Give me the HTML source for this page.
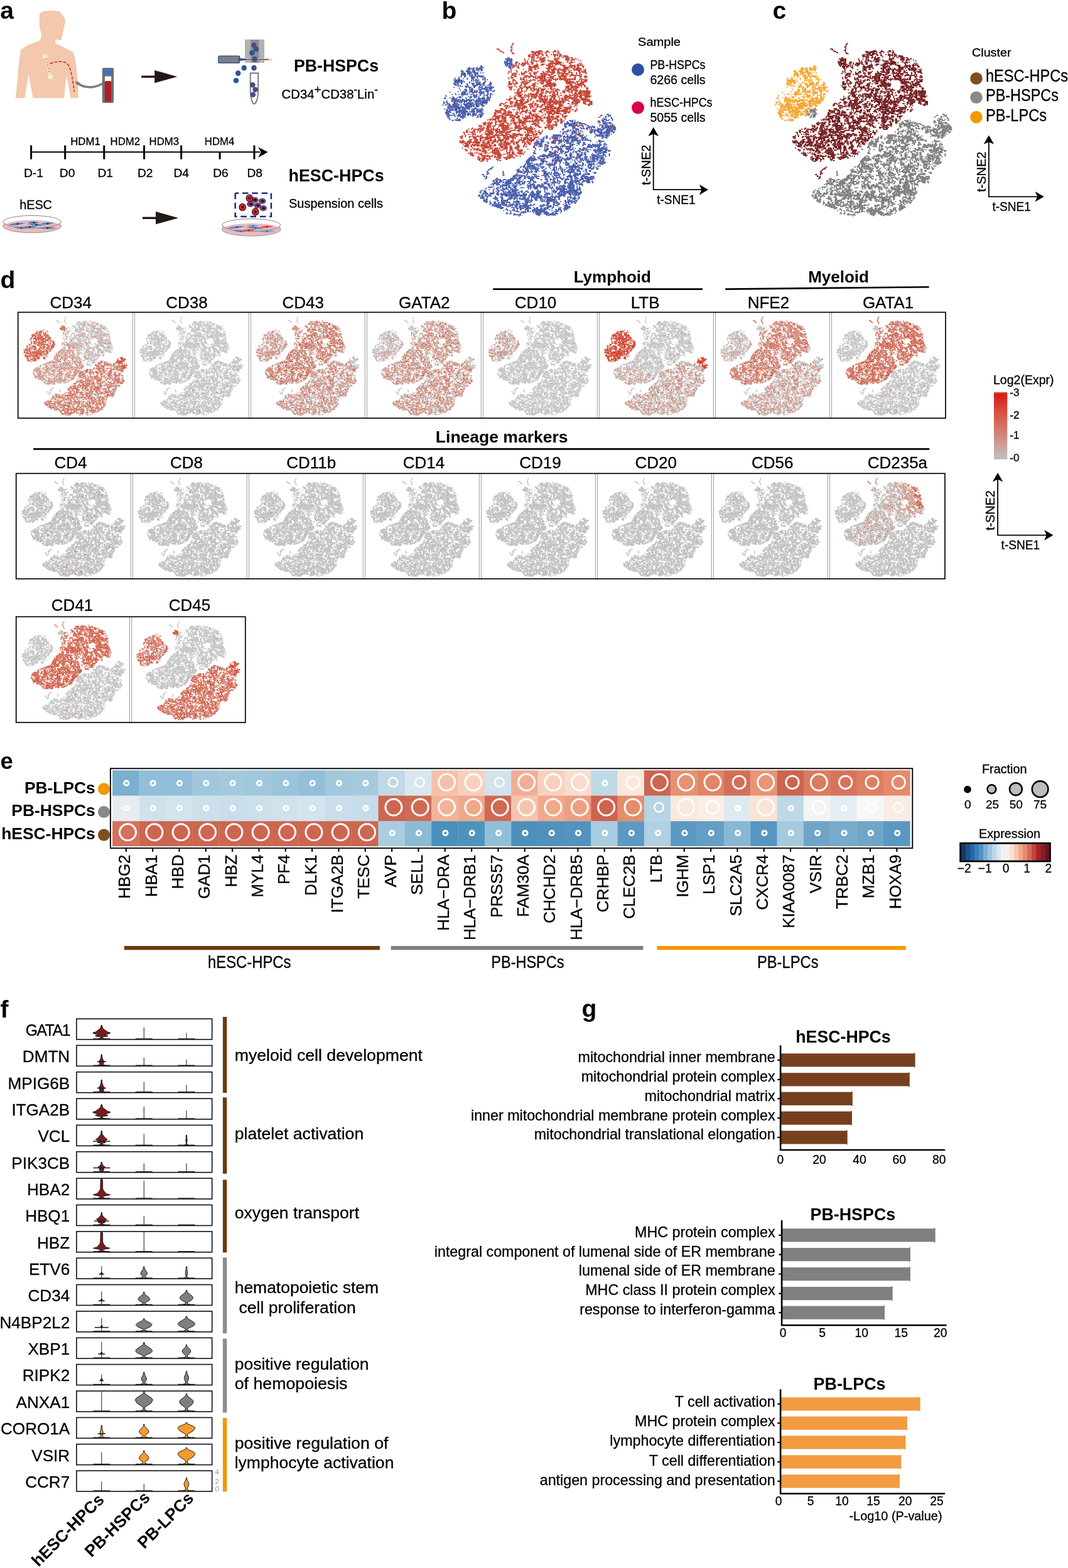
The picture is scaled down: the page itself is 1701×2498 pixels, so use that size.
<!DOCTYPE html>
<html lang="en"><head><meta charset="utf-8"><title>Figure</title>
<style>html,body{margin:0;padding:0;background:#fff}svg{display:block}text{font-family:'Liberation Sans',sans-serif;stroke:#000;stroke-width:.3px}text[font-weight=bold]{stroke:none}</style></head>
<body><svg width="1701" height="2498" viewBox="0 0 1701 2498">
<rect width="1701" height="2498" fill="#fff"/>
<defs>
<path id="bL" d="M84 81h0m3 0h0m10 2h0m3-2h0m7 2h0m2 0h0m1-3h0m3 3h0m6-3h0m4-6h0m0 3h0m0 3h0m3-3h0m0 4h0m4-1h0m-4 4h0m0 3h0m0 3h0m-3-3h0m0 3h0m-1-6h0m-3 0h0m-3 0h0m0 3h0m0 4h0m-3-4h0m-3 3h0m-1-3h0m-6 3h0m0 3h0m-3-9h0m0 3h0m0 4h0m-1 3h0m-3-7h0m0 3h0m0 4h0m-3-10h0m-3 0h0m0 9h0m-4-9h0m0 3h0m0 3h0m0 4h0m-3-10h0m0 3h0m0 3h0m0 4h0m-3-10h0m0 6h0m0 3h0m-3 0h0m-1-3h0m-10 3h0m-3-3h0m0 3h0m-2 1h0m-1-4h0m0 10h0m0 4h0m0 3h0m3-10h0m0 3h0m0 3h0m3-6h0m1 3h0m0 4h0m3-7h0m0 3h0m0 3h0m0 3h0m3-6h0m0 3h0m0 3h0m7-9h0m0 4h0m3-1h0m1-4h0m2 1h0m0 3h0m0 3h0m1 4h0m2-10h0m1 3h0m0 6h0m2 1h0m1-10h0m0 6h0m3 0h0m0 4h0m4-10h0m3 0h0m0 3h0m0 3h0m0 4h0m3-11h0m0 4h0m0 4h0m0 3h0m3-10h0m0 3h0m4-4h0m0 4h0m0 4h0m0 3h0m3 0h0m3-1h0m3-9h0m1 10h0m3 0h0m3-10h0m0 9h0m14 13h0m-7-6h0m0 4h0m-3-7h0m0 6h0m-4-5h0m0 5h0m0 3h0m-3-9h0m-3 0h0m-4-1h0m-7 1h0m0 3h0m0 6h0m-3-9h0m-2 7h0m-5-7h0m-2 0h0m0 3h0m0 3h0m-3 0h0m-1-6h0m0 3h0m-2 3h0m-2-6h0m0 4h0m-13 0h0m0 3h0m-6-8h0m-3 1h0m-3 6h0m-7-6h0m-6 4h0m0 3h0m-1-7h0m-3 6h0m-10-2h0m0 2h0m-3 4h0m0 9h0m3-9h0m0 4h0m0 2h0m1 3h0m2-6h0m0 6h0m1-9h0m0 7h0m2-4h0m1-3h0m0 7h0m0 3h0m3-7h0m0 3h0m0 4h0m1-10h0m2 0h0m0 3h0m0 4h0m3-7h0m1 3h0m0 4h0m3-7h0m0 3h0m0 4h0m0 2h0m3-6h0m0 4h0m0 2h0m4-6h0m3 3h0m16 3h0m1-3h0m6-6h0m0 3h0m0 7h0m3 0h0m3-10h0m1 3h0m0 7h0m6-10h0m0 3h0m0 4h0m3-7h0m1 7h0m0 3h0m2-7h0m0 3h0m0 4h0m4-10h0m0 10h0m1-4h0m2 4h0m1-4h0m9 4h0m3-3h0m0 3h0m3 0h0m1-10h0m0 3h0m0 3h0m16 4h0m1-4h0m2 4h0m8 13h0m-4-1h0m-3-9h0m0 10h0m-1-4h0m-3-6h0m0 4h0m0 2h0m0 4h0m-2-10h0m-1 3h0m0 7h0m-3 0h0m-1-6h0m-2 6h0m-4-4h0m0 4h0m-3 0h0m-3-6h0m-1-4h0m-3 0h0m0 4h0m-3 3h0m0 3h0m-3-10h0m0 3h0m-1 7h0m-2 0h0m-1-10h0m0 4h0m0 3h0m-3-7h0m0 10h0m-3-10h0m0 3h0m-3 0h0m-1-3h0m-2 6h0m-1-3h0m-3 4h0m0 3h0m-1-6h0m-2-4h0m0 4h0m0 6h0m-1-4h0m-2-3h0m-1-3h0m-6 10h0m-3 0h0m-4-3h0m0 3h0m-3-10h0m0 3h0m0 3h0m-3-6h0m0 7h0m0 3h0m-3 0h0m-1-4h0m-10 1h0m-3-7h0m-3 7h0m-1-3h0m-5 3h0m-1-7h0m0 3h0m-4 0h0m-2 0h0m-1-2h0m-3-1h0m0 3h0m-3-3h0m0 10h0m17 3h0m3 6h0m13-2h0m4-1h0m0 4h0m2-3h0m1 3h0m9-7h0m0 4h0m3-1h0m1 3h0m3-6h0m0 4h0m1 3h0m2-6h0m0 2h0m0 4h0m7 0h0m7-1h0m6-5h0m0 2h0m3 4h0m1-4h0m2 4h0m1-4h0m3-3h0m0 3h0m3-2h0m3 2h0m1-2h0m3-1h0m0 4h0m3 0h0m0 3h0m1-7h0m2 1h0m1 2h0m0 4h0m2 0h0m1-4h0m3-3h0m1 7h0m2-7h0m0 3h0m0 4h0m3-7h0m0 3h0m1 4h0m3-7h0m6 7h0m0 3h0m-3 0h0m-3 0h0m-1 10h0m-3-3h0m-2 0h0m-1 3h0m-6-10h0m0 3h0m0 7h0m-1-3h0m-2-7h0m0 3h0m-1 7h0m-3-10h0m-6 11h0m-1-11h0m0 4h0m0 3h0m-3-4h0m-2 4h0m-1-7h0m0 4h0m-3 0h0m0 2h0m-1-6h0m0 10h0m-2-4h0m0 4h0m-1-10h0m0 4h0m-3 0h0m-4-4h0m-2 10h0m-1-10h0m0 4h0m-2 0h0m-1-4h0m-3 3h0m0 8h0m-1-11h0m-2 4h0m-1 6h0m-2-3h0m-1-7h0m0 3h0m-3 0h0m0 7h0m-1-10h0m-2 10h0m-1-10h0m-3 0h0m0 4h0m-6 2h0m0 4h0m-3-10h0m-1 10h0m-2-4h0m-1-5h0m0 3h0m0 6h0m-3-10h0m0 4h0m0 3h0m0 3h0m-4-10h0m0 4h0m0 3h0m0 4h0m-2-1h0m-1-7h0m0 4h0m-2-1h0m-1 4h0m-7 0h0m-3-9h0m-7 9h0m-2-3h0m-10 3h0m-7-7h0m-17 17h0m0 3h0m3 0h0m1-10h0m0 3h0m13 4h0m6 3h0m3-6h0m1 3h0m0 3h0m3-3h0m0 3h0m7 0h0m3-3h0m6-3h0m1 3h0m3-3h0m0 3h0m2 0h0m4-4h0m1-2h0m10 6h0m3 3h0m6-7h0m4 4h0m2-4h0m0 4h0m3 0h0m1-3h0m6-4h0m0 3h0m3 4h0m1-6h0m0 3h0m3 0h0m1-4h0m0 7h0m2-6h0m1 2h0m3 7h0m3-6h0m0 3h0m0 3h0m3 0h0m1-10h0m3 10h0m4-3h0m2 0h0m0 3h0m3-6h0m0 4h0m1-8h0m0 10h0m2 0h0m4-10h0m3 7h0m0 3h0m1-10h0m0 3h0m3 1h0m0 4h0m0 2h0m3-3h0m4-7h0m0 4h0m0 3h0m-3 6h0m0 4h0m-1-6h0m-3 3h0m-3 0h0m0 3h0m0 4h0m-3-7h0m-1 3h0m0 3h0m-3-6h0m0 2h0m0 4h0m-3 0h0m-1-7h0m0 4h0m-2 0h0m0 3h0m-1-7h0m-3 4h0m0 3h0m-1-9h0m-2 5h0m0 5h0m-3-8h0m0 4h0m-1 3h0m-2-6h0m-1 3h0m0 3h0m-3-6h0m0 2h0m-1 4h0m-3-6h0m0 3h0m0 3h0m-3-3h0m0 3h0m-3 1h0m-3-8h0m0 4h0m-3-4h0m-4 1h0m0 3h0m-3 4h0m-1-8h0m0 4h0m-2 3h0m-1-7h0m0 4h0m-3-4h0m0 3h0m-3-2h0m0 2h0m-3 4h0m-1-6h0m0 3h0m-3 0h0m0 3h0m-3-3h0m-1-3h0m0 6h0m-2-6h0m0 2h0m-3-5h0m0 3h0m-1 3h0m0 3h0m-3-4h0m0 4h0m-4-7h0m0 4h0m0 3h0m-2 0h0m-1-6h0m-3-1h0m0 4h0m0 3h0m-3-6h0m0 2h0m0 4h0m-3-4h0m-1-2h0m0 6h0m-3-9h0m0 2h0m0 4h0m0 4h0m-3-8h0m0 4h0m0 3h0m-3-7h0m-1 4h0m-3-4h0m0 4h0m0 3h0m-16-3h0m-1 3h0m-9 0h0m-3 11h0m3-7h0m0 3h0m4-4h0m2 7h0m4-6h0m0 6h0m3-7h0m0 4h0m3 6h0m1-6h0m0 3h0m2-3h0m0 7h0m1-4h0m3 3h0m3 1h0m3-4h0m1-3h0m0 6h0m3-10h0m0 4h0m0 3h0m0 3h0m3-9h0m0 2h0m0 4h0m0 3h0m3-7h0m0 4h0m0 3h0m3-6h0m0 4h0m1-7h0m0 10h0m3-7h0m1 3h0m0 3h0m3-3h0m2-6h0m4 6h0m0 3h0m1-10h0m6 4h0m3-4h0m0 4h0m0 3h0m3 3h0m1-6h0m0 3h0m2-3h0m1 3h0m0 3h0m2-9h0m1 3h0m0 4h0m0 2h0m3-10h0m0 3h0m0 5h0m0 3h0m3-10h0m0 3h0m1 3h0m0 4h0m2-10h0m1 3h0m0 3h0m0 4h0m3-7h0m0 4h0m0 2h0m1-9h0m2-1h0m0 3h0m0 5h0m0 2h0m4-6h0m0 3h0m0 3h0m6-9h0m0 2h0m0 4h0m1 4h0m2-10h0m0 3h0m0 3h0m0 3h0m3-3h0m0 3h0m1-9h0m0 2h0m3 0h0m0 4h0m0 4h0m3-7h0m1-3h0m2-1h0m0 4h0m1 3h0m3-7h0m0 7h0m0 3h0m1-7h0m2-3h0m0 4h0m0 4h0m0 3h0m4-10h0m0 9h0m2-7h0m1-3h0m3 0h0m1 4h0m2-4h0m-29 13h0m-3 7h0m-1-7h0m-3 4h0m0 3h0m-3-3h0m0 3h0m-3-7h0m0 7h0m0 3h0m-4-3h0m-3-6h0m0 9h0m-3-10h0m-3 4h0m0 3h0m-1-7h0m-3 1h0m0 3h0m0 3h0m-3-7h0m0 4h0m0 3h0m-3-4h0m-1-3h0m0 7h0m-2-4h0m-1-2h0m0 7h0m0 2h0m-3-6h0m0 4h0m-3-8h0m0 4h0m0 3h0m-3-6h0m-1 3h0m0 3h0m-3-6h0m-3 0h0m0 3h0m0 6h0m-1-2h0m-3-7h0m0 2h0m0 4h0m-2-3h0m0 3h0m-1-6h0m-3 0h0m0 3h0m-1 3h0m0 3h0m-2-9h0m-1 3h0m0 3h0m0 3h0m-3-10h0m0 3h0m0 4h0m0 3h0m-3-9h0m-3 0h0m0 2h0m0 4h0m-4-7h0m0 4h0m0 4h0m-3-8h0m0 3h0m0 5h0m-4-5h0m0 5h0m-2-7h0m0 6h0m-1-3h0m-3-4h0m0 4h0m0 6h0m-3-2h0m-7-1h0m3 10h0m0 4h0m3-8h0m1-2h0m0 6h0m0 3h0m3-6h0m0 4h0m1 3h0m2 0h0m1-7h0m0 3h0m3-6h0m0 3h0m0 3h0m3-6h0m0 7h0m3-7h0m3 0h0m1 10h0m3-10h0m6 2h0m1 4h0m0 4h0m3-7h0m0 3h0m0 3h0m3-6h0m1 3h0m2 0h0m0 4h0m1-10h0m0 3h0m2 4h0m1-4h0m3-3h0m0 3h0m0 4h0m0 3h0m3-10h0m1 2h0m0 4h0m0 4h0m2-10h0m1 3h0m0 3h0m0 3h0m3-9h0m0 3h0m0 3h0m0 3h0m3-3h0m0 4h0m1-7h0m2 0h0m1 3h0m2-3h0m0 3h0m1 4h0m4-1h0m2 0h0m1-6h0m3 3h0m3-3h0m0 3h0m3-6h0m0 3h0m1 3h0m0 4h0m2-4h0m0 4h0m1-7h0m2 13h0m-2-3h0m0 3h0m-4-3h0m0 3h0m0 3h0m-6-3h0m-1-4h0m-3 0h0m-3 1h0m0 3h0m-3-3h0m0 3h0m-6-3h0m-1 3h0m0 7h0m-3-10h0m0 4h0m0 3h0m-3 3h0m-1-10h0m0 3h0m0 3h0m-2-3h0m-1-3h0m0 7h0m0 2h0m-2 0h0m-1-3h0m-3-6h0m0 3h0m0 7h0m-1-4h0m-2 0h0m-1-6h0m0 4h0m-3-2h0m0 5h0m-3-3h0m-7-1h0m0 4h0m-3-8h0m-1 5h0m-2-5h0m-4 5h0m-3-1h0m-4 0h0m-2-3h0m0 2h0m0 7h0m-1-3h0m-3-7h0m0 4h0m0 4h0m0 3h0m-3-7h0m-1-3h0m8 14h0m2-1h0m1 4h0m7 2h0m3 1h0m6-3h0m3 2h0m3-3h0m1-4h0m0 8h0m3 0h0m1-4h0m2 4h0m1-4h0m2 4h0m1-3h0m6-4h0m3-1h0"/>
<path id="bG" d="M129 215h0m-3-6h0m0 4h0m-3 0h0m-4-1h0m-6 0h0m0 3h0m-11 4h0m1 3h0m0 4h0m6-10h0m0 2h0m0 8h0m1-4h0m2 0h0m1-3h0m3-3h0m0 2h0m0 4h0m3-3h0m1-3h0m0 7h0m2-7h0m0 6h0m1-3h0m2 6h0m1-7h0m0 4h0m3 4h0m1 2h0m-4 1h0m0 3h0m-1 3h0m-2-6h0m0 3h0m0 3h0m0 3h0m-3-5h0m0 6h0m-1-10h0m0 6h0m-2-6h0m-4 3h0m0 3h0m0 4h0m-3 0h0m-3-10h0m-1 4h0m-3-4h0"/>
<path id="bM" d="M222 8h0m1-2h0m1 0h0m2-3h0m-5 10h0m0 2h0m0 5h0m0 2h0m-3-7h0m-38 8h0m-1-1h0m-1-1h0m-4 0h0m9 6h0m3 1h0m2 0h0m2 2h0m4 2h0m1 1h0m22-8h0m3 1h0m0 2h0m2 4h0m1 3h0m2 0h0m59-6h0m1 4h0m2-4h0m0 4h0m4-4h0m0 4h0m0 2h0m3-2h0m3-3h0m1 3h0m3-4h0m0 3h0m3-3h0m0 4h0m3-6h0m1 3h0m0 3h0m2 0h0m1-7h0m0 3h0m3 0h0m1-2h0m2 2h0m1 4h0m9 0h0m4-4h0m0 3h0m3-6h0m1 3h0m2 0h0m3 3h0m13-2h0m1 2h0m3-6h0m1 3h0m2-3h0m1 4h0m6-4h0m0 6h0m3-3h0m1 4h0m29 13h0m-3-3h0m0 3h0m-4-3h0m0 3h0m-2 0h0m-1-4h0m-3 3h0m-1-2h0m-6-3h0m0 6h0m-3-3h0m-1-4h0m-2-3h0m-1 3h0m0 4h0m0 3h0m-6-10h0m0 4h0m0 3h0m-3-3h0m-4-1h0m0 3h0m-2 3h0m-1-6h0m0 3h0m-3-5h0m0 3h0m-7-1h0m-10 7h0m-3-4h0m-3-6h0m0 4h0m0 2h0m-10 0h0m-1-3h0m-2 1h0m-1-4h0m-3 0h0m0 9h0m-4-9h0m-2 3h0m-1-3h0m-2 0h0m0 10h0m-1-7h0m0 4h0m-2-3h0m-1 2h0m-3-2h0m0 2h0m-1-6h0m-3 0h0m0 3h0m-2 7h0m-1-6h0m0 3h0m-3-4h0m0 4h0m-1 2h0m-2-6h0m0 7h0m-4-6h0m0 5h0m-3-6h0m-1 4h0m0 3h0m-2-3h0m0 3h0m-1-6h0m-46-4h0m33 16h0m1 4h0m2 3h0m7 0h0m4-6h0m9 3h0m1-7h0m0 3h0m3-3h0m0 7h0m3-7h0m0 6h0m0 4h0m1-6h0m2 6h0m4 0h0m2 0h0m1-10h0m4 0h0m2 10h0m4-10h0m0 4h0m0 3h0m3-7h0m0 3h0m0 3h0m3 1h0m1-4h0m0 7h0m2-4h0m1-6h0m0 3h0m0 7h0m3-10h0m0 4h0m0 3h0m3-7h0m1 7h0m9 0h0m1 3h0m5 0h0m4 0h0m4 0h0m6-6h0m0 3h0m1-7h0m2 3h0m0 3h0m1 4h0m2-7h0m1 4h0m0 3h0m2-6h0m1-3h0m0 9h0m3-10h0m1 4h0m13-4h0m9 4h0m0 3h0m1-7h0m2 6h0m1-5h0m0 2h0m2 4h0m0 2h0m1-9h0m0 4h0m3 0h0m0 3h0m1-7h0m6 0h0m0 7h0m0 3h0m3-10h0m0 4h0m0 3h0m4-4h0m0 4h0m3 0h0m3-4h0m3 0h0m7 4h0m7 3h0m3 7h0m-3 3h0m-3-3h0m-4 3h0m-13-6h0m-6 0h0m-1 2h0m-3-3h0m0 3h0m-3 4h0m-1-4h0m-2 1h0m-4-4h0m-3 0h0m-13 3h0m-7-2h0m0 2h0m0 4h0m-3-4h0m0 4h0m-1-7h0m-2 4h0m-1-6h0m0 3h0m0 6h0m-3-6h0m0 3h0m0 3h0m-3-6h0m0 3h0m0 3h0m-3-7h0m0 7h0m-1-3h0m-3 0h0m0 2h0m-3-6h0m0 4h0m-3 3h0m-1-7h0m0 4h0m-2-4h0m-1 4h0m0 3h0m-4-6h0m0 3h0m0 3h0m-2 0h0m-3 0h0m-14-9h0m0 2h0m0 7h0m-3-7h0m0 7h0m-4-6h0m0 6h0m-3-9h0m0 3h0m-13-1h0m0 6h0m-13-5h0m0 3h0m0 3h0m-3-3h0m-1-6h0m0 2h0m0 7h0m-3-7h0m-7 7h0m-2-4h0m-1-3h0m0 7h0m-3-4h0m-4-3h0m0 4h0m0 3h0m-2-3h0m-1 3h0m-3-3h0m0 3h0m-3-4h0m0 3h0m-3 1h0m-7-3h0m0 3h0m-6-6h0m-1 2h0m-3-3h0m0 3h0m0 4h0m-3-3h0m-10 10h0m0 6h0m3-6h0m0 3h0m3-7h0m0 3h0m1 3h0m2-5h0m4-1h0m0 4h0m4 3h0m2-6h0m0 6h0m1-3h0m0 6h0m2 0h0m7-10h0m4 1h0m3-1h0m0 4h0m4-4h0m12 10h0m1-6h0m2-4h0m1 4h0m0 3h0m0 3h0m3-6h0m0 3h0m0 3h0m4-3h0m0 4h0m3-7h0m0 3h0m3-4h0m0 4h0m3-6h0m0 6h0m0 3h0m1-6h0m2-1h0m0 7h0m1-10h0m0 7h0m3-7h0m0 4h0m0 2h0m3-6h0m0 4h0m0 2h0m0 4h0m3 1h0m7-11h0m4 0h0m2 0h0m11 0h0m0 10h0m2 0h0m1-9h0m3 0h0m0 6h0m1-4h0m0 7h0m2-3h0m1-7h0m0 4h0m0 7h0m2-8h0m1-3h0m0 7h0m0 3h0m3-6h0m0 3h0m4-6h0m0 2h0m0 4h0m3-4h0m0 8h0m3-7h0m0 3h0m0 4h0m3-1h0m1-10h0m2 0h0m10 10h0m4-10h0m4 0h0m3 0h0m0 3h0m3-2h0m0 3h0m0 3h0m0 4h0m3-10h0m0 3h0m0 3h0m0 3h0m3-3h0m0 3h0m4-3h0m0 3h0m3-3h0m0 3h0m4-6h0m0 2h0m3-5h0m0 2h0m0 7h0m3-10h0m0 4h0m0 3h0m3-6h0m0 6h0m1-4h0m2 7h0m1-7h0m3-3h0m0 3h0m0 4h0m0 4h0m3-8h0m0 4h0m3 3h0m3-10h0m0 10h0m1-7h0m0 4h0m3-7h0m0 3h0m0 7h0m1-3h0m3-6h0m0 9h0m2 0h0m1-10h0m3 0h0m3 0h0m0 3h0m1 4h0m2 0h0m1-3h0m6 9h0m0 4h0m0 3h0m0 3h0m-3-2h0m0 2h0m-1-6h0m-2-3h0m0 7h0m0 2h0m-4-3h0m-3-7h0m0 7h0m-3-7h0m-1 4h0m0 6h0m-2-9h0m-1 3h0m0 3h0m-3-6h0m0 3h0m0 3h0m-3-7h0m-1 3h0m-2-3h0m-1 4h0m-3-3h0m-3 0h0m0 3h0m-3-3h0m-7 3h0m-4 3h0m-3-3h0m0 3h0m-3-7h0m-4 0h0m-2 0h0m0 4h0m-1 3h0m-3-7h0m0 3h0m0 4h0m0 3h0m-3-9h0m0 3h0m0 6h0m-1-3h0m-2 0h0m-1-6h0m0 2h0m-3 1h0m0 6h0m-3-10h0m0 3h0m-3 7h0m-1-9h0m-2 0h0m-1 3h0m0 3h0m0 3h0m-3-10h0m0 4h0m0 2h0m0 4h0m-4-9h0m-3-1h0m-3 1h0m0 3h0m0 4h0m-3-7h0m0 3h0m0 4h0m-3-7h0m0 3h0m-1 3h0m0 3h0m-3-10h0m0 4h0m0 6h0m-3 0h0m-3-3h0m0 3h0m-1-9h0m0 3h0m-2-4h0m0 8h0m0 2h0m-1-6h0m-3-4h0m0 7h0m-4 1h0m-9 2h0m-1-3h0m-16 0h0m-3 3h0m-3-9h0m-3 9h0m-1-9h0m-3 9h0m-6-6h0m0 3h0m-1-6h0m-3 0h0m0 3h0m-3-4h0m0 3h0m-3 4h0m-1-4h0m-6 7h0m-1-3h0m-3 1h0m0 2h0m-3 0h0m-3-9h0m-6 9h0m-14-3h0m0 3h0m-3-6h0m-16 0h0m-1-4h0m0 7h0m-6 0h0m0 3h0m-3 4h0m10-3h0m2 9h0m1-3h0m3-3h0m0 3h0m0 3h0m4-7h0m0 4h0m2-4h0m1 4h0m0 4h0m3-7h0m0 3h0m10 0h0m7-4h0m0 4h0m3-3h0m0 3h0m3-3h0m0 3h0m3 3h0m1-6h0m6 6h0m3 1h0m6-7h0m1-3h0m3 6h0m0 3h0m1-7h0m3 8h0m6-7h0m1 3h0m2-3h0m0 3h0m4-6h0m0 3h0m0 6h0m16-6h0m0 3h0m0 4h0m3-7h0m1 3h0m0 3h0m2 0h0m1-6h0m3-3h0m0 2h0m0 4h0m0 3h0m3-4h0m0 5h0m1-7h0m2 3h0m0 3h0m1-6h0m3-3h0m0 6h0m3 0h0m1 3h0m2 0h0m1-3h0m3 3h0m3-6h0m0 3h0m3 0h0m1-3h0m3-3h0m0 3h0m3-3h0m0 9h0m3 0h0m6-6h0m4 3h0m1-3h0m0 7h0m3-7h0m2 0h0m1 7h0m3-8h0m0 5h0m0 2h0m3-6h0m0 6h0m1-3h0m2-3h0m0 3h0m1 3h0m3-6h0m1 7h0m2-4h0m1-3h0m2 0h0m0 2h0m1 5h0m3-8h0m0 4h0m3-6h0m3 0h0m1 9h0m2 0h0m1-9h0m0 7h0m3-7h0m0 2h0m0 4h0m0 3h0m3-3h0m1 3h0m3 0h0m3 1h0m3-4h0m0 4h0m1-10h0m0 3h0m3 6h0m3 0h0m3-9h0m0 9h0m1-3h0m2-3h0m3 3h0m0 3h0m5-9h0m9 2h0m0 8h0m3-8h0m1 20h0m-1-10h0m0 4h0m-3-4h0m0 4h0m0 7h0m-3-11h0m0 4h0m0 7h0m-3-1h0m-4 1h0m-3-10h0m0 6h0m0 4h0m-3-10h0m-1 2h0m0 5h0m-2-7h0m0 9h0m-14-9h0m0 3h0m0 3h0m0 3h0m-3-6h0m0 3h0m0 4h0m-4-1h0m-3-3h0m0 3h0m-3 1h0m-3-1h0m-1-10h0m0 7h0m-3 3h0m-3-2h0m-1 2h0m-2 1h0m-3-4h0m-1-7h0m0 4h0m0 6h0m-2 1h0m-1-10h0m0 3h0m0 3h0m-3-7h0m0 4h0m0 7h0m-1-3h0m-2 2h0m-1-9h0m0 6h0m-2-7h0m-1 7h0m0 3h0m-3-6h0m0 3h0m0 4h0m-1-11h0m-2 4h0m-1-3h0m0 6h0m0 3h0m-3-9h0m-3 6h0m0 3h0m-3 0h0m-3-3h0m0 3h0m-4 0h0m-3-10h0m0 3h0m0 7h0m-1-2h0m-2-4h0m-1-4h0m0 7h0m-2 0h0m-1-6h0m0 3h0m0 7h0m-3-7h0m-1-3h0m0 7h0m0 2h0m-2-6h0m0 6h0m-3 1h0m-1-7h0m-3 0h0m-1 7h0m-2 0h0m-4-10h0m0 3h0m0 3h0m0 3h0m-3-10h0m0 4h0m0 3h0m0 4h0m-3-7h0m-1-3h0m0 9h0m-2-10h0m0 4h0m0 3h0m0 4h0m-4-10h0m0 3h0m0 3h0m0 3h0m-3-10h0m0 4h0m0 3h0m0 3h0m-3-9h0m-1 3h0m-2 0h0m-1-3h0m0 7h0m-3-1h0m-3-4h0m-1-2h0m0 6h0m-2-4h0m-1 8h0m-3-10h0m0 3h0m0 6h0m-3-9h0m0 9h0m-3-9h0m-4 0h0m0 10h0m-3-11h0m-1 4h0m-3-4h0m0 4h0m-6-3h0m0 2h0m0 8h0m-3-11h0m0 3h0m-3-3h0m-1 4h0m0 6h0m-2-6h0m-1 3h0m-1 4h0m-3-4h0m-2 4h0m-3-7h0m0 3h0m0 3h0m-14-10h0m-3 1h0m-4-1h0m0 10h0m-3-6h0m0 7h0m-3-7h0m0 3h0m-3-6h0m0 3h0m-7 4h0m-1-4h0m1 13h0m0 3h0m0 3h0m3-6h0m0 4h0m4 2h0m6-9h0m0 3h0m0 3h0m4-7h0m3 1h0m0 9h0m3-6h0m0 3h0m3 3h0m1-3h0m12 0h0m3-3h0m1 3h0m3-3h0m0 4h0m3-8h0m0 4h0m0 6h0m3-6h0m1 3h0m3-6h0m0 7h0m0 2h0m1-6h0m3 3h0m3-6h0m0 6h0m3-6h0m0 3h0m4-3h0m6-1h0m7 0h0m0 8h0m3 0h0m6-7h0m1 2h0m3-2h0m2 0h0m1 6h0m3-6h0m0 6h0m3-6h0m0 3h0m1 4h0m0 2h0m2-6h0m1-3h0m0 7h0m3-4h0m1-4h0m2 1h0m4 0h0m0 4h0m0 3h0m3-5h0m0 4h0m3-3h0m0 4h0m1-7h0m3 0h0m0 3h0m0 3h0m0 3h0m2-6h0m1-4h0m0 7h0m0 3h0m3-10h0m0 7h0m4 3h0m3-3h0m6 3h0m1-9h0m29-1h0m3 1h0m0 3h0m1 3h0m3-6h0m0 3h0m0 3h0m2-7h0m1 5h0m0 3h0m3-4h0m0 3h0m1-6h0m2 0h0m0 9h0m1-6h0m0 3h0m3-3h0m0 3h0m3-3h0m1 4h0m3-4h0m0 4h0m3-1h0m3 1h0m4-4h0m2 0h0m0 3h0m1 3h0m3-7h0m3-2h0m1 9h0m3-3h0m2 1h0m1-7h0m0 3h0m0 6h0m3-3h0m1-3h0m0 6h0m2-6h0m1 3h0m2-2h0m1-4h0m3 0h0m0 3h0m3-4h0m0 4h0m-3 16h0m-3-6h0m0 3h0m-1 3h0m-3-9h0m0 3h0m-3 0h0m-3 1h0m0 6h0m-1-4h0m-2-6h0m0 6h0m-1-3h0m-2 3h0m-1-3h0m-3-3h0m0 3h0m0 3h0m0 4h0m-3-7h0m0 7h0m-3-3h0m0 2h0m-1-6h0m-3-3h0m0 6h0m0 3h0m-3 0h0m-3-2h0m-1 2h0m-3-6h0m0 3h0m0 4h0m-3-8h0m0 4h0m0 4h0m-1-10h0m-2 6h0m-1-4h0m-3-2h0m0 7h0m0 2h0m-2-2h0m-1-7h0m0 9h0m-3-2h0m0 3h0m-1-10h0m-3 9h0m-32-7h0m-1 4h0m-3-6h0m0 3h0m0 3h0m0 3h0m-3-9h0m0 6h0m-1-3h0m-3 0h0m0 4h0m-2-4h0m-1-3h0m0 7h0m0 2h0m-3-6h0m0 3h0m0 4h0m-3-7h0m0 3h0m0 3h0m-3-6h0m0 3h0m-1-6h0m-3 0h0m0 3h0m0 4h0m0 2h0m-3-3h0m0 3h0m-1-6h0m-2 0h0m0 3h0m-4 0h0m0 4h0m-3-10h0m0 7h0m0 2h0m-6-9h0m-11 0h0m-3 9h0m-6-6h0m-1-3h0m0 6h0m0 4h0m-3-10h0m0 3h0m0 4h0m0 2h0m-3-9h0m0 3h0m0 3h0m-4 0h0m-6 1h0m0 3h0m-3-1h0m-4-9h0m0 10h0m-3 0h0m-3-7h0m0 3h0m0 4h0m-1-10h0m-2 3h0m0 3h0m-1 4h0m-3-10h0m0 10h0m-6-10h0m0 6h0m-1-3h0m-3 3h0m0 4h0m-3-1h0m-9-9h0m-1 10h0m-4-3h0m-2-4h0m-1-3h0m-6 0h0m0 9h0m-3-6h0m-1 6h0m-3-9h0m0 3h0m0 7h0m-3-7h0m0 7h0m-3-4h0m3 6h0m3 5h0m1-4h0m3 0h0m0 3h0m0 3h0m2-7h0m8 7h0m9 4h0m3-7h0m0 4h0m1 2h0m2-2h0m1-4h0m3-3h0m3 3h0m1-4h0m0 8h0m0 3h0m2-10h0m0 3h0m1 7h0m7 0h0m6-10h0m0 7h0m0 2h0m1-6h0m2-3h0m0 3h0m4-4h0m3 1h0m3 3h0m1-4h0m0 8h0m3-4h0m0 6h0m3-9h0m0 10h0m3-10h0m0 3h0m0 3h0m0 4h0m3-7h0m1 3h0m3-3h0m2 0h0m1 3h0m0 4h0m3-3h0m1-4h0m0 7h0m2-7h0m0 4h0m1-7h0m0 9h0m3-9h0m3 3h0m0 6h0m1-3h0m2 4h0m1-7h0m0 4h0m3-4h0m0 3h0m0 4h0m3-7h0m0 3h0m3-3h0m4 6h0m3 0h0m3-6h0m7-3h0m0 3h0m3-3h0m0 3h0m0 4h0m3-7h0m1 6h0m3-3h0m0 6h0m3-6h0m3 0h0m0 4h0m0 3h0m4-4h0m0 4h0m3-7h0m0 3h0m3 1h0m3 0h0m11 2h0m2 1h0m4-4h0m0 4h0m3-7h0m1-3h0m2 7h0m1-7h0m0 10h0m3-11h0m0 4h0m0 3h0m0 3h0m3 1h0m1-10h0m0 3h0m0 3h0m2-3h0m1 3h0m3-6h0m0 3h0m0 4h0m3-7h0m0 7h0m0 3h0m3-10h0m1 4h0m0 3h0m2-3h0m1-4h0m0 7h0m3-7h0m0 9h0m1-6h0m0 4h0m2 0h0m0 2h0m1-10h0m0 4h0m2 7h0m1-10h0m0 7h0m3-8h0m3 11h0m4-4h0m0 3h0m3 1h0m4 0h0m3-1h0m3 1h0m4 0h0m2-10h0m1 3h0m0 4h0m0 3h0m2-3h0m0 3h0m1-10h0m0 3h0m3 7h0m4 0h0m0 3h0m-1 3h0m0 4h0m-3-7h0m0 4h0m0 2h0m0 3h0m-3-9h0m0 3h0m-1 3h0m-3-6h0m0 3h0m0 4h0m-3-7h0m0 4h0m0 2h0m-3-6h0m0 3h0m-1 4h0m-2 0h0m-1-8h0m0 4h0m-3 1h0m-3-4h0m0 3h0m-1 4h0m-2-7h0m0 3h0m-1 4h0m-2-3h0m0 3h0m-1-7h0m-2 1h0m-1 2h0m0 3h0m-3 3h0m-1-2h0m-2 0h0m-1-7h0m0 4h0m-3-3h0m0 2h0m0 3h0m-3 0h0m-7-5h0m0 3h0m-3-4h0m-4 0h0m-2 6h0m-1-6h0m-13 1h0m-3-1h0m0 3h0m-4-3h0m-7 3h0m-9-3h0m0 3h0m0 3h0m-3-6h0m0 7h0m-4 2h0m-3-9h0m0 4h0m0 2h0m-3-6h0m-1 3h0m0 3h0m-2 1h0m-1-8h0m-3 1h0m-3 0h0m0 3h0m-3 1h0m-1-5h0m-3 1h0m-3 0h0m-4 0h0m0 4h0m-2 0h0m-7-3h0m0 2h0m-3 0h0m-1 3h0m-2-5h0m-1 2h0m0 4h0m-3 0h0m-3 2h0m-1-5h0m-3-4h0m0 3h0m-3-2h0m0 2h0m0 4h0m-3-4h0m0 4h0m0 2h0m-4-2h0m-3 0h0m-3-1h0m0 3h0m-3-2h0m-3-1h0m-1-2h0m-3 3h0m-4-1h0m-9 3h0m-3-9h0m-8 7h0m-2-7h0m-3 3h0m-1-3h0m0 7h0m-3-7h0m0 3h0m0 4h0m-3-4h0m0 4h0m-1-7h0m-2 0h0m0 4h0m0 3h0m-4-4h0m-4 0h0m-16 11h0m0 6h0m3 0h0m3 0h0m7-3h0m3-4h0m0 4h0m0 3h0m3 0h0m1-10h0m6 3h0m1-3h0m2 0h0m1 3h0m0 3h0m3-6h0m0 3h0m1 3h0m2-6h0m0 3h0m0 4h0m0 2h0m3-2h0m1 3h0m3-3h0m0 2h0m3-6h0m1-3h0m2 7h0m4-7h0m0 4h0m4-1h0m2-3h0m1 3h0m0 4h0m0 3h0m2-7h0m5-3h0m0 4h0m2 6h0m1-10h0m0 7h0m2-3h0m1 3h0m3-7h0m0 6h0m1-3h0m2-3h0m0 4h0m0 3h0m1 3h0m3-7h0m0 3h0m0 3h0m2-6h0m1-3h0m3 3h0m3 3h0m1 4h0m2-10h0m1 4h0m0 3h0m0 2h0m3-9h0m0 3h0m1 3h0m0 4h0m2-10h0m0 3h0m1 7h0m3-6h0m3-1h0m0 4h0m3 3h0m1-10h0m0 3h0m0 3h0m5 4h0m1-7h0m0 3h0m9-3h0m1-3h0m0 10h0m3 0h0m1-7h0m0 4h0m2-4h0m1-3h0m0 6h0m3-6h0m0 3h0m0 3h0m0 4h0m3-10h0m0 7h0m0 3h0m1-7h0m2 0h0m0 3h0m7-6h0m3 7h0m1-4h0m3 7h0m3-10h0m3 0h0m0 10h0m3 0h0m4-3h0m3-4h0m0 3h0m0 4h0m1-10h0m2 0h0m0 3h0m0 6h0m1-3h0m2-6h0m0 4h0m0 6h0m1-3h0m3-4h0m0 3h0m3 1h0m0 3h0m1-7h0m2-3h0m0 3h0m0 3h0m0 4h0m3-9h0m1 6h0m0 3h0m3-10h0m0 7h0m0 3h0m3-10h0m1 9h0m2-9h0m0 7h0m1-3h0m0 5h0m3-9h0m0 3h0m0 7h0m1-4h0m2-6h0m1 6h0m0 3h0m2-6h0m0 3h0m4-3h0m3 0h0m1 4h0m2-1h0m0 3h0m1-9h0m0 3h0m3-3h0m0 4h0m0 3h0m0 3h0m3-10h0m1 10h0m3-10h0m0 10h0m2-10h0m0 10h0m1-6h0m3-4h0m0 3h0m0 3h0m0 3h0m3-9h0m0 6h0m1-3h0m0 7h0m2-10h0m1 3h0m0 3h0m3-3h0m0 3h0m3-3h0m0 4h0m4-4h0m3 17h0m0 3h0m-3-3h0m0 3h0m-3-3h0m-1-4h0m0 7h0m-3-10h0m0 4h0m0 2h0m-3-5h0m0 3h0m0 3h0m-3-3h0m-1-4h0m0 6h0m-3-6h0m0 3h0m0 6h0m-3-9h0m0 3h0m0 4h0m-3-4h0m0 4h0m-1-7h0m0 10h0m-3-10h0m0 4h0m-3-4h0m-3 3h0m-4 0h0m0 4h0m0 3h0m-3-10h0m0 3h0m0 4h0m0 3h0m-3-10h0m0 7h0m-1-3h0m-2-4h0m0 3h0m0 7h0m-1-3h0m-2 3h0m-1-9h0m0 2h0m0 4h0m-3-3h0m0 3h0m-1-7h0m-2 0h0m0 3h0m-1 4h0m0 3h0m-3-10h0m0 10h0m-10-3h0m-3-7h0m0 4h0m-4-1h0m-2-3h0m-1 3h0m-2-3h0m-1 3h0m0 4h0m-3-1h0m0 4h0m-1-10h0m-2 3h0m0 4h0m-1-6h0m-2-1h0m-1 4h0m0 2h0m0 4h0m-3-3h0m0 3h0m-3-6h0m0 3h0m0 3h0m-1-10h0m-2 10h0m-1-4h0m-3 0h0m0 4h0m-3-3h0m0 3h0m-1-7h0m-2 1h0m-1-3h0m0 6h0m0 3h0m-2-3h0m-1-7h0m0 10h0m-3-10h0m0 4h0m-1 3h0m0 2h0m-2-5h0m0 3h0m0 3h0m-3-4h0m-1-6h0m0 4h0m0 6h0m-3-10h0m0 4h0m0 3h0m0 3h0m-3-9h0m0 3h0m0 3h0m0 3h0m-4-3h0m0 2h0m-3-9h0m0 3h0m0 7h0m-3-6h0m0 6h0m-1-10h0m0 6h0m-2-3h0m-1-3h0m0 7h0m0 3h0m-3-10h0m0 4h0m0 3h0m0 3h0m-3-10h0m0 7h0m0 3h0m-1-7h0m-2 4h0m-1-7h0m0 4h0m-2-1h0m-1-3h0m0 7h0m-3-7h0m0 7h0m0 3h0m-1-7h0m-2 0h0m-4 1h0m0 3h0m-3-4h0m0 4h0m-10 0h0m-3 2h0m-4-9h0m-3 0h0m0 3h0m-6 0h0m0 4h0m-4-7h0m0 3h0m0 4h0m0 2h0m-3-2h0m-4 0h0m0 3h0m-3-10h0m-2 10h0m-1-9h0m0 3h0m-3-3h0m0 3h0m0 3h0m-1 3h0m-2-10h0m0 7h0m0 3h0m-1-6h0m-2-3h0m-1 2h0m0 4h0m0 3h0m-3-6h0m-3 0h0m-4-1h0m0 4h0m0 3h0m-2-7h0m-1 3h0m0 4h0m-3-10h0m0 10h0m-4-10h0m-3 10h0m-3 0h0m-1-3h0m-3 3h0m-2-10h0m0 7h0m0 3h0m-1-7h0m-3-3h0m-1 3h0m-2 0h0m-4-3h0m0 10h0m-23 10h0m1-3h0m2-3h0m0 6h0m1-4h0m3-3h0m3 1h0m3 3h0m4-3h0m0 6h0m3-9h0m0 8h0m3 1h0m4 0h0m7-7h0m2 0h0m0 4h0m4-3h0m0 6h0m6-1h0m3-5h0m0 3h0m1 3h0m2-3h0m1-4h0m0 7h0m3-7h0m0 7h0m1-3h0m2-4h0m0 6h0m1-2h0m3-4h0m0 4h0m0 3h0m3-4h0m0 5h0m1-7h0m2-1h0m0 7h0m1-3h0m3-4h0m0 3h0m0 4h0m2 0h0m1-4h0m1-2h0m2 0h0m1 6h0m2-7h0m4-2h0m6 5h0m4 1h0m0 2h0m3-6h0m0 4h0m0 2h0m3-5h0m1 2h0m0 4h0m3-7h0m0 7h0m6-7h0m0 4h0m0 3h0m3-3h0m1-4h0m3 7h0m1-3h0m2 2h0m1-2h0m9 3h0m4-3h0m0 3h0m2-3h0m4-4h0m0 3h0m0 4h0m3-7h0m0 3h0m6-3h0m1 4h0m0 3h0m3-3h0m1-3h0m2-1h0m1 4h0m0 3h0m2-4h0m1-3h0m0 7h0m3-3h0m0 3h0m4-4h0m0 4h0m2-3h0m1-4h0m3 0h0m3 1h0m0 2h0m3-3h0m0 4h0m4-4h0m3 4h0m1-4h0m2 7h0m1-6h0m0 3h0m3-3h0m0 3h0m0 3h0m3-3h0m0 2h0m4-8h0m0 3h0m0 6h0m16-6h0m3 0h0m3 5h0m7-6h0m0 4h0m3-3h0m4-1h0m3 1h0m0 3h0m0 3h0m4-7h0m0 3h0m2 4h0m1-9h0m0 3h0m19-1h0m4-2h0m0 3h0m3 0h0m0 2h0m6 1h0m4-1h0m0 4h0m3-6h0m0 2h0m0 4h0m4-7h0m0 3h0m3-3h0m0 4h0m-46 16h0m-3-6h0m-1 6h0m-6-9h0m-4 9h0m-3 1h0m-3-10h0m0 3h0m-3-4h0m0 4h0m0 3h0m-1 3h0m-3-7h0m0 4h0m-3-4h0m0 4h0m0 3h0m-3-6h0m0 3h0m0 3h0m-3-7h0m0 3h0m-1 4h0m-3-7h0m0 4h0m0 3h0m-3 0h0m-1-7h0m-2 8h0m-4-11h0m0 6h0m-3-6h0m0 7h0m-3-6h0m0 3h0m0 3h0m-1 3h0m-2-10h0m-1 3h0m0 3h0m0 4h0m-3-6h0m0 3h0m0 3h0m-3 0h0m-1-3h0m-2-4h0m-1 4h0m-2-3h0m-1-4h0m0 7h0m-3-1h0m0 5h0m-1-11h0m-2 0h0m0 10h0m-1-7h0m0 4h0m-3-7h0m0 3h0m0 3h0m0 5h0m-3-10h0m0 3h0m0 3h0m0 3h0m-3-10h0m0 10h0m-1-7h0m-2 4h0m-1-7h0m0 3h0m0 7h0m-3-9h0m0 2h0m0 3h0m0 4h0m-3-10h0m0 10h0m-1-7h0m0 3h0m-2-6h0m0 4h0m-1 3h0m0 3h0m-3-3h0m-3 3h0m-1-3h0m-2 3h0m-1-10h0m-3 1h0m0 2h0m0 7h0m-3-7h0m-3-3h0m-4 1h0m-2-1h0m-1 3h0m-3 4h0m0 3h0m-3 0h0m-3-7h0m0 8h0m-4-11h0m-1 4h0m0 6h0m-3-10h0m-3 1h0m0 2h0m0 4h0m-3-6h0m-7 9h0m-3-10h0m0 4h0m0 7h0m-3-11h0m0 3h0m-3-3h0m-1 3h0m0 4h0m-2-6h0m-1 2h0m0 4h0m-3-7h0m0 4h0m0 3h0m0 3h0m-3-3h0m-3-3h0m-1-4h0m0 6h0m-3-5h0m0 2h0m0 4h0m0 3h0m-3-3h0m-1-7h0m0 4h0m-2-4h0m0 4h0m0 6h0m-7-9h0m-3 9h0m-1-10h0m-3 10h0m-3-9h0m-4-1h0m-2 0h0m-4 0h0m-1 4h0m-5-4h0m0 3h0m-1 4h0m-3-3h0m0 2h0m-1-6h0m-2 0h0m-1 10h0m-2 1h0m-4-4h0m0 3h0m-3-3h0m0 4h0m-3 0h0m-1-4h0m-16 4h0m-3 9h0m0 3h0m3-10h0m0 7h0m0 3h0m1-7h0m2-3h0m0 3h0m3 1h0m0 3h0m1-7h0m3 1h0m0 2h0m0 4h0m3-6h0m0 2h0m0 4h0m4-6h0m0 3h0m0 3h0m3 3h0m3 0h0m3-9h0m0 6h0m1 3h0m3-10h0m0 3h0m0 4h0m2-7h0m1 3h0m0 4h0m0 3h0m6-6h0m0 3h0m4-7h0m0 4h0m0 3h0m3-3h0m0 3h0m3-3h0m0 6h0m1-3h0m2 0h0m13 0h0m1 3h0m3-7h0m0 4h0m0 3h0m4-3h0m3-6h0m3 6h0m3 0h0m1-3h0m2-1h0m1-3h0m2 4h0m1-3h0m3 2h0m3 1h0m1-3h0m0 6h0m3-6h0m0 2h0m0 4h0m3-6h0m4 6h0m3-7h0m0 7h0m0 3h0m3-6h0m0 3h0m0 3h0m3 0h0m4-10h0m0 3h0m3-3h0m0 4h0m4-3h0m0 3h0m3 6h0m7 0h0m3-7h0m3-3h0m0 4h0m3-3h0m0 3h0m3 0h0m1 3h0m6-6h0m3-1h0m0 10h0m4-7h0m2 4h0m1-3h0m3-3h0m0 6h0m1-3h0m3 0h0m0 3h0m2-6h0m1 3h0m0 3h0m0 3h0m3-7h0m0 4h0m0 3h0m1-10h0m2 10h0m1-10h0m0 3h0m3-3h0m0 4h0m0 6h0m3-10h0m0 4h0m0 3h0m0 3h0m3-3h0m1-3h0m3-4h0m0 4h0m0 3h0m0 3h0m3-9h0m0 2h0m0 4h0m0 3h0m3-9h0m0 3h0m0 3h0m0 3h0m3-9h0m1 3h0m0 6h0m3-10h0m3 0h0m0 3h0m4-2h0m0 3h0m2 0h0m0 6h0m1-10h0m3 0h0m0 4h0m0 3h0m1 3h0m2-9h0m0 3h0m0 6h0m1-3h0m2-3h0m1-3h0m3 3h0m0 3h0m4-3h0m0 3h0m2-6h0m0 3h0m17-4h0m0 3h0m3-2h0m-29 16h0m-4 0h0m0 3h0m-3-3h0m0 3h0m-3 0h0m-3-6h0m-1 3h0m0 3h0m-2-7h0m-4-2h0m-6 10h0m-1-4h0m-3 0h0m0 4h0m-3-4h0m0 3h0m-10-7h0m0 7h0m-3-7h0m0 7h0m-1-3h0m-3 1h0m0 2h0m-3 1h0m-3-10h0m0 6h0m-1-3h0m0 6h0m-2-7h0m0 7h0m-1-9h0m0 6h0m-3 4h0m-6-7h0m-3 6h0m-4-6h0m-3 3h0m-4 3h0m-3 0h0m-3 1h0m-1-4h0m-2 0h0m-1 3h0m-3-6h0m0 3h0m0 3h0m-3-3h0m0 3h0m-1-7h0m-2 7h0m-1-3h0m-2-6h0m-1 3h0m0 3h0m-3-4h0m0 4h0m0 4h0m-4-8h0m0 4h0m-6-3h0m0 2h0m0 4h0m-3-3h0m0 3h0m-4-3h0m0 4h0m-3-1h0m-3-3h0m0 3h0m-10-7h0m0 8h0m-7-10h0m-3 6h0m-1 3h0m-3-3h0m0 3h0m-3-7h0m0 7h0m-3 1h0m-1-7h0m-3 3h0m0 3h0m-2 0h0m-1-3h0m-3-3h0m0 2h0m-3-2h0m0 3h0m0 4h0m-3-7h0m-1 3h0m0 4h0m-2-1h0m-1-6h0m0 2h0m-3-5h0m0 2h0m-3 3h0m-1-5h0m0 3h0m-2-1h0m-1 4h0m-3-3h0m-1 7h0m-2-10h0m0 6h0m0 4h0m-3-8h0m-1 7h0m-3-6h0m0 3h0m0 3h0m-3 0h0m-1-4h0m-3 1h0m-3-1h0m0 4h0m-3-3h0m-1 3h0m-2 0h0m-1-2h0m-3-7h0m0 7h0m0 2h0m-3-7h0m0 4h0m0 3h0m-3-6h0m0 3h0m-3 0h0m-1 3h0m-17 10h0m5 0h0m2-3h0m1 4h0m3-4h0m3-4h0m0 7h0m3-3h0m1 3h0m2 0h0m1-3h0m2-3h0m1 3h0m0 3h0m0 4h0m3-1h0m1-10h0m0 3h0m3-2h0m0 3h0m3-4h0m0 4h0m0 4h0m0 3h0m3-11h0m0 10h0m4-2h0m0 2h0m3-9h0m0 6h0m0 4h0m3-10h0m0 3h0m0 7h0m3-7h0m0 6h0m1-9h0m0 6h0m3-7h0m0 4h0m0 3h0m0 3h0m3-9h0m0 2h0m0 5h0m0 3h0m13-11h0m3 11h0m1-4h0m3-7h0m0 4h0m0 7h0m3-11h0m0 4h0m0 4h0m0 3h0m3-10h0m0 3h0m1 3h0m0 3h0m6-10h0m3 0h0m3 0h0m1 3h0m0 5h0m2-7h0m0 3h0m1 3h0m0 3h0m3-3h0m0 3h0m3-3h0m0 4h0m4 0h0m3-11h0m0 4h0m0 7h0m3-8h0m0 4h0m0 3h0m1-9h0m2 3h0m0 6h0m1-9h0m0 6h0m3-6h0m0 3h0m0 3h0m1 3h0m2-9h0m0 2h0m1 8h0m2 0h0m1-10h0m0 2h0m2 7h0m1-9h0m3-1h0m0 3h0m0 8h0m4-10h0m0 10h0m2-10h0m0 6h0m1-3h0m0 7h0m3 0h0m3-4h0m0 4h0m3-7h0m0 4h0m0 3h0m1-10h0m2 3h0m0 7h0m1-11h0m0 7h0m3-6h0m0 2h0m0 4h0m1 4h0m3-4h0m0 3h0m2-3h0m1-6h0m0 3h0m3-3h0m0 2h0m0 5h0m3-4h0m0 4h0m0 3h0m3-1h0m1-9h0m4-1h0m2 1h0m4-1h0m2 11h0m1-10h0m0 3h0m0 4h0m3-8h0m0 7h0m1-4h0m0 7h0m2-3h0m1-6h0m0 3h0m0 6h0m3-6h0m0 3h0m0 4h0m3-10h0m0 10h0m1-4h0m2 0h0m1-7h0m0 4h0m2-4h0m0 4h0m4 0h0m1-4h0m2 0h0m0 4h0m1 7h0m2-7h0m1-4h0m2 7h0m1-3h0m0 6h0m3-3h0m0 3h0m6-3h0m1-4h0m0 8h0m3-7h0m0 3h0m0 3h0m3 1h0m4-1h0m3-10h0m1 4h0m-10 13h0m-1-3h0m-3 0h0m0 3h0m-10-4h0m-3 5h0m0 3h0m0 2h0m-3-9h0m-1 4h0m0 3h0m-3-8h0m-3 10h0m-1-2h0m-6-8h0m-3 1h0m0 3h0m-3-4h0m0 8h0m-1-5h0m0 7h0m-2-6h0m0 3h0m-1-7h0m-3 0h0m0 5h0m-3 5h0m-7-6h0m-16 0h0m-4-3h0m0 3h0m0 3h0m-3 3h0m-1-10h0m0 8h0m-2-1h0m-1-3h0m-2 0h0m-1 3h0m-3-6h0m0 3h0m0 4h0m-3-1h0m-1-7h0m-2 8h0m-7-7h0m-10-1h0m-3 1h0m0 6h0m-3-6h0m0 6h0m-1-3h0m-3-3h0m0 3h0m0 3h0m-3 0h0m-1-7h0m0 4h0m-2 0h0m-1-3h0m-3 0h0m0 3h0m-3-3h0m0 3h0m0 3h0m-3-6h0m-3 0h0m-3 3h0m-1 4h0m-3-7h0m0 3h0m-1 3h0m-2-3h0m0 3h0m-1-6h0m-3 3h0m-6 3h0m-1-3h0m-9 0h0m0 6h0m-1-3h0m-3-3h0m-3-3h0m-4-1h0m-2 1h0m0 3h0m-1 3h0m-3-3h0m0 4h0m-3 0h0m-1-4h0m-2-1h0m-1-3h0m0 8h0m0 2h0m-3-9h0m0 7h0m0 2h0m-3-10h0m-6 1h0m-1 7h0m-3-7h0m0 3h0m0 4h0m-10-7h0m-3 0h0m0 3h0m0 3h0m-3-3h0m0 3h0m-3-3h0m-1-3h0m0 7h0m-3-5h0m0 4h0m-3-3h0m-4 1h0m-2 5h0m-1-9h0m0 3h0m-1 3h0m-2-3h0m-1 3h0m0 3h0m-2-6h0m-36 17h0m2-1h0m20-9h0m0 9h0m1-6h0m3 0h0m0 6h0m2-6h0m1-3h0m0 7h0m3-4h0m1 6h0m3 1h0m2-4h0m1 3h0m7 0h0m2 0h0m1-9h0m0 3h0m0 3h0m3-6h0m0 3h0m0 3h0m0 4h0m3-3h0m1-7h0m0 2h0m2-2h0m1 3h0m0 4h0m2 3h0m4-7h0m3 6h0m1-6h0m0 4h0m3-5h0m3-2h0m6 10h0m4-10h0m0 6h0m4-3h0m3-1h0m3-2h0m0 2h0m0 4h0m0 4h0m3-10h0m0 3h0m0 3h0m0 4h0m3-10h0m0 3h0m0 4h0m0 2h0m3-7h0m0 5h0m0 2h0m1-9h0m2 0h0m1 3h0m0 3h0m0 3h0m3-3h0m0 4h0m1-10h0m0 3h0m2 0h0m0 3h0m1 3h0m3-9h0m0 6h0m3-6h0m3 9h0m4 0h0m9-2h0m1-7h0m0 3h0m0 7h0m3-10h0m0 3h0m0 3h0m0 3h0m3-6h0m0 4h0m0 2h0m3-9h0m0 7h0m0 3h0m1-7h0m2 3h0m1-6h0m0 2h0m0 8h0m3-7h0m0 4h0m0 3h0m4-10h0m0 10h0m3-10h0m0 9h0m3-9h0m0 3h0m0 7h0m1-4h0m2 0h0m1 3h0m2-2h0m0 3h0m1-7h0m2 7h0m1-7h0m0 3h0m4 3h0m2 0h0m4-2h0m0 3h0m3-7h0m0 4h0m1 2h0m2-3h0m0 4h0m4-1h0m6 1h0m1-10h0m2 0h0m1 3h0m6 0h0m1-3h0m3 3h0m0 4h0m3-1h0m3 0h0m13 0h0m0 3h0m3-3h0m0 3h0m4-9h0m0 6h0m3-6h0m0 4h0m1 2h0m0 4h0m2 0h0m1-7h0m0 3h0m3-6h0m0 6h0m3-3h0m0 4h0m1-7h0m0 10h0m2-10h0m0 3h0m1 3h0m0 4h0m3-4h0m3-6h0m3 0h0m3 3h0m-12 9h0m-4 1h0m-3 0h0m-3 0h0m-23 3h0m0 4h0m-4 3h0m-3 0h0m-3-3h0m-1-3h0m0 6h0m-2 0h0m-7-4h0m-4-7h0m0 5h0m0 5h0m-6-9h0m0 6h0m0 3h0m-3-5h0m0 5h0m-1-9h0m0 7h0m-2-7h0m0 9h0m-1-6h0m0 3h0m-3-6h0m0 3h0m-1 3h0m0 4h0m-2-7h0m-1-3h0m0 9h0m-3-9h0m0 3h0m0 3h0m0 3h0m-3-9h0m0 3h0m-3-3h0m0 10h0m-3-1h0m-3-9h0m-8 0h0m-3 0h0m-3 0h0m0 3h0m0 3h0m-3-3h0m-1 3h0m-3-3h0m-6 0h0m-1-3h0m-3 4h0m-3-1h0m-3 0h0m-3 0h0m-1 4h0m-3-8h0m0 7h0m0 4h0m-3-10h0m0 7h0m0 3h0m-3-10h0m0 7h0m-1 3h0m-2-10h0m0 6h0m-1 4h0m-2-7h0m-1-3h0m0 10h0m-3-10h0m0 3h0m0 7h0m-1-4h0m-2-6h0m0 6h0m-1-3h0m0 7h0m-3-10h0m0 3h0m0 4h0m0 3h0m-3-3h0m0 3h0m-3-4h0m-1 3h0m-3-9h0m0 3h0m0 3h0m0 4h0m-3-10h0m0 7h0m-1 3h0m-3-10h0m0 3h0m0 4h0m0 2h0m-3-9h0m0 3h0m0 3h0m0 4h0m-3-10h0m0 3h0m0 4h0m-4-7h0m-3-1h0m0 4h0m0 7h0m-3-10h0m0 6h0m-1 4h0m-2-10h0m0 4h0m0 3h0m-1 2h0m-2-6h0m0 7h0m-1-3h0m-3-8h0m0 4h0m0 3h0m0 4h0m-3-10h0m0 3h0m0 4h0m0 3h0m-4-10h0m0 4h0m0 3h0m-2-7h0m-1 6h0m-3 3h0m-6-10h0m-1 4h0m-3-3h0m0 3h0m-3-3h0m0 7h0m-1-4h0m-2-4h0m-1 7h0m0 4h0m-3-10h0m0 3h0m-3-3h0m-1 3h0m0 6h0m-2-9h0m-4 0h0m-3-1h0m0 5h0m0 3h0m0 3h0m-3-10h0m0 6h0m-1-2h0m-2 6h0m-1-3h0m-3-7h0m0 10h0m-3-1h0m-4-2h0m-2-8h0m-4 4h0m0 7h0m-1-4h0m-2-3h0m0 7h0m-1-4h0m-6 4h0m-3 0h0m-3 10h0m6-7h0m1 4h0m3 3h0m9-4h0m7 0h0m6 0h0m1-3h0m0 7h0m2-4h0m4-3h0m0 4h0m3 0h0m7 3h0m7 0h0m3 0h0m3-4h0m10-2h0m3 2h0m1-3h0m2 4h0m0 3h0m1-7h0m0 9h0m2-8h0m0 2h0m1 3h0m3-6h0m0 3h0m0 3h0m3-6h0m0 4h0m3-4h0m1 4h0m3-4h0m0 4h0m3-4h0m0 7h0m0 2h0m4-3h0m3-3h0m0 4h0m3-7h0m0 4h0m0 2h0m3-2h0m0 5h0m1-2h0m2 0h0m1-4h0m3-3h0m0 7h0m4-7h0m0 6h0m3-6h0m0 4h0m0 2h0m3 0h0m1-3h0m2 6h0m1-5h0m0 3h0m3 0h0m2-7h0m1 3h0m0 4h0m3-3h0m1-4h0m0 7h0m3-4h0m3 0h0m3 4h0m1-3h0m3 3h0m3 0h0m3-7h0m0 3h0m0 4h0m3-1h0m1-5h0m0 3h0m2-4h0m0 3h0m1 3h0m2-3h0m2 3h0m2-3h0m0 3h0m1 3h0m2-5h0m1-4h0m3 0h0m0 4h0m3-1h0m0 4h0m3-4h0m0 3h0m3-3h0m1 4h0m9 0h0m1-4h0m3 0h0m0 4h0m3-7h0m0 6h0m0 3h0m1-5h0m2-4h0m0 7h0m1-4h0m2 4h0m4-7h0m0 7h0m4 0h0m2-7h0m1 3h0m3-3h0m0 4h0m0 2h0m3-2h0m4-4h0m0 4h0m0 3h0m3-6h0m0 2h0m10-3h0m0 3h0m3-3h0m-9 10h0m-1 3h0m-3 0h0m-3 0h0m-1-3h0m-2 4h0m-1 3h0m-2-4h0m-1-3h0m0 7h0m0 3h0m-3-1h0m-4-6h0m0 4h0m0 3h0m-3-6h0m0 2h0m0 3h0m-3-6h0m0 7h0m-3-3h0m0 3h0m-3-4h0m-1-3h0m0 7h0m-3-7h0m0 4h0m-1-7h0m-2 3h0m0 3h0m0 3h0m-3 1h0m-1-6h0m0 2h0m-3-2h0m0 2h0m0 4h0m-6-4h0m-1-3h0m0 6h0m-3 1h0m-3 0h0m-10-10h0m-3 3h0m0 4h0m-3-7h0m-1 4h0m-2-4h0m-1 3h0m0 4h0m0 3h0m-3-10h0m0 4h0m0 2h0m-3-3h0m-1-3h0m-3 0h0m-3 0h0m0 4h0m-1 3h0m-2-7h0m0 3h0m0 7h0m-1-4h0m-2-6h0m0 6h0m-1-2h0m0 6h0m-3-6h0m0 2h0m0 4h0m-1-10h0m-2 0h0m0 4h0m0 3h0m-4-4h0m0 4h0m0 3h0m-3 0h0m-4 0h0m-2 0h0m-3-7h0m0 3h0m-1 4h0m-3-4h0m0 4h0m-1-10h0m0 3h0m-3 0h0m-6 4h0m0 3h0m-3-10h0m0 3h0m-1 7h0m-2-7h0m-4-3h0m0 3h0m-3-3h0m0 3h0m0 7h0m-1-3h0m-2-7h0m0 4h0m-1 3h0m0 3h0m-2-10h0m-1 4h0m0 2h0m-3 1h0m-1-7h0m0 4h0m0 5h0m-2-3h0m0 3h0m-1-6h0m-2-2h0m0 5h0m-1-2h0m0 6h0m-3-7h0m0 4h0m-1 3h0m-3-7h0m-3 0h0m0 3h0m-2-6h0m-1 3h0m-3 1h0m0 3h0m0 3h0m-1-10h0m-2 4h0m0 3h0m0 3h0m-3-10h0m-4 0h0m0 10h0m-3-10h0m0 10h0m-1-3h0m-2-1h0m-1-6h0m0 4h0m0 6h0m-3-10h0m0 3h0m0 3h0m0 4h0m-4-9h0m0 2h0m0 3h0m-3-6h0m-3 9h0m-3-9h0m0 10h0m-3-1h0m-1-9h0m0 3h0m-13-3h0m-10 0h0m0 3h0m0 3h0m-3-6h0m0 6h0m-3-6h0m0 3h0m-1 10h0m0 4h0m1 2h0m3-3h0m0 4h0m3-7h0m0 4h0m0 3h0m3-4h0m0 4h0m1-7h0m3 3h0m0 4h0m3 3h0m1-3h0m2 0h0m0 3h0m4-7h0m0 3h0m0 4h0m3-9h0m0 3h0m0 6h0m3-10h0m0 7h0m1-3h0m0 6h0m3-10h0m0 3h0m0 3h0m3-2h0m4 2h0m2 1h0m1-3h0m2 0h0m1-4h0m0 6h0m3-5h0m0 3h0m1 3h0m0 3h0m2-4h0m1-6h0m0 3h0m0 7h0m3-7h0m0 3h0m0 4h0m3-6h0m0 2h0m0 4h0m3-3h0m1-4h0m2-3h0m7 0h0m0 3h0m0 4h0m1 3h0m2-6h0m0 3h0m1-7h0m3 7h0m0 3h0m4 0h0m2-7h0m1 4h0m0 3h0m3-10h0m0 3h0m0 3h0m0 4h0m3-7h0m0 3h0m1-5h0m0 9h0m3-10h0m2 7h0m1-7h0m3 4h0m0 2h0m0 4h0m3-10h0m0 7h0m1-4h0m3-3h0m0 4h0m2-1h0m1-3h0m3 3h0m4-3h0m0 4h0m0 3h0m3-7h0m3 0h0m0 10h0m3-10h0m0 7h0m0 3h0m1-7h0m2-3h0m0 3h0m1 3h0m0 4h0m3-10h0m3 4h0m1 3h0m0 3h0m3-9h0m0 3h0m0 3h0m3-7h0m0 4h0m0 3h0m0 3h0m3 0h0m1-3h0m2-4h0m0 7h0m1-3h0m2 0h0m1 3h0m4-3h0m2-6h0m0 6h0m1-4h0m2-3h0m1 4h0m3-4h0m0 4h0m0 5h0m3-2h0m1-4h0m0 7h0m6-6h0m0 2h0m0 4h0m3-6h0m0 6h0m1-3h0m2 0h0m1-6h0m0 2h0m3-2h0m6-1h0m4 0h0m0 4h0m0 3h0m3-7h0m0 4h0m3-4h0m0 4h0m1 3h0m2 3h0m1-3h0m3-4h0m3 0h0m0 4h0m1-7h0m2 7h0m0 3h0m1-6h0m2 6h0m1-10h0m0 6h0m3-6h0m0 10h0m1-7h0m2-3h0m0 4h0m4-4h0m3 0h0m-13 13h0m-10 0h0m0 6h0m-3 0h0m-3-3h0m-1-5h0m0 3h0m-3 3h0m0 3h0m-13 0h0m-1-4h0m-2-3h0m0 7h0m-1-4h0m-2-3h0m-1 4h0m0 3h0m-4 0h0m-6-7h0m-7 7h0m-3-4h0m0 4h0m-2-3h0m-1-6h0m0 9h0m-3-7h0m-3 0h0m-3 7h0m-1-6h0m0 3h0m-3-4h0m0 4h0m0 3h0m-3 0h0m-1-7h0m0 4h0m-2-4h0m0 3h0m-4-5h0m0 6h0m0 3h0m-3-3h0m0 3h0m-1-7h0m-2 7h0m-1-6h0m0 3h0m-2-3h0m0 2h0m-4-3h0m-10 0h0m0 3h0m-3-5h0m0 3h0m0 3h0m-4 0h0m-6-3h0m0 3h0m-3 0h0m0 4h0m-1-7h0m-2 6h0m-1-7h0m0 4h0m-3 3h0m-3-3h0m0 3h0m-1-6h0m-3 0h0m0 3h0m0 3h0m-2-3h0m-1 3h0m-1-7h0m-2 1h0m0 3h0m0 3h0m-3-3h0m-1-4h0m-3-2h0m0 3h0m0 3h0m0 3h0m-3-7h0m-1 4h0m-3 0h0m-3-4h0m0 3h0m-3 1h0m-1-3h0m-2 0h0m0 3h0m-4-4h0m-2 1h0m-1-3h0m0 5h0m-3-2h0m0 3h0m-3-3h0m-1-3h0m-3 2h0m0 4h0m0 3h0m-3-3h0m-7-3h0m0 3h0m-3-4h0m0 7h0m-1-4h0m-2-2h0m-1 2h0m0 3h0m-2-2h0m-1-3h0m0 5h0m-3-2h0m-4-4h0m-2 10h0m9 4h0m0 3h0m4 0h0m0 3h0m2-3h0m5-7h0m6 7h0m2-3h0m5-4h0m2 4h0m4-1h0m0 4h0m3-4h0m3 1h0m0 3h0m3-3h0m1-3h0m0 6h0m4-4h0m0 4h0m2 0h0m1 3h0m3-3h0m3-6h0m0 10h0m3-7h0m1-4h0m0 7h0m0 3h0m2-9h0m1 3h0m0 3h0m0 3h0m3-10h0m0 7h0m0 3h0m4-9h0m0 9h0m2-10h0m4 0h0m0 7h0m3-3h0m4-4h0m0 3h0m3-3h0m2 3h0m1-3h0m0 10h0m1-3h0m2 0h0m1 4h0m2-4h0m0 3h0m1-7h0m2-3h0m1 4h0m0 3h0m0 3h0m3-7h0m0 7h0m1-10h0m0 7h0m2 0h0m1-6h0m0 2h0m0 7h0m3-3h0m0 3h0m3-10h0m1 3h0m3 4h0m2 0h0m1-7h0m3 0h0m0 7h0m3-3h0m1-4h0m3 0h0m0 4h0m3-4h0m1 3h0m2 4h0m0 3h0m1-10h0m0 3h0m9-3h0m0 7h0m1-3h0m0 6h0m2-7h0m0 4h0m1-7h0m2 1h0m1 3h0m0 3h0m3 3h0m6-10h0m1 3h0m3-3h0m3 4h0m0 2h0m1-6h0m2 7h0m1-7h0m0 3h0m0 8h0m3-4h0m0 3h0m3-3h0m1 3h0m2-4h0m1 4h0m2-3h0m0 3h0m18-6h0m-10 9h0m-4 4h0m0 4h0m-3-4h0m-3 3h0m-1-7h0m0 4h0m-2-4h0m-1 3h0m0 4h0m-3-3h0m0 3h0m-1-7h0m-2 1h0m0 3h0m-4 0h0m-6 6h0m-3-3h0m-1-4h0m-3-3h0m0 3h0m0 4h0m-3-6h0m0 3h0m0 3h0m-3 3h0m-3-3h0m-1-7h0m0 4h0m0 6h0m-3-9h0m0 3h0m0 6h0m-4-7h0m0 5h0m-2-4h0m0 3h0m-1-7h0m-6 7h0m-4 0h0m-6 3h0m-3-3h0m-3-7h0m-1 4h0m0 3h0m0 3h0m-3-9h0m0 3h0m0 3h0m-3-7h0m0 7h0m0 3h0m-1-6h0m-2 0h0m-1-3h0m0 7h0m-3-4h0m0 3h0m-1-6h0m-2 6h0m-1-6h0m0 3h0m-3 0h0m-2-1h0m-1-3h0m0 10h0m-4-9h0m-6 3h0m-7-1h0m0 7h0m-3-9h0m0 2h0m-3-3h0m0 4h0m0 6h0m-3-6h0m-4-4h0m-2 0h0m-1 7h0m0 3h0m-3-6h0m0 3h0m0 3h0m-3-3h0m-4-4h0m0 4h0m-6-7h0m-1 4h0m-6-1h0m-6 7h0m-1-6h0m0 3h0m-2-3h0m-1 4h0m0 2h0m-3-10h0m0 4h0m0 3h0m-1 3h0m-2-6h0m-4 0h0m13 9h0m4-2h0m12 6h0m4-3h0m0 3h0m0 3h0m3 1h0m3-1h0m4-6h0m1 7h0m2-8h0m0 5h0m1 2h0m2-9h0m1 3h0m0 3h0m0 3h0m3-7h0m0 4h0m0 4h0m4-7h0m0 6h0m2-6h0m3 0h0m1-3h0m3 5h0m0 4h0m1-7h0m2 7h0m1-6h0m2 0h0m4 0h0m7-1h0m0 4h0m3-4h0m0 4h0m4-1h0m0 4h0m3-6h0m2-3h0m1 3h0m0 3h0m0 3h0m3-7h0m0 4h0m0 3h0m3-9h0m0 2h0m0 4h0m0 3h0m10-3h0m4 1h0m0 2h0m4-3h0m0 4h0m2-5h0m0 5h0m3-4h0m1-3h0m0 7h0m3-7h0m0 4h0m0 2h0m3-3h0m0 3h0m1-7h0m2 0h0m1 4h0m3-6h0m0 3h0m0 3h0m4-1h0m2 1h0m0 3h0m7-9h0m0 2h0m6 0h0m7 1h0m-43 10h0m-3-1h0m-17 4h0m-3 0h0m-3-3h0m-3 3h0m-1-3h0m-2 0h0m-21-1h0m-6 1h0m-3 2h0m-1-3h0m0 7h0m-9-7h0m-1 3h0m-2 1h0m-1-3h0m-3 0h0m0 3h0m0 3h0m-4 0h0m-3-7h0m0 3h0m-2 1h0m-1-3h0m-4-1h0"/>
<path id="bB" d="M538 239h0m-3-7h0m0 3h0m-4-2h0m-3-4h0m0 3h0m0 4h0m-4-7h0m-3 7h0m0 3h0m-3-3h0m-10-4h0m-3 1h0m-7 6h0m-93 10h0m4 0h0m4 0h0m9-1h0m86 1h0m1-3h0m2 3h0m1-7h0m2 7h0m1-6h0m0 3h0m3-3h0m1 2h0m3 0h0m0 4h0m2 0h0m4 0h0m3-3h0m7-4h0m3 1h0m0 6h0m1-4h0m2 18h0m-3-1h0m-2-4h0m-4-3h0m0 4h0m-3-4h0m0 4h0m-4-3h0m-3 0h0m0 6h0m-3-4h0m0 4h0m-1-6h0m-2-4h0m0 4h0m-1 3h0m0 3h0m-3-6h0m0 3h0m-1-7h0m-2 7h0m-1-4h0m0 8h0m-6-1h0m-3-7h0m0 8h0m-1-11h0m-3 1h0m-3 0h0m-40 9h0m-2-3h0m-4 0h0m-4 0h0m0 4h0m-2-1h0m-1-4h0m-3-3h0m0 3h0m0 5h0m-3-7h0m-1 3h0m-3-6h0m-3 2h0m0 3h0m0 4h0m-3 0h0m-1-6h0m-2-1h0m0 8h0m-1-10h0m0 6h0m-2-3h0m-1 3h0m0 3h0m-3-10h0m0 6h0m0 4h0m-1-6h0m-2-4h0m-1 7h0m0 3h0m-2-3h0m-1-6h0m0 9h0m-3-3h0m0 4h0m-3-1h0m-1-6h0m0 3h0m-2-3h0m-1-4h0m0 7h0m-3-4h0m0 4h0m0 3h0m-3-3h0m0 3h0m-4-4h0m0 4h0m-3 13h0m3-10h0m1 4h0m2-3h0m0 6h0m1-3h0m3 0h0m7-3h0m3 0h0m3-1h0m3 0h0m4 1h0m0 3h0m0 3h0m0 3h0m3-7h0m0 4h0m1-6h0m2 3h0m0 3h0m4 3h0m3-9h0m0 9h0m3-9h0m3 0h0m4 6h0m3 0h0m1 3h0m2-9h0m3 3h0m0 6h0m1-9h0m0 7h0m3 2h0m7-3h0m0 3h0m3-10h0m0 7h0m0 3h0m3-10h0m0 4h0m0 2h0m4-2h0m0 2h0m0 4h0m2-6h0m4 0h0m0 3h0m0 3h0m3-9h0m1 3h0m3 0h0m0 3h0m3-4h0m0 4h0m9 0h0m4 3h0m3-9h0m1 9h0m6-9h0m0 3h0m0 3h0m4-7h0m0 3h0m0 4h0m0 3h0m2-3h0m4-6h0m0 3h0m0 4h0m3-1h0m1-6h0m0 3h0m2-1h0m1-2h0m0 6h0m3-7h0m0 4h0m0 3h0m3-6h0m0 3h0m0 3h0m1 3h0m2 0h0m1-10h0m0 3h0m3-3h0m0 4h0m0 3h0m0 3h0m3-7h0m0 4h0m1-7h0m2 0h0m0 7h0m0 3h0m4-9h0m0 6h0m0 3h0m3-4h0m0 4h0m0 4h0m-3 6h0m-1-6h0m-2-1h0m-1 7h0m-3-6h0m0 3h0m0 3h0m-3-6h0m0 3h0m-3-4h0m0 7h0m-3-6h0m-1 3h0m0 3h0m-3-9h0m0 3h0m0 3h0m0 4h0m-3-10h0m0 3h0m0 2h0m0 4h0m-3-6h0m0 3h0m-1 3h0m-3 0h0m-3-9h0m0 9h0m-4-7h0m-3 0h0m0 4h0m0 4h0m-3-7h0m0 3h0m-1-6h0m0 9h0m-3-7h0m0 7h0m-3-6h0m0 3h0m0 3h0m-2-6h0m-1-3h0m0 6h0m0 3h0m-3-6h0m0 2h0m-3-3h0m-1 4h0m-3-3h0m0 3h0m0 3h0m-3-7h0m-3 0h0m-1 3h0m0 4h0m-3-7h0m0 4h0m0 3h0m-2-3h0m-2 3h0m-2 0h0m-8-7h0m-19 4h0m-3 0h0m-6-6h0m0 3h0m0 3h0m0 3h0m-4-7h0m-3 0h0m0 4h0m0 4h0m-4-10h0m0 6h0m0 3h0m-3-3h0m0 3h0m-3-7h0m0 4h0m-1 3h0m-2 0h0m-4-6h0m-2 3h0m-5 0h0m-2-4h0m0 4h0m-4 0h0m0 3h0m-4 0h0m-3 0h0m-3-6h0m0 6h0m-3-9h0m-7 9h0m-45 13h0m3 0h0m19-3h0m0 4h0m3-4h0m1 3h0m2 1h0m1-4h0m3 0h0m0 3h0m3-3h0m0 3h0m4-3h0m0 3h0m2 1h0m1-4h0m3 0h0m1 3h0m3 0h0m3-9h0m0 3h0m3-3h0m0 2h0m0 8h0m3-1h0m4-7h0m3 1h0m0 7h0m3-3h0m0 2h0m7 0h0m3-3h0m1 4h0m2-10h0m1 3h0m0 6h0m2-10h0m1 4h0m3 6h0m1-9h0m2 0h0m0 10h0m1-4h0m3-7h0m0 4h0m4 0h0m2 3h0m3-4h0m1-3h0m0 7h0m2 1h0m1-7h0m0 2h0m0 8h0m3-3h0m1 3h0m2-1h0m1-3h0m3 0h0m10 3h0m13-9h0m3-1h0m10 1h0m3 3h0m1 3h0m3 0h0m0 3h0m3 0h0m1-3h0m2-7h0m0 10h0m1-3h0m2 0h0m1-6h0m0 2h0m2-3h0m1 3h0m0 4h0m0 3h0m3-7h0m0 4h0m0 3h0m1-9h0m2 0h0m0 7h0m1 3h0m2-7h0m1-3h0m0 9h0m3-10h0m0 7h0m3 0h0m0 3h0m1-10h0m0 3h0m2-3h0m0 10h0m1-6h0m0 3h0m3-7h0m0 3h0m0 4h0m0 4h0m3-10h0m1 2h0m6 1h0m7-4h0m-20 14h0m-3 3h0m-1-3h0m-3 0h0m-6 0h0m0 2h0m-3-3h0m-1 4h0m-22-4h0m-27 7h0m-1 3h0m-2-5h0m0 2h0m-1-6h0m0 9h0m-2-10h0m0 10h0m-1-6h0m-3-3h0m0 7h0m0 2h0m-1-6h0m-2-3h0m-1 3h0m0 4h0m-2-1h0m-1-6h0m-4 9h0m-6-6h0m-3 0h0m-1 3h0m-2-3h0m0 4h0m-3-8h0m0 10h0m-1-6h0m0 3h0m-3-7h0m0 3h0m0 4h0m-3-7h0m0 7h0m-1-4h0m-2 4h0m-1-6h0m0 4h0m-3-4h0m0 2h0m-3 1h0m-1 3h0m-2-7h0m0 4h0m-1 6h0m-3-9h0m0 3h0m0 3h0m-3-7h0m0 7h0m-3-6h0m-3 6h0m-1-7h0m-3 1h0m0 3h0m0 3h0m-7 0h0m-3-7h0m-3 4h0m0 6h0m-6-9h0m0 6h0m-1-3h0m-3-3h0m0 3h0m-3-4h0m0 4h0m0 3h0m-3-3h0m-1-3h0m0 6h0m-2-6h0m-1 3h0m-3 0h0m-1-4h0m-6 4h0m0 4h0m-9-8h0m0 4h0m-3-3h0m-1 3h0m-6-4h0m-1 4h0m0 4h0m-2 0h0m-1-4h0m-4 4h0m-3-1h0m-6 0h0m-6 3h0m-8 10h0m4-3h0m0 3h0m3-3h0m0 3h0m1-6h0m3 3h0m0 3h0m3-6h0m0 6h0m3 1h0m3-4h0m0 4h0m1-7h0m2-3h0m0 10h0m1-7h0m0 4h0m3-7h0m0 3h0m0 3h0m3-3h0m10 3h0m3 0h0m1 4h0m2 0h0m8-4h0m2 3h0m1-2h0m3-5h0m0 4h0m0 3h0m3-3h0m1 4h0m2-4h0m0 3h0m1-9h0m0 3h0m3-3h0m4 0h0m3 0h0m0 3h0m0 6h0m2 0h0m1-6h0m0 4h0m3-7h0m0 3h0m0 4h0m3-1h0m1-6h0m0 3h0m6-3h0m0 3h0m3 4h0m3-7h0m1 3h0m3-3h0m0 3h0m0 4h0m0 3h0m3-10h0m0 3h0m0 4h0m1 2h0m2-6h0m0 4h0m1 2h0m3 0h0m3-3h0m0 4h0m1-10h0m3 0h0m0 3h0m0 3h0m3-6h0m0 3h0m0 3h0m4-6h0m2 2h0m4-2h0m3 0h0m0 3h0m0 6h0m3-9h0m0 3h0m0 3h0m1 4h0m3-10h0m0 6h0m0 4h0m3-7h0m0 3h0m6-6h0m4 6h0m0 4h0m3-4h0m1 4h0m9-10h0m3 0h0m4 0h0m3 0h0m0 3h0m20 3h0m6-6h0m0 3h0m3 0h0m0 6h0m1-9h0m0 7h0m3-1h0m4-3h0m2 0h0m3 0h0m4 6h0m6 13h0m-2-9h0m-1 3h0m-2 6h0m-1-10h0m-3 4h0m0 3h0m-1-7h0m0 11h0m-2-1h0m-3 1h0m-4-10h0m0 3h0m-3-4h0m-1 4h0m0 4h0m-2-7h0m0 3h0m0 7h0m-1-4h0m-3-2h0m0 2h0m0 4h0m-1-10h0m-2 0h0m0 6h0m-1-3h0m-3 0h0m0 3h0m0 3h0m-2-9h0m-1 3h0m0 4h0m-3-4h0m-1-3h0m0 6h0m-3-7h0m0 4h0m0 7h0m-2 0h0m-1-7h0m0 4h0m-3-4h0m0 4h0m0 3h0m-3-10h0m-1 3h0m0 3h0m0 3h0m-2-3h0m-1-6h0m0 3h0m0 6h0m-3-3h0m-1 4h0m-5-10h0m-4 0h0m0 10h0m-3-10h0m0 10h0m-3-7h0m-11-3h0m-6 3h0m-9-3h0m-4-1h0m-1 4h0m0 6h0m-2-9h0m-1 3h0m-3 0h0m0 4h0m0 2h0m-3-9h0m0 3h0m0 3h0m0 4h0m-3 0h0m-1-3h0m-2 2h0m-1-3h0m-2 1h0m-1 2h0m-6-6h0m0 4h0m-1-7h0m-2 6h0m-1-3h0m-3 0h0m0 6h0m-3-10h0m0 7h0m-4 0h0m0 3h0m-6-10h0m0 11h0m-4-4h0m0 3h0m-3-3h0m0 3h0m-3-3h0m0 4h0m-6 0h0m-4 0h0m-4-3h0m0 2h0m-10-6h0m0 3h0m-3-3h0m0 4h0m0 3h0m-3-10h0m-3 0h0m-1 10h0m-9-7h0m0 4h0m-1-7h0m-2 0h0m-1 4h0m0 3h0m-3-7h0m0 3h0m0 4h0m-3-8h0m-1 7h0m-3-6h0m-2 0h0m-1 3h0m-2 0h0m-4 7h0m-1-7h0m0 3h0m-3 1h0m0 3h0m3 10h0m4-4h0m13 0h0m14 3h0m2-6h0m1 3h0m0 4h0m3-3h0m0 3h0m3-7h0m0 6h0m1-3h0m3-3h0m0 3h0m13-3h0m0 4h0m9 2h0m3 3h0m4-9h0m3 4h0m1-4h0m3 0h0m0 3h0m3-3h0m0 9h0m1-6h0m0 4h0m2-4h0m1-3h0m0 6h0m3 0h0m0 3h0m3 0h0m7-10h0m3 1h0m0 3h0m3-2h0m0 2h0m3-3h0m0 4h0m0 3h0m4-7h0m0 4h0m3-1h0m0 3h0m3-3h0m3 0h0m1-3h0m3 7h0m4-7h0m9 6h0m3 1h0m1-7h0m3 0h0m0 3h0m0 4h0m4-4h0m2 4h0m1-4h0m3-3h0m0 3h0m0 3h0m3-3h0m3-2h0m0 6h0m3-7h0m0 7h0m1-4h0m2 0h0m1 4h0m4-4h0m6 1h0m10 0h0m0 3h0m3-3h0m0 3h0m3-1h0m1-3h0m3 4h0m3-7h0m0 3h0m0 3h0m3 1h0m1-7h0m0 3h0m2 4h0m1-7h0m0 4h0m0 5h0m3-10h0m0 4h0m0 3h0m0 3h0m3-9h0m0 4h0m0 3h0m3-3h0m1-4h0m0 9h0m3-8h0m3-1h0m0 3h0m0 4h0m3-4h0m0 4h0m1-7h0m2 6h0m1-3h0m4 4h0m2-1h0m0 3h0m3-2h0m-2 10h0m-1 3h0m-9-7h0m-1-3h0m-3 0h0m0 3h0m0 7h0m-3-10h0m0 3h0m0 7h0m-1-3h0m-2 3h0m-1-7h0m0 4h0m-2-4h0m-4 0h0m-1 4h0m-2-3h0m-3-1h0m-1-3h0m0 6h0m0 4h0m-3-4h0m0 4h0m-1-10h0m-3 3h0m0 7h0m-2-10h0m-1 3h0m-2-3h0m0 10h0m-4 0h0m-4-4h0m0 4h0m-3 0h0m-10-10h0m-3 0h0m-6 3h0m0 3h0m0 4h0m-3-3h0m-1-4h0m0 7h0m-6-7h0m0 7h0m-1-3h0m-2 0h0m-1 3h0m-3 0h0m-1-10h0m-2 10h0m-1-10h0m-3 7h0m0 2h0m-3-9h0m0 6h0m0 3h0m-3-9h0m0 3h0m-3-3h0m-7 0h0m0 4h0m-3 6h0m-3-4h0m-1-3h0m0 7h0m-3-3h0m0 3h0m-4-10h0m-3 0h0m-2 3h0m-1-3h0m0 10h0m-3-6h0m0 6h0m-1-10h0m-2 4h0m-1 2h0m-9-6h0m0 4h0m0 2h0m-4-3h0m-3 4h0m-4 3h0m-2-7h0m0 7h0m-1-10h0m-3 10h0m-1-4h0m-2-6h0m0 3h0m0 3h0m0 4h0m-3-10h0m0 3h0m0 7h0m-1-3h0m-3-3h0m0 3h0m-3 2h0m-1-2h0m-2-3h0m-1-4h0m0 9h0m-2 0h0m-1-9h0m0 3h0m0 3h0m-3-6h0m0 7h0m0 3h0m-3 0h0m-8-10h0m-2 10h0m-4-1h0m-3 1h0m-23-4h0m-3-6h0m0 6h0m-1-2h0m-2 2h0m-1-3h0m-16 20h0m3-3h0m0 3h0m3 0h0m1-7h0m0 4h0m2-4h0m0 3h0m0 4h0m4-10h0m0 7h0m0 3h0m4-9h0m0 6h0m2-4h0m1 4h0m2 3h0m7-3h0m4-3h0m0 2h0m0 4h0m3-1h0m1-8h0m0 2h0m2-3h0m0 10h0m3 0h0m1-10h0m0 3h0m3-3h0m0 3h0m0 7h0m3 0h0m1-10h0m0 3h0m0 3h0m2-6h0m1 10h0m3-10h0m0 3h0m3-3h0m0 7h0m1-4h0m2-3h0m0 4h0m0 3h0m4-7h0m3 0h0m0 4h0m3-4h0m0 4h0m4-3h0m0 2h0m3-3h0m0 3h0m0 6h0m3-9h0m1 9h0m2-2h0m1-7h0m0 4h0m0 6h0m3-3h0m1-3h0m2-1h0m0 4h0m0 3h0m3-3h0m1-7h0m0 3h0m0 7h0m2-6h0m1 3h0m3 0h0m1-4h0m3 7h0m2 0h0m1-4h0m3 4h0m4 0h0m3-10h0m2 10h0m1-9h0m0 6h0m3-1h0m0 4h0m4 0h0m3-10h0m0 7h0m0 3h0m1-7h0m2-3h0m0 3h0m1 4h0m0 3h0m2-7h0m4 1h0m3 2h0m1-2h0m5 3h0m1 3h0m2-6h0m1-4h0m0 9h0m3-5h0m0 3h0m1-7h0m3 1h0m0 2h0m3-2h0m0 3h0m0 3h0m0 3h0m3-10h0m0 10h0m3 0h0m1-3h0m6-3h0m0 6h0m3-3h0m1-7h0m0 4h0m2-1h0m1 4h0m0 3h0m3-7h0m4 7h0m5-7h0m1 3h0m4-3h0m0 7h0m2-9h0m0 8h0m1-5h0m0 2h0m2-2h0m0 6h0m1-10h0m0 7h0m3-7h0m0 4h0m0 3h0m0 3h0m4-10h0m0 3h0m0 7h0m3-10h0m0 3h0m0 4h0m0 3h0m2-7h0m1 3h0m0 4h0m4-10h0m0 3h0m0 3h0m2 1h0m1-7h0m3 0h0m0 4h0m0 3h0m0 3h0m3-10h0m0 7h0m0 3h0m1-6h0m2 6h0m1-9h0m0 5h0m3 3h0m3-9h0m3 3h0m11-3h0m-14 20h0m-3-6h0m0 6h0m-3-7h0m0 3h0m-1 4h0m-2-3h0m0 3h0m-4-7h0m0 7h0m-1-4h0m-2 0h0m-1-2h0m0 6h0m-2 0h0m-4-7h0m-3 0h0m0 4h0m-6 0h0m-1-4h0m0 6h0m-3-3h0m0 4h0m-1-6h0m-3-1h0m0 4h0m-2 3h0m-1-3h0m-3-6h0m0 6h0m-1 3h0m-3-4h0m0 3h0m-3-3h0m0 3h0m-2-2h0m-1-4h0m0 7h0m-3-7h0m0 4h0m0 2h0m-3-8h0m-1 3h0m-6 2h0m-1-3h0m-2 0h0m-4 1h0m0 3h0m0 2h0m-3-5h0m0 6h0m-4-3h0m0 3h0m-6-6h0m-6 6h0m-1-7h0m0 4h0m-7-3h0m-6 6h0m-6-7h0m-3 0h0m-4 0h0m0 7h0m-3-7h0m0 3h0m0 4h0m-4-6h0m-9 2h0m-1-3h0m-3 0h0m0 4h0m0 3h0m-3-7h0m0 3h0m0 4h0m-3-7h0m-1 4h0m-3-4h0m0 4h0m-3-4h0m0 3h0m0 4h0m-3-4h0m0 4h0m-1-6h0m-2 0h0m-1 6h0m-3-6h0m0 2h0m-3-3h0m0 3h0m0 4h0m-20-3h0m0 3h0m-3-3h0m-4-3h0m0 3h0m0 3h0m-3-6h0m0 3h0m0 3h0m-3-6h0m0 2h0m0 4h0m-3-7h0m-1 3h0m-13-3h0m-3 0h0m-3-2h0m0 3h0m-3-1h0m-1 3h0m-3-3h0m0 4h0m-3-3h0m-1 3h0m-3-4h0m-2 3h0m-1-2h0m0 6h0m-3-7h0m0 4h0m0 2h0m-3-6h0m0 3h0m0 4h0m-3 0h0m-1-3h0m-10 17h0m4-4h0m0 3h0m3-7h0m0 4h0m3-7h0m3 7h0m1-7h0m0 3h0m0 8h0m3-11h0m0 3h0m0 4h0m0 3h0m3-6h0m1-3h0m0 5h0m0 4h0m2-9h0m0 2h0m0 3h0m0 4h0m4-10h0m0 7h0m0 3h0m3-9h0m0 6h0m0 3h0m4-3h0m0 3h0m2-6h0m1 6h0m6-7h0m0 4h0m4-3h0m0 2h0m0 4h0m3 1h0m3-8h0m0 4h0m3 0h0m1-7h0m0 3h0m0 8h0m2-7h0m4-4h0m0 3h0m3 8h0m7-8h0m3 1h0m3 0h0m0 3h0m4-7h0m0 6h0m0 4h0m1-6h0m2-1h0m0 4h0m0 3h0m3-3h0m1-3h0m2 0h0m0 3h0m4-3h0m0 3h0m3 3h0m1-10h0m0 4h0m0 3h0m3-7h0m0 3h0m3-3h0m10 4h0m0 6h0m3-10h0m0 10h0m10-10h0m6 0h0m1 4h0m0 3h0m3-7h0m0 4h0m0 3h0m3-7h0m0 7h0m1-4h0m2-2h0m1 2h0m0 3h0m0 4h0m3 0h0m4 0h0m3 0h0m3-6h0m0 3h0m0 3h0m3-7h0m0 4h0m0 3h0m4-10h0m0 7h0m0 3h0m2-10h0m0 10h0m1-7h0m2 0h0m1-3h0m0 10h0m3-3h0m0 3h0m4-3h0m3 0h0m3 3h0m4-10h0m0 4h0m0 2h0m0 4h0m2-3h0m1-6h0m0 3h0m6 3h0m7-7h0m1 10h0m2-3h0m0 3h0m1-10h0m0 4h0m3-4h0m0 4h0m0 3h0m3-3h0m0 3h0m0 3h0m3-9h0m0 2h0m0 4h0m0 3h0m4-6h0m2-4h0m1 4h0m0 6h0m3-6h0m7 0h0m3 6h0m1-10h0m2 0h0m0 10h0m4-9h0m0 3h0m0 6h0m3-10h0m0 4h0m3 0h0m1-4h0m2 4h0m1-3h0m3 0h0m3-1h0m-23 16h0m0 4h0m-3 0h0m-1-3h0m-2-4h0m-7 0h0m0 4h0m-3-1h0m0 4h0m-4-3h0m0 3h0m-3-6h0m-1 3h0m-2-3h0m-1 3h0m-3-3h0m0 2h0m-6 4h0m-1 3h0m-3-3h0m-9-4h0m-1 4h0m-3-3h0m0 3h0m-3-3h0m-3-4h0m0 4h0m-1 3h0m-3-6h0m0 6h0m0 3h0m-3-10h0m0 7h0m0 3h0m-3-7h0m-1-3h0m-2 3h0m0 4h0m-1-7h0m-2 7h0m-1-6h0m0 9h0m-3-10h0m0 10h0m-1-6h0m0 3h0m-2-6h0m0 3h0m0 3h0m0 3h0m-3-7h0m-1-3h0m0 7h0m0 3h0m-3-10h0m0 4h0m-1 3h0m-2 0h0m-1-6h0m0 9h0m-6-9h0m0 3h0m-6 3h0m-1 3h0m-6-4h0m0 4h0m-4-7h0m0 5h0m-2-1h0m-1-7h0m0 3h0m-3 0h0m-3 3h0m-7-6h0m0 4h0m0 3h0m0 3h0m-4-10h0m-2 1h0m0 6h0m0 3h0m-1-6h0m-2 3h0m-1-4h0m0 7h0m-4 0h0m-5-6h0m-4-3h0m-10 3h0m-3 3h0m-3 3h0m-1-10h0m-3 0h0m0 4h0m0 6h0m-3-10h0m0 4h0m-4-4h0m-6 4h0m-3 3h0m0 3h0m-1-7h0m-3 0h0m0 5h0m-3-7h0m0 3h0m0 3h0m0 3h0m-3-6h0m-1-4h0m0 7h0m-2-7h0m0 3h0m0 4h0m-4-6h0m0 3h0m0 2h0m-3-6h0m0 6h0m-3-6h0m0 7h0m-1-3h0m-3-4h0m0 4h0m-4-4h0m0 7h0m-2-4h0m0 4h0m-1-7h0m0 10h0m-2-3h0m-1-3h0m0 6h0m-3-10h0m0 4h0m0 2h0m-3-6h0m-3 1h0m0 9h0m-1-3h0m-6-7h0m-3 0h0m-3 7h0m-4 0h0m-4 3h0m-44 4h0m0 6h0m1-3h0m44-4h0m0 7h0m3-9h0m0 3h0m0 3h0m3-6h0m0 2h0m0 3h0m4-3h0m0 4h0m3-3h0m0 3h0m3-3h0m0 3h0m3 3h0m3-6h0m1 3h0m0 3h0m3-7h0m0 4h0m3-3h0m0 2h0m3 1h0m1-4h0m0 7h0m3-9h0m0 3h0m1 3h0m3 0h0m2-1h0m4-5h0m0 3h0m0 3h0m3-3h0m7 0h0m3 0h0m0 3h0m3 0h0m1-6h0m0 3h0m6-1h0m10 0h0m3 0h0m3 4h0m1-3h0m0 6h0m3-6h0m0 3h0m0 3h0m3-7h0m0 4h0m0 3h0m4 1h0m2-1h0m4-3h0m0 3h0m6 0h0m1-3h0m6 4h0m3-1h0m1-7h0m0 4h0m2-3h0m0 3h0m1 3h0m3-3h0m0 3h0m3-3h0m1 3h0m2-9h0m1 9h0m10-9h0m0 3h0m3 0h0m0 3h0m0 3h0m6-7h0m1 4h0m5-3h0m4-3h0m0 3h0m1 3h0m3-3h0m0 3h0m3-3h0m0 3h0m0 4h0m3-4h0m0 3h0m1-6h0m2 0h0m1 2h0m3-2h0m0 3h0m3-4h0m0 4h0m3 0h0m0 3h0m4 0h0m3-6h0m1 6h0m3-6h0m3-3h0m0 2h0m0 7h0m3-6h0m0 3h0m0 4h0m10-8h0m6 0h0m1 7h0m3-7h0m0 4h0m3 3h0m3 1h0m3-10h0m0 10h0m1-7h0m3-3h0m0 2h0m9 4h0m4 3h0m1-3h0m2 0h0m0 3h0m-6 10h0m0 4h0m-3-4h0m-1 4h0m-2 0h0m-1-4h0m-3 0h0m0 4h0m-3-1h0m-1-9h0m-3 0h0m0 9h0m-3-10h0m0 7h0m0 3h0m-3-9h0m0 6h0m0 4h0m-3-4h0m-1-7h0m0 10h0m-2-10h0m-1 4h0m0 3h0m0 4h0m-3-11h0m-1 4h0m0 3h0m-2 0h0m-1-3h0m0 6h0m-3-2h0m0 2h0m-3-9h0m-4-1h0m-2 1h0m-1 3h0m-3-4h0m0 3h0m0 7h0m-3-10h0m0 11h0m-1-8h0m0 4h0m-2-3h0m-1-3h0m0 6h0m0 3h0m-2-7h0m0 4h0m-1-7h0m-3 4h0m-3 6h0m-1-3h0m-3-3h0m0 3h0m0 3h0m-3-9h0m0 6h0m0 3h0m-1-6h0m-3 0h0m0 3h0m-3 0h0m0 3h0m-3-3h0m-7-6h0m-3 0h0m0 3h0m0 7h0m-10-11h0m0 10h0m-3-9h0m0 6h0m-1-4h0m0 7h0m-2-10h0m0 3h0m-1 7h0m-2-6h0m-1 6h0m-2-9h0m-1 3h0m0 7h0m-1-4h0m-3-6h0m0 3h0m-3-3h0m0 3h0m0 7h0m-3-3h0m-3-2h0m-4-5h0m-2 0h0m-4 6h0m0 4h0m-3-7h0m-1-3h0m0 7h0m-3-8h0m0 3h0m-2 1h0m-1-4h0m0 7h0m0 4h0m-3 0h0m-1-11h0m0 4h0m0 3h0m-2-4h0m-1-2h0m-3 3h0m-3 0h0m-10 3h0m-3-1h0m-3 1h0m-1 3h0m-2-7h0m-1-2h0m0 6h0m0 3h0m-3-10h0m-1 4h0m0 3h0m-2-7h0m-1 10h0m-2-10h0m0 8h0m-1 2h0m-3-4h0m-1 5h0m-2 0h0m-4-4h0m0 4h0m-3 0h0m-1-4h0m-2-6h0m0 6h0m-1 3h0m-2-9h0m-1 3h0m-3 3h0m0 3h0m-3-6h0m0 4h0m0 2h0m-4-6h0m-2 0h0m-1 3h0m-3-3h0m0 4h0m-1 2h0m-2-7h0m-1 5h0m0 3h0m-2-4h0m-1-4h0m0 8h0m-6-7h0m0 3h0m-3-3h0m-1 6h0m-3-7h0m0 4h0m0 3h0m-3-6h0m0 3h0m0 3h0m-3-3h0m0 4h0m-29-9h0m-1-2h0m-2 4h0m-31 16h0m0 3h0m3-3h0m4-3h0m2 3h0m0 3h0m1-10h0m3 0h0m0 4h0m0 4h0m3-4h0m3 0h0m1 4h0m3-4h0m0 3h0m0 3h0m3-2h0m0 2h0m4-3h0m3-3h0m3 0h0m4 0h0m3 3h0m3 0h0m3-3h0m0 3h0m0 3h0m4-6h0m0 4h0m3-8h0m0 4h0m0 3h0m3-6h0m0 6h0m1-3h0m2-4h0m0 4h0m1 3h0m2-3h0m1-3h0m3 0h0m4-1h0m2 5h0m0 5h0m1-9h0m0 6h0m2-3h0m1-4h0m0 7h0m4-7h0m0 3h0m0 5h0m2-4h0m1-4h0m0 10h0m3 0h0m3 0h0m3-5h0m4-4h0m0 9h0m3-9h0m10 0h0m0 9h0m3-10h0m3 4h0m0 3h0m1-7h0m2 0h0m0 3h0m1 4h0m3-7h0m0 4h0m1 3h0m2 1h0m1-7h0m0 9h0m10-10h0m3 1h0m3 0h0m7 3h0m2 1h0m11-1h0m3-3h0m0 3h0m3 6h0m1-9h0m0 3h0m0 3h0m9 0h0m1-6h0m0 3h0m3 0h0m6-4h0m0 4h0m0 4h0m0 2h0m3-5h0m0 2h0m1-6h0m3 0h0m6-1h0m0 4h0m0 6h0m1-3h0m3 1h0m3 2h0m3-10h0m3 0h0m1 4h0m3-3h0m0 3h0m6 3h0m1-6h0m2 3h0m1 4h0m0 2h0m2-6h0m1-3h0m3 3h0m1-3h0m2 3h0m7 0h0m0 3h0m1-6h0m2 0h0m0 6h0m1-3h0m3 3h0m3 3h0m3-9h0m0 3h0m0 4h0m1 2h0m2-10h0m0 7h0m1 3h0m3-10h0m0 4h0m0 3h0m3 0h0m0 3h0m1-9h0m3 6h0m3-3h0m0 3h0m3-6h0m1 3h0m2-3h0m0 3h0m3-4h0m1 4h0m0 4h0m3 2h0m1-3h0m2-7h0m1 7h0m2-7h0m0 3h0m0 5h0m4-7h0m0 3h0m0 3h0m0 3h0m3-10h0m0 4h0m0 4h0m3-4h0m0 3h0m1-6h0m0 9h0m3-10h0m0 4h0m3 0h0m1-4h0m2 0h0m0 5h0m4-4h0m-3 10h0m0 3h0m-3-3h0m-7 3h0m-3 0h0m-1-3h0m-3 3h0m-3-3h0m-10 0h0m-3 9h0m-1-9h0m0 2h0m0 5h0m-2 2h0m-1-3h0m-3 1h0m0 2h0m-3-6h0m0 4h0m0 3h0m-1-10h0m-3 6h0m-3-6h0m0 7h0m-3-4h0m0 4h0m-4-4h0m-2 7h0m-4-10h0m0 6h0m0 3h0m-1-6h0m-2 3h0m0 3h0m-1-9h0m0 3h0m-3-3h0m0 3h0m0 3h0m0 3h0m-3-9h0m0 3h0m0 3h0m0 4h0m-3-1h0m-1-3h0m-3-3h0m-3 0h0m-4 0h0m0 3h0m-2-3h0m-1-3h0m0 6h0m-3 4h0m-10-10h0m-3 3h0m-1 3h0m-2 0h0m-4-3h0m-3 0h0m-3 0h0m-1-3h0m-3 0h0m0 2h0m0 4h0m0 3h0m-3-6h0m-3-1h0m0 4h0m-3 4h0m-1-7h0m-6 3h0m0 3h0m-3-2h0m-1-7h0m0 10h0m-2-4h0m-4-6h0m0 3h0m0 3h0m-3-3h0m0 3h0m-3-4h0m0 4h0m-4 3h0m-3-3h0m0 4h0m-7 0h0m-3-1h0m-4 1h0m-6-10h0m0 3h0m-3-3h0m0 10h0m-3-7h0m0 6h0m-1-2h0m-2-1h0m-1 3h0m-3 0h0m-3-9h0m-1 6h0m0 3h0m-2-7h0m-1-2h0m0 6h0m-3 0h0m-3-6h0m0 10h0m-7-10h0m-3 3h0m0 3h0m-4-3h0m0 4h0m-2-4h0m-1 3h0m-3 3h0m-4-6h0m0 3h0m0 4h0m-2-10h0m0 6h0m-1-3h0m-2-3h0m-1 3h0m-1 3h0m-3-3h0m0 6h0m-2-6h0m-1 3h0m-3-3h0m0 3h0m-3 4h0m-3-3h0m-3 0h0m-4-7h0m0 3h0m0 3h0m-3-3h0m0 3h0m-1-6h0m-3 3h0m0 3h0m0 3h0m-3-9h0m0 3h0m0 3h0m-1 4h0m-2-10h0m-1 3h0m0 3h0m0 4h0m-2-7h0m0 4h0m0 3h0m-1-10h0m-2 6h0m-2 4h0m-2-10h0m0 2h0m-1 7h0m-2-6h0m-1 7h0m-7-8h0m-2-2h0m0 2h0m0 7h0m-3-6h0m0 3h0m-1 3h0m-3-9h0m0 6h0m0 4h0m-3-4h0m0 4h0m-1-7h0m-2 0h0m0 3h0m-4-6h0m0 3h0m0 3h0m-3 0h0m0 3h0m-3-3h0m-4 3h0m-19 14h0m5-3h0m7-4h0m0 3h0m4-2h0m3 2h0m1-3h0m5 1h0m1-5h0m3 11h0m7-1h0m2-3h0m1 4h0m3-7h0m1 4h0m6-7h0m0 3h0m0 3h0m3-7h0m3 1h0m0 3h0m1 3h0m0 3h0m3-9h0m0 9h0m3-9h0m0 10h0m3-11h0m1 7h0m0 4h0m2-7h0m0 6h0m1-9h0m0 7h0m2 3h0m4-11h0m0 4h0m0 3h0m3 0h0m1-7h0m0 4h0m3 3h0m0 4h0m3 0h0m1-10h0m2 0h0m0 9h0m3-9h0m1 3h0m0 3h0m3-7h0m0 4h0m0 3h0m0 4h0m3-10h0m0 3h0m0 4h0m0 2h0m3-9h0m13 6h0m5 0h0m3 0h0m13-7h0m0 5h0m3-1h0m0 4h0m0 3h0m1-10h0m2-1h0m1 4h0m2-3h0m0 3h0m0 3h0m1 4h0m2-10h0m1 6h0m4-6h0m2 0h0m1 3h0m0 3h0m2-6h0m1 3h0m0 4h0m0 3h0m3-6h0m0 2h0m0 3h0m3-6h0m0 7h0m1-10h0m0 6h0m2-7h0m0 8h0m1-4h0m3-3h0m3 3h0m1-3h0m2 7h0m1-7h0m0 3h0m3-4h0m0 4h0m3-4h0m0 5h0m3-4h0m1 3h0m0 3h0m0 4h0m2-7h0m0 6h0m1-2h0m2-1h0m1 4h0m1-7h0m3 3h0m0 3h0m5-10h0m1 4h0m3-4h0m0 4h0m0 3h0m4 1h0m0 3h0m3-7h0m0 3h0m3 3h0m3-10h0m7 4h0m0 3h0m0 4h0m3-3h0m0 3h0m1-6h0m2 6h0m1-3h0m3-7h0m0 3h0m0 4h0m0 2h0m3-9h0m0 10h0m1-3h0m2-7h0m0 3h0m0 6h0m4-9h0m0 3h0m0 3h0m0 3h0m3-9h0m0 3h0m0 4h0m0 3h0m3-7h0m0 4h0m0 3h0m1-10h0m2 3h0m0 7h0m4 0h0m3-11h0m0 4h0m1 3h0m2-3h0m1-4h0m0 7h0m0 3h0m3-9h0m0 3h0m0 3h0m1 3h0m2-10h0m1 4h0m0 3h0m0 4h0m2-11h0m0 5h0m0 2h0m1 3h0m2 1h0m1-10h0m0 3h0m0 3h0m3-6h0m0 4h0m0 2h0m0 4h0m10-11h0m0 4h0m0 4h0m0 2h0m3 1h0m4-7h0m0 3h0m0 4h0m3-3h0m0 3h0m7-10h0m-3 19h0m-4-3h0m0 4h0m-1-7h0m-5 0h0m0 7h0m0 2h0m-4-9h0m0 3h0m0 4h0m-3-7h0m0 6h0m-1-3h0m-2-3h0m0 4h0m-1 3h0m-2-4h0m0 3h0m-1-6h0m-3 0h0m0 3h0m0 3h0m-3-6h0m0 4h0m-1 3h0m-3-8h0m0 4h0m0 4h0m-3-7h0m0 3h0m0 4h0m-3-7h0m0 3h0m0 3h0m-3 0h0m-1-2h0m0 5h0m-3-9h0m0 4h0m0 3h0m-3-1h0m-3-2h0m-1-4h0m0 7h0m-3-6h0m0 3h0m0 3h0m-3-7h0m0 4h0m0 3h0m-3-4h0m-1-3h0m0 7h0m-3-7h0m0 4h0m0 3h0m-3-7h0m-1 7h0m-5-7h0m-4 3h0m0 3h0m-3 3h0m-1-6h0m0 4h0m-3-7h0m0 4h0m-3-1h0m0 4h0m-4-4h0m-15-3h0m-7 7h0m-1-6h0m0 3h0m-13 2h0m-2-3h0m0 4h0m-1 2h0m-3-5h0m0 5h0m-1-2h0m-2-7h0m0 3h0m0 4h0m-4-3h0m0 3h0m-10 0h0m-2-1h0m-1-3h0m-3 3h0m0 3h0m-10-2h0m-4-4h0m0 4h0m-3-3h0m-3 2h0m-10-3h0m0 4h0m-3 0h0m-1-3h0m-6 2h0m0 3h0m-3-10h0m0 10h0m-3-6h0m-1-3h0m-2 0h0m0 3h0m-1 4h0m-2 0h0m-1-7h0m0 3h0m-3-3h0m0 4h0m0 2h0m-3-3h0m0 3h0m-1-6h0m-2 0h0m0 3h0m0 4h0m-4 0h0m0 2h0m-1-9h0m-2 3h0m0 6h0m-1-2h0m-2 2h0m-1-9h0m0 4h0m0 2h0m-3 1h0m0 2h0m-7-5h0m0 2h0m-3-7h0m-3 0h0m0 5h0m0 2h0m-3-2h0m-1-3h0m-3-1h0m-3 0h0m-4 3h0m-3-3h0m0 4h0m0 2h0m-3-6h0m0 7h0m-4-3h0m-6 5h0m-3-9h0m0 3h0m0 3h0m-13-7h0m-10 8h0m-1-4h0m-2 0h0m-1 4h0m-2-1h0m-1-3h0m-6-3h0m-3 3h0m-1 3h0m-3 1h0m-3 9h0m0 4h0m3-3h0m0 2h0m3-9h0m3 6h0m1 4h0m2-7h0m1 4h0m0 3h0m2-10h0m2 3h0m3-3h0m0 9h0m2-9h0m0 3h0m0 3h0m1 4h0m3-10h0m0 4h0m0 6h0m3-7h0m1 6h0m2 1h0m1-4h0m3-6h0m0 4h0m0 2h0m0 3h0m3-9h0m0 3h0m0 7h0m3-10h0m0 3h0m4-3h0m0 3h0m6 7h0m4-7h0m3-3h0m0 3h0m0 3h0m3-6h0m1 3h0m0 3h0m6-2h0m3-4h0m0 3h0m0 4h0m0 3h0m3-6h0m0 2h0m3-3h0m0 4h0m1-7h0m3 0h0m0 4h0m0 2h0m3-6h0m0 4h0m0 5h0m1-2h0m2-7h0m0 10h0m1-6h0m0 3h0m2 0h0m1-3h0m0 5h0m4-6h0m0 3h0m0 4h0m2-7h0m1 4h0m3-4h0m0 3h0m0 4h0m3-7h0m0 4h0m0 3h0m3-6h0m0 6h0m1-10h0m0 7h0m2-1h0m1-6h0m0 3h0m0 7h0m3-10h0m0 4h0m0 2h0m0 4h0m3 0h0m1-10h0m0 3h0m0 4h0m2-7h0m0 4h0m0 5h0m1-3h0m2 0h0m1 3h0m3-6h0m0 4h0m4-1h0m0 4h0m3-3h0m0 2h0m3-3h0m0 4h0m3-7h0m0 3h0m1-6h0m0 10h0m2-7h0m1-3h0m0 6h0m0 3h0m3-6h0m0 4h0m1 2h0m2-3h0m1-3h0m6 7h0m3-4h0m0 4h0m3-10h0m0 7h0m1-3h0m3 0h0m0 3h0m0 3h0m3-10h0m0 4h0m0 3h0m0 3h0m3 0h0m1-10h0m0 3h0m0 4h0m2-1h0m1-3h0m0 7h0m3-6h0m0 2h0m3-6h0m0 10h0m1-6h0m0 3h0m2-4h0m1-3h0m0 7h0m0 3h0m3-7h0m0 3h0m0 4h0m3-6h0m0 6h0m4-1h0m2 0h0m8 1h0m2-6h0m1 2h0m0 4h0m3-10h0m0 4h0m3-4h0m0 6h0m0 3h0m1-6h0m2 1h0m1-4h0m3 0h0m0 3h0m3 1h0m4 6h0m2-10h0m1 4h0m0 3h0m0 3h0m7-10h0m3 9h0m2 1h0m4 0h0m1-7h0m2-3h0m1 3h0m0 3h0m0 4h0m3-10h0m0 6h0m0 4h0m1-6h0m2-1h0m0 4h0m0 2h0m3-6h0m0 6h0m1-9h0m0 6h0m3-3h0m0 3h0m3-6h0m0 7h0m0 3h0m1-6h0m3-4h0m0 3h0m0 3h0m0 4h0m2-10h0m0 3h0m5-3h0m6 0h0m0 3h0m3-3h0m0 3h0m0 3h0m3-3h0m0 3h0m0 4h0m3-10h0m3 0h0m0 3h0m1 3h0m3-6h0m0 6h0m3-6h0m0 3h0m0 7h0m1-3h0m3-7h0m0 3h0m0 4h0m2-4h0m0 3h0m1-6h0m3 10h0m1-7h0m0 3h0m2-6h0m0 3h0m0 4h0m4-7h0m0 3h0m3-3h0m-6 13h0m0 3h0m-4 0h0m0 3h0m-3 4h0m-3-7h0m-1 7h0m-2-7h0m-1-3h0m0 6h0m0 4h0m-3-10h0m0 3h0m0 3h0m-3-3h0m0 4h0m-3 3h0m-1-7h0m-3-3h0m0 3h0m-2 7h0m-1-10h0m-1 7h0m-2-7h0m0 10h0m-3 0h0m-1-10h0m0 4h0m0 2h0m-26-6h0m0 3h0m0 4h0m-3-4h0m0 4h0m-1-7h0m-6 0h0m0 9h0m-3-9h0m-1 3h0m0 4h0m-2-3h0m-1-4h0m0 7h0m0 3h0m-3-10h0m0 7h0m0 3h0m-3-10h0m0 7h0m-1-4h0m0 7h0m-2-6h0m0 3h0m0 3h0m-3-10h0m-1 3h0m0 4h0m0 3h0m-3-9h0m0 2h0m0 3h0m0 4h0m-3-10h0m0 3h0m0 4h0m0 3h0m-3-10h0m0 4h0m0 3h0m-1 3h0m-2-10h0m-1 3h0m-3-3h0m0 6h0m-3-5h0m0 9h0m-3-10h0m-1 7h0m-3-1h0m-1-6h0m0 4h0m-3-4h0m0 3h0m0 4h0m-3-7h0m0 4h0m-4-4h0m-2 3h0m-3-3h0m0 3h0m0 7h0m-1-4h0m-2-6h0m-1 4h0m0 3h0m0 3h0m-3-9h0m0 5h0m-1-2h0m-3-4h0m-3 0h0m0 10h0m-3-10h0m0 3h0m0 6h0m-1-2h0m-2 3h0m-4-9h0m0 9h0m-3-7h0m0 3h0m0 4h0m-3-3h0m-1-4h0m0 7h0m-2 0h0m-1-3h0m-2 0h0m-1-7h0m0 4h0m-1 6h0m-2-9h0m0 5h0m-1-2h0m-2-4h0m-1 4h0m0 3h0m-3-3h0m0 3h0m-3 0h0m-3-3h0m-1-4h0m0 6h0m-3-2h0m-6-4h0m0 6h0m0 4h0m-1-6h0m-2-4h0m-4 0h0m0 3h0m0 3h0m-3 1h0m-1-3h0m-2-1h0m-4-3h0m0 3h0m-3-2h0m0 2h0m0 3h0m-3-6h0m0 3h0m0 4h0m-4-4h0m0 3h0m-3 1h0m0 3h0m-4 0h0m-3 0h0m-3 0h0m-3 0h0m-3-6h0m0 2h0m-1-6h0m0 10h0m-2-7h0m0 4h0m-1-6h0m0 9h0m-4-10h0m-9 3h0m0 3h0m0 4h0m-4-10h0m0 4h0m0 3h0m-3-7h0m0 4h0m0 3h0m-4-3h0m-2 0h0m-19-4h0m-1 3h0m0 4h0m0 3h0m-3-4h0m0 4h0m-4 0h0m-2-3h0m-1-7h0m0 4h0m-1 6h0m-2-10h0m-1 4h0m-2-1h0m-1-3h0m-3 0h0m0 4h0m10 9h0m3 1h0m3 2h0m1-2h0m3 0h0m0 2h0m10-3h0m0 4h0m0 3h0m3-1h0m10-3h0m0 4h0m3-6h0m0 3h0m0 3h0m4 0h0m3-7h0m3-2h0m0 9h0m1-3h0m3 0h0m6-4h0m0 6h0m1-2h0m2-3h0m1 3h0m0 3h0m2 0h0m1-6h0m0 3h0m3-4h0m0 4h0m0 3h0m4-7h0m2 4h0m1 3h0m2-7h0m1 3h0m3 1h0m3-1h0m0 4h0m11 0h0m2-7h0m1 4h0m3-3h0m3-1h0m0 4h0m0 3h0m4-7h0m0 3h0m0 3h0m3-6h0m0 3h0m3-3h0m0 4h0m0 2h0m4 1h0m7 0h0m3 0h0m5-6h0m1 2h0m0 4h0m3-7h0m0 7h0m1-3h0m2-3h0m0 6h0m1-3h0m2-1h0m1-3h0m3 4h0m4-4h0m0 3h0m3-2h0m29-3h0m4 0h0m0 3h0m3-1h0m3 0h0m4 0h0m4 1h0m2 6h0m1-7h0m0 4h0m3-4h0m0 4h0m0 3h0m3-7h0m0 4h0m0 3h0m4-7h0m3 0h0m2 0h0m4 4h0m1-4h0m2 3h0m0 4h0m1-6h0m2 3h0m1-4h0m3 0h0m0 7h0m1-4h0m2 0h0m0 3h0m3 0h0m4 1h0m4-6h0m13-3h0m0 2h0m2 1h0m0 6h0m1-9h0m0 6h0m3-1h0m4-3h0m0 4h0m2-3h0m0 6h0m1-3h0m3-4h0m3 0h0m0 4h0m3-1h0m1-2h0m0 5h0m3-5h0m3-1h0m0 3h0m3 4h0m1-4h0m2 1h0m1-4h0m-20 10h0m0 7h0m0 3h0m-3-10h0m0 7h0m-1 3h0m-2 0h0m-1-6h0m0 3h0m-3-7h0m0 3h0m0 4h0m0 3h0m-3-10h0m0 3h0m0 7h0m-1-3h0m-2 3h0m-1-6h0m0 2h0m-3-6h0m-9 10h0m-4-10h0m-1 10h0m-3-10h0m-2 0h0m0 4h0m-4 0h0m-3-1h0m-4-3h0m-2 4h0m0 3h0m-1-7h0m0 10h0m-3 0h0m-4-6h0m0 3h0m-3-3h0m0 3h0m-3-1h0m0 4h0m-3-10h0m0 7h0m-1-4h0m0 7h0m-3-9h0m0 2h0m0 4h0m0 3h0m-6-7h0m0 7h0m-4-10h0m0 3h0m-3 0h0m0 4h0m-3-4h0m-1 4h0m-2 4h0m-1-8h0m0 3h0m-2 0h0m-8 4h0m-2 0h0m-7-10h0m-3 1h0m-1 9h0m-2-7h0m-5 0h0m-2-3h0m-1 4h0m0 6h0m-3-7h0m0 8h0m-3-7h0m0 3h0m0 3h0m-3-6h0m0 3h0m-1-7h0m0 10h0m-2-10h0m0 11h0m-1-8h0m0 3h0m-2-6h0m-1 4h0m0 3h0m0 3h0m-3-9h0m0 2h0m0 3h0m0 4h0m-3-9h0m-1 2h0m0 4h0m0 4h0m-3-5h0m-3-3h0m0 4h0m0 3h0m-3-3h0m-1-4h0m0 7h0m-2-3h0m0 3h0m-1-10h0m-3 0h0m-3 0h0m0 3h0m0 4h0m-1 4h0m-2-11h0m0 4h0m-1 3h0m0 3h0m-2-4h0m-1-3h0m-3-3h0m0 10h0m-4-9h0m0 3h0m0 6h0m-3-10h0m0 4h0m0 6h0m-3-6h0m-1-4h0m-2 0h0m0 4h0m0 2h0m-4-3h0m0 4h0m-4 0h0m-2-6h0m0 6h0m-1-4h0m-2-2h0m-1 2h0m-2-3h0m-1 4h0m-4-4h0m0 3h0m0 7h0m-3-9h0m0 9h0m-2-10h0m-1 7h0m0 4h0m-3-11h0m0 3h0m0 4h0m0 3h0m-3-7h0m0 4h0m-1-7h0m0 10h0m-3-9h0m0 3h0m0 3h0m0 3h0m-3-9h0m0 2h0m0 3h0m0 4h0m-3-9h0m0 2h0m0 4h0m-3-1h0m-1-6h0m0 3h0m-2 1h0m-1 2h0m-3-6h0m0 3h0m-4-3h0m0 4h0m-7-4h0m34 14h0m3-1h0m3 0h0m4 7h0m7-4h0m2-2h0m1 2h0m2 1h0m1 3h0m7 0h0m3 3h0m6-6h0m0 2h0m4-6h0m0 4h0m0 3h0m3 0h0m4 3h0m2 0h0m1-10h0m0 4h0m0 3h0m2 3h0m1-10h0m7 1h0m0 3h0m3-4h0m0 4h0m3-4h0m3 10h0m1-10h0m6 3h0m0 4h0m0 3h0m3-9h0m0 2h0m3 7h0m1-10h0m0 3h0m0 4h0m2-6h0m0 3h0m1 3h0m0 3h0m4-9h0m2 9h0m1-10h0m6 7h0m0 3h0m1-6h0m2 0h0m0 3h0m3-7h0m0 7h0m0 3h0m1-6h0m3-3h0m0 2h0m0 4h0m1 3h0m2-10h0m0 4h0m0 6h0m1-3h0m2-6h0m0 2h0m0 4h0m3-4h0m1 3h0m0 4h0m3-6h0m0 3h0m0 3h0m3-10h0m0 4h0m0 3h0m0 3h0m3-6h0m1-4h0m0 7h0m3-3h0m0 3h0m3-7h0m0 10h0m1-7h0m0 4h0m2-7h0m0 7h0m1-3h0m3-4h0m0 4h0m1 6h0m2-10h0m0 10h0m3-9h0m5 3h0m8-3h0m0 6h0m8 3h0m3-6h0m3 0h0m0 3h0m0 3h0m3-3h0m0 3h0m4-9h0m0 3h0m0 4h0m3-7h0m1 2h0m2-2h0m0 3h0m1 3h0m2 0h0m0 3h0m8-9h0m2-1h0m0 4h0m0 3h0m4-7h0m0 3h0m3-3h0m0 4h0m4-4h0m-24 14h0m-9 3h0m-4-3h0m0 3h0m-3-6h0m0 5h0m0 5h0m-3-4h0m-1 4h0m-2-4h0m-1-4h0m0 7h0m-3-6h0m0 3h0m0 4h0m-3-1h0m-1-3h0m-2 0h0m0 3h0m-4 1h0m-1-5h0m-2 5h0m-1-8h0m0 4h0m-3-3h0m0 3h0m0 4h0m-3-8h0m0 4h0m0 3h0m-3-9h0m0 3h0m0 2h0m-3-2h0m0 3h0m-4-6h0m-3 0h0m-3 2h0m0 4h0m-3 0h0m-1-3h0m0 7h0m-3-7h0m0 3h0m0 3h0m-3-6h0m-1-3h0m0 6h0m0 3h0m-2 0h0m-1-7h0m0 4h0m-3-4h0m0 4h0m-7-3h0m-25-1h0m-4-2h0m-1 2h0m-2 1h0m-3-1h0m-4-2h0m0 3h0m-1 7h0m-2-4h0m-1 3h0m-3-9h0m0 9h0m-4 0h0m-2 0h0m-3 0h0m-4-3h0m-1 4h0m-2-4h0m-1 3h0m-9-6h0m0 3h0m-3 0h0m-7-1h0m-3-3h0m-1 4h0m40 7h0m63-1h0m33 0h0"/>
<path id="bT" d="M161 397h0m-4 2h0m0 4h0m-3-1h0m-2 1h0m-3 2h0m-2 2h0m-5 5h0m0 7h0m1-1h0m1-8h0m0 4h0m2 2h0m2 2h0m-6 3h0m-1 6h0m0 4h0m-1-3h0m-5-1h0m-2 0h0m-1-2h0m-2-4h0m-3 0h0m9 13h0m2-1h0m2-1h0"/>
<path id="bP" d="M201 53h0m3 0h0m1 3h0m2-3h0m0 6h0m1-10h0m0 7h0m3-3h0m0 4h0m0 2h0m1-10h0m2 4h0m0 3h0m0 3h0m4-7h0m0 4h0m3-3h0m0 3h0m0 3h0m3 11h0m-3-4h0m0 4h0m-1-7h0m-2-3h0m0 9h0m-1-4h0m-2-2h0m0 6h0m-1-3h0m-3 0h0m0 3h0m-3-3h0m0 3h0m-1-6h0m-3-3h0m0 3h0m0 4h0m0 2h0m-3-7h0m0 4h0m0 4h0m-3-10h0m0 2h0m0 4h0m3 7h0m4 0h0m0 3h0m3-4h0m3 4h0m0 3h0m3-6h0m1 3h0m0 3h0m0 4h0m2-11h0m0 7h0m0 3h0m1-5h0m3-4h0"/>
<path id="bX" d="M502 236h0m-87 12h0m83 1h0m14 3h0m-14 6h0m-40 4h0m-45 7h0m9-4h0m4 0h0m7 3h0m6-3h0m96 7h0m10-3h0m3 0h0m-14 13h0m-52 3h0m-11-6h0m-25 6h0m-47 0h0m-16-6h0m43 16h0m6-4h0m3 7h0m66 1h0m31-3h0m-70 12h0m-36-7h0m-20 0h0m-43 8h0m-7 2h0m-52 4h0m46 0h0m3-3h0m3 3h0m34-3h0m115 2h0m-56 14h0m-39-4h0m-17 7h0m-10 0h0m-26 3h0m-27-6h0m-3 1h0m0 3h0m-30-7h0m-3 0h0m2 13h0m73 6h0m83-6h0m-10 13h0m-7 3h0m-53-2h0m-32-1h0m-59 20h0m75-10h0m36 7h0m27-1h0m7 1h0m-102 13h0m-37 7h0m52-4h0m-108 40h0m-3-4h0m-3 1h0m-64 16h0m4 10h0"/>
<path id="sL0" d="M65 42h0m-37 17h0m14-5h0m9-4h0m3 6h0m2-7h0m12 6h0m17 15h0m-2-4h0m-5 0h0m-2 5h0m-12-3h0m0 3h0m-7-10h0m-1 10h0m-2-10h0m-2 5h0m-7 2h0m-5-2h0m-3 4h0m-4-1h0m-10 2h0m9 2h0m14 7h0m13-1h0m3-4h0m0 3h0m7-2h0m2 2h0m12-5h0m17 15h0m-3-3h0m0 3h0m-4 0h0m-13 2h0m-14 2h0m-2 1h0m-1-8h0m-6 5h0m-1 3h0m-2-8h0m-16 0h0m-6 7h0m-2 0h0m-9-4h0m-6 16h0m6 1h0m26 2h0m7-9h0m0 4h0m7-3h0m0 3h0m10 3h0m2-6h0m14 1h0m3-3h0m0 3h0m-7 9h0m-10 8h0m0 2h0m-3-7h0m-7 4h0m-2-4h0m-2 0h0m-1 4h0m-1 0h0m-1-1h0m-2-5h0m-2 2h0m-3 2h0m-2-2h0m-5-1h0m0 3h0m0 2h0m0 3h0m-5-5h0m0 2h0m-3-5h0m-2 7h0m-2-4h0m-9 2h0m-3 3h0m-5-2h0m-2-1h0m-5-2h0m0 9h0m7 1h0m0 7h0m2-7h0m0 5h0m5-3h0m15 0h0m2-2h0m3-2h0m2-1h0m0 8h0m2-2h0m5-6h0m5 1h0m-3 11h0m-12 5h0"/>
<path id="sL1" d="M75 45h0m-18 2h0m-3-2h0m-12 4h0m4 10h0m1-5h0m5 1h0m21 4h0m3 0h0m7 11h0m-2-4h0m-8 0h0m-4-4h0m-18 9h0m-4 0h0m-1-8h0m-6 8h0m-3-3h0m-7-2h0m-4 2h0m8 12h0m1 3h0m2-2h0m1-3h0m3 4h0m8 1h0m4 0h0m4 0h0m23-5h0m0 5h0m5-5h0m10 3h0m2-3h0m-2 9h0m-3 3h0m0 2h0m-4-7h0m-3 0h0m-5 10h0m-12-1h0m-2-6h0m0 7h0m-3-7h0m-4 0h0m-12 0h0m0 4h0m-13 1h0m-2 2h0m-26 9h0m2 3h0m2-1h0m3 1h0m24-2h0m3-6h0m28-2h0m9 0h0m8 10h0m3-2h0m-12 4h0m0 5h0m0 2h0m-3-7h0m-8 8h0m-9 2h0m-2-2h0m0 2h0m-2-5h0m-3-2h0m-9 2h0m-3-5h0m-5 5h0m-2-4h0m-7 9h0m-1-10h0m0 5h0m-4-4h0m-3 6h0m-11-4h0m2 14h0m2-2h0m1 2h0m6 0h0m8-5h0m7 0h0m2 5h0m10-3h0m2 5h0m8-7h0m13 12h0m-21 0h0m-2 0h0m-7 2h0m-1 3h0m-18-5h0m0 6h0"/>
<path id="sL2" d="M54 47h0m-26 10h0m6 1h0m17-7h0m1 7h0m14-1h0m5-3h0m5 9h0m-7 3h0m-3 3h0m-5-3h0m-7 0h0m-5 2h0m0 2h0m-2-4h0m-5-5h0m-5 5h0m-12 5h0m-2 2h0m2 5h0m16 0h0m5 5h0m9-10h0m4 10h0m4-10h0m1 3h0m4 4h0m3 1h0m4-8h0m11 2h0m11 17h0m0 3h0m-2-2h0m-5-2h0m-12-3h0m-4 0h0m-8-2h0m-17 1h0m0 4h0m-24-6h0m-14 7h0m-3 12h0m3-4h0m8 4h0m4 0h0m3-6h0m9 6h0m2-2h0m2-5h0m3 8h0m7-3h0m0 3h0m9-8h0m0 3h0m8-3h0m9 9h0m1-4h0m2 0h0m5-4h0m10-1h0m-17 14h0m-2 3h0m-6 5h0m-2-9h0m0 9h0m-3-9h0m-7 2h0m-14-2h0m-9 2h0m-17 2h0m-7 2h0m-7-2h0m17 9h0m6-2h0m7 3h0m3-1h0m7 3h0m2-5h0m6 8h0m9-7h0m8 9h0m2 0h0m-22 3h0m-7 2h0m-3-3h0m-2 8h0m-2 0h0m-3-8h0m0 3h0m-2 0h0m-8 4h0m-7-6h0m0 4h0"/>
<path id="sL3" d="M59 44h0m-8 3h0m-19 10h0m6 2h0m2-5h0m26 0h0m5-3h0m7-2h0m7 16h0m0 4h0m-5 0h0m-9-5h0m-10-3h0m0 10h0m-2-7h0m0 3h0m-2-3h0m0 4h0m-1-2h0m-2 2h0m-5-4h0m-7 5h0m-2 0h0m-1-6h0m-2 1h0m-3 4h0m-1-7h0m-3 1h0m-5 4h0m1 17h0m6-4h0m7-6h0m3 3h0m3-3h0m4 0h0m4 5h0m6-5h0m7 5h0m5-3h0m7 0h0m2-2h0m5 8h0m6 0h0m8 2h0m-7 12h0m-2-3h0m0 3h0m-12-5h0m-3-2h0m0 7h0m-4-7h0m-3-1h0m-14 8h0m-3-10h0m-7 3h0m-5 7h0m-1 0h0m-1-7h0m-5-3h0m-9 3h0m-12 16h0m7-2h0m2-2h0m13 3h0m1-6h0m15 10h0m3-5h0m2 5h0m2 0h0m25-3h0m1 0h0m-4 8h0m-12-1h0m-2 1h0m-6 7h0m-9-3h0m-2-7h0m0 10h0m-10-7h0m-14 5h0m-8 2h0m-2-8h0m-2-1h0m-8 0h0m2 11h0m3 0h0m3 3h0m2 2h0m9 0h0m3-2h0m3-1h0m5 8h0m7-7h0m0 2h0m24 3h0m7-8h0m-34 17h0m-2-4h0m-10 1h0m-2-2h0m-1 8h0"/>
<path id="sL4" d="M30 57h0m0 2h0m4-5h0m8-3h0m12 8h0m1-4h0m2-3h0m7-3h0m0 3h0m0 2h0m2 5h0m1-7h0m1 7h0m3-9h0m0 8h0m7 1h0m0 2h0m-7 1h0m-2 9h0m-6-8h0m-13-2h0m-3 7h0m-7-7h0m-10 3h0m12 10h0m7 1h0m7 3h0m7 2h0m0 2h0m5-4h0m3-5h0m2 3h0m17 0h0m7 7h0m-2 2h0m-9 5h0m-34 0h0m-3-4h0m-31 1h0m-5 5h0m-12 14h0m10-4h0m9-5h0m5 3h0m3 4h0m1-4h0m9-3h0m9 8h0m5-5h0m0 5h0m14 2h0m1-5h0m16-3h0m3 6h0m6-5h0m3-3h0m-44 22h0m-4-5h0m-2-2h0m0 3h0m-1 2h0m-4 2h0m-1-10h0m-4 5h0m-5-2h0m-5 2h0m-4-5h0m0 2h0m-8 3h0m0 14h0m5-1h0m2-3h0m7-3h0m3 3h0m7 7h0m10-2h0m2 2h0m12-8h0m5 3h0m2 2h0m3-4h0m-45 19h0m-8-5h0m-4-3h0"/>
<path id="sL5" d="M61 47h0m-3 0h0m-12 0h0m-14 12h0m12-5h0m0 5h0m1-8h0m4 6h0m0 1h0m1-4h0m4-3h0m24 5h0m5 12h0m-2-4h0m-10 7h0m-10-3h0m-2 3h0m-5 0h0m-2-7h0m0 4h0m-1-7h0m-25 19h0m23-2h0m2 2h0m5-4h0m5-2h0m0 7h0m0 2h0m3-5h0m2 2h0m10-4h0m17 0h0m1 7h0m1-5h0m2 2h0m-9 12h0m-5 1h0m-5-1h0m-5-2h0m-7 0h0m-2 1h0m-5-1h0m-2-5h0m-3 3h0m-2 7h0m-5-5h0m-3 0h0m-21 4h0m-3-3h0m-9 6h0m7 3h0m0 7h0m19-7h0m26-3h0m1 8h0m2-5h0m7 7h0m8-10h0m5 12h0m-8 8h0m-5-5h0m-8 2h0m-1 0h0m-3-4h0m-9 6h0m-7-7h0m-5 8h0m-7-1h0m-8 1h0m-14-3h0m-3 0h0m3 14h0m19-2h0m5-4h0m0 7h0m3-3h0m6 5h0m2-7h0m1 2h0m0 5h0m4-5h0m5-2h0m10-3h0m9 5h0m3-2h0m-10 11h0m-26 3h0m-10-5h0m-4 5h0m-5-2h0m-8 0h0m-4-3h0"/>
<path id="sL6" d="M44 46h0m-7 10h0m19 1h0m13-1h0m2 1h0m2-8h0m0 7h0m7 3h0m7 9h0m-7-6h0m-6 2h0m-6 5h0m-1 2h0m-18-4h0m-5-1h0m-7-5h0m-2 0h0m-7 1h0m-1 18h0m8-2h0m2 5h0m12-3h0m3-1h0m7 2h0m19-8h0m9 2h0m10 15h0m-2 0h0m0 5h0m-31 0h0m-3-7h0m-5 0h0m-14-3h0m-5 8h0m-2 2h0m-5 0h0m-2 0h0m-10-4h0m-5 4h0m-10 10h0m3 2h0m7-2h0m3-6h0m16 1h0m1 4h0m6 0h0m1-2h0m18 5h0m17-7h0m0 5h0m2 0h0m1-5h0m2 0h0m6 2h0m3 0h0m-8 10h0m-27 2h0m-5-5h0m0 9h0m-2-1h0m-3 2h0m-10-3h0m-4 0h0m-2-4h0m0 2h0m-5-2h0m-2 6h0m-17-4h0m7 17h0m12-3h0m7 0h0m8-7h0m11 5h0m14 4h0m3-1h0m-2 4h0m-14 0h0m-13 2h0m0 5h0m-7-2h0m-15 3h0"/>
<path id="sL7" d="M35 57h0m2-3h0m2-4h0m1 2h0m3 7h0m4-2h0m3-8h0m1 8h0m3-8h0m2 10h0m8-2h0m12-1h0m2 8h0m-5-3h0m0 10h0m-2-5h0m0 3h0m-12-1h0m-1-7h0m-4 3h0m-10 7h0m-13-2h0m-6-8h0m-2 7h0m14 5h0m2 3h0m7 2h0m1-5h0m4 9h0m5-9h0m3 2h0m7-1h0m8-1h0m9 10h0m9-9h0m-6 19h0m0 2h0m-4-5h0m-1 3h0m-3 2h0m-2-10h0m0 5h0m-5-5h0m-3 0h0m-7 0h0m0 10h0m-2 0h0m-7-2h0m-1-5h0m-2 4h0m-14-7h0m-8 0h0m-2 10h0m-15-1h0m-4 9h0m2-1h0m12 0h0m0 5h0m3-8h0m0 3h0m2 3h0m4-7h0m5 4h0m1-3h0m14 1h0m5 0h0m7 5h0m3-6h0m0 8h0m4-5h0m1 2h0m2-2h0m2 0h0m10 5h0m5-5h0m-10 16h0m-2 0h0m-5-9h0m0 10h0m-2-10h0m-8 7h0m0 3h0m-2-10h0m-2 0h0m-3 3h0m-2-3h0m-12 3h0m-3 7h0m-2 0h0m-5 0h0m-2-2h0m-3 2h0m-7-3h0m-3-7h0m0 2h0m-2 8h0m-5-10h0m-2 0h0m0 3h0m17 12h0m9 4h0m2 3h0m15-7h0m2 5h0m0 2h0m3-7h0m2-2h0m3 2h0m2-2h0m8 12h0m-30-1h0m-14 0h0m-2 5h0m-2 0h0"/>
<path id="sLx" d="M40 61h0m-3 3h0m-5 15h0m22 31h0m-24 16h0"/>
<path id="sM0" d="M237 21h0m-2 2h0m-1-2h0m-7-3h0m-7 4h0m-7-9h0m-16 8h0m-1-5h0m-3 7h0m-14 10h0m13-5h0m16-3h0m12 5h0m2 3h0m3 2h0m2-5h0m10 3h0m7-5h0m3-2h0m1 4h0m3 3h0m14 6h0m-1 0h0m-6-2h0m-4 1h0m-10 4h0m-2 3h0m-1-7h0m-4 0h0m0 2h0m0 7h0m-2-7h0m-14 6h0m-6-4h0m-33 5h0m-1-8h0m-10 8h0m-4-3h0m-2-3h0m-17 1h0m-5 5h0m-16 7h0m6 0h0m0 2h0m1 2h0m36-1h0m5 0h0m6 2h0m5-5h0m3 5h0m2-8h0m1 3h0m23 0h0m13-5h0m5 3h0m4-3h0m0 3h0m7 6h0m8 1h0m6-2h0m3-3h0m5 2h0m7 8h0m-22 2h0m0 5h0m-4 0h0m-3 0h0m-3-7h0m-2 4h0m-2 3h0m-2-3h0m-5-6h0m-1 2h0m-2 0h0m-4-3h0m-2 7h0m-3-5h0m-3-2h0m-11 0h0m-3 7h0m-12-7h0m-15 7h0m-7-2h0m-5 0h0m-5 5h0m-19-10h0m0 7h0m-10 0h0m8 13h0m17-7h0m0 1h0m12 7h0m7 0h0m5-9h0m0 5h0m4 5h0m3-5h0m5 0h0m8-2h0m0 6h0m2 0h0m2 0h0m11 1h0m27-5h0m5-2h0m2 0h0m1 5h0m0 2h0m5-7h0m6 7h0m1-10h0m2 10h0m3-10h0m2 1h0m4 9h0m5-7h0m0 2h0m3 3h0m0 4h0m-2 0h0m-3 0h0m-12 0h0m-7 7h0m-5-1h0m-1-3h0m-7-3h0m-2 8h0m-2 2h0m-7-10h0m-26 0h0m-3 2h0m-16 8h0m-1-2h0m-2-1h0m-3-6h0m-5 1h0m-2 1h0m0 2h0m-2 0h0m-2 5h0m-1-9h0m-7 1h0m0 3h0m0 3h0m-3-5h0m-13-1h0m-1 7h0m-26 13h0m11-10h0m20 10h0m9-10h0m3 3h0m5-1h0m10 3h0m2-4h0m2 7h0m5-3h0m1-3h0m7-1h0m4 6h0m7 0h0m13-4h0m4 4h0m2-7h0m5 7h0m3-7h0m12 7h0m6 2h0m20-9h0m3 0h0m7 15h0m-13-3h0m-9 3h0m-9 2h0m-10-1h0m-7 5h0m-10-4h0m-5-3h0m-7 1h0m-2-3h0m0 10h0m-3-7h0m0 2h0m-2-5h0m-2 7h0m-15-1h0m-7-2h0m-3 3h0m-12 3h0m-4-3h0m-3-7h0m0 5h0m-9 0h0m-5-2h0m-7 0h0m-1 5h0m-2 1h0m-2-9h0m-2 8h0m-3 2h0m-10-9h0m-2 2h0m0 2h0m0 5h0m-9 4h0m4 7h0m1-4h0m1 3h0m6-7h0m1 4h0m8 2h0m7 3h0m1-10h0m5 0h0m1 0h0m12 0h0m2 2h0m8 8h0m5-2h0m2-1h0m12 2h0m15-1h0m3-6h0m33 1h0m12-2h0m12 2h0m-27 14h0m-7 3h0m-14-8h0m-3 0h0m-12 7h0m-7 3h0m-16-3h0m-1-2h0m-7-3h0m-2-2h0m-1 3h0m-2 4h0m-12 0h0m-4-7h0m-5 1h0m-1 4h0m-19 4h0m-1 1h0m-1-2h0m-2 2h0m-1-3h0m-2-7h0m-2 1h0m-5 2h0m0 7h0m-36 9h0m8 0h0m6-4h0m7-1h0m8-2h0m4 10h0m3-3h0m5-2h0m2 5h0m8-5h0m0 5h0m2 0h0m2 0h0m8-9h0m1 9h0m3-10h0m2 8h0m1-8h0m7 3h0m23 2h0m1-2h0m5 6h0m7-4h0m4 1h0m10 4h0m34-9h0m-40 14h0m-1 2h0m-2 0h0m-1-5h0m-9 5h0m-2-5h0m-1 10h0m-6-5h0m-1 5h0m-5-3h0m-4-6h0m0 2h0m-4 5h0m-11-8h0m0 7h0m-18 1h0m0 2h0m-3 0h0m-5 0h0m-2-10h0m-2 7h0m-1-4h0m0 2h0m-2 0h0m-10-5h0m-14 5h0m-5-5h0m0 7h0m-4-4h0m-1-2h0m-17-1h0m0 8h0m-19 4h0m7 0h0m5 1h0m10 9h0m5-10h0m9 8h0m5-8h0m0 2h0m2 5h0m5 0h0m2-7h0m8 5h0m3-2h0m4-1h0m14 5h0m29 1h0m1-8h0m17 10h0m3 0h0m6-10h0m0 8h0m5-6h0m2 1h0m-12 16h0m-1-2h0m-4 2h0m-12-4h0m-2-1h0m-1 5h0m-1-2h0m-1-2h0m-2 0h0m-3 2h0m-2-4h0m-3 6h0m-6-7h0m-3 5h0m-5-2h0m-2 2h0m-1 5h0m-9-2h0m-2-8h0m-16 3h0m-8 2h0m-14 0h0m-2 2h0m-1-7h0m-4 5h0m-5 3h0m-6-1h0m-1-2h0m-10 0h0m-1 7h0m3 3h0m3-3h0m4 5h0m20 0h0m14-3h0m0 8h0m2-5h0m12 4h0m5-9h0m7 0h0m1 7h0m9-2h0m0 2h0m15 3h0m1-7h0m1-3h0m2 5h0m22-2h0m-24 14h0m-7-5h0m-12 5h0m-6 0h0m-21-3h0m-2-2h0m-5 0h0m0 7h0m0 2h0m-3 1h0m-12-7h0"/>
<path id="sM1" d="M236 23h0m-15-5h0m-3 2h0m0 3h0m-22-1h0m-8-6h0m0 7h0m-8-3h0m-13 3h0m-3 7h0m3 5h0m8-10h0m1 5h0m13 0h0m17-5h0m5 0h0m0 6h0m5-6h0m8 3h0m5 5h0m1-2h0m17-1h0m9 2h0m5 10h0m-5-5h0m-5 9h0m-6 1h0m-4-1h0m-1-4h0m-12 0h0m-3 2h0m-19-4h0m-5 2h0m-1-4h0m-11 4h0m-3-3h0m-4 3h0m0 2h0m-6 3h0m-4-10h0m-7 7h0m-19 3h0m-7 0h0m-13 12h0m31-5h0m20-5h0m5 3h0m0 4h0m7-5h0m2 8h0m7-2h0m14-6h0m3 8h0m10-7h0m0 7h0m2-1h0m1-3h0m2 2h0m5-8h0m4 8h0m2 0h0m3-5h0m9-2h0m0 1h0m3 8h0m1-7h0m11 19h0m-9-9h0m-3-1h0m-7 2h0m-2-1h0m-3-1h0m-3 5h0m-1 0h0m-8-5h0m-5 5h0m-2-5h0m-12 8h0m-3-3h0m-2-5h0m-7 3h0m0 6h0m-2 0h0m-3 1h0m-2-5h0m-15-5h0m-2 1h0m-3 9h0m-2-10h0m-5 10h0m-2-9h0m-3-1h0m-7 7h0m-19 0h0m-2-6h0m-5 11h0m20 1h0m2 2h0m2 5h0m2-1h0m12 3h0m5-5h0m7 2h0m3-2h0m0 2h0m2-7h0m9 0h0m1 3h0m14 2h0m29 4h0m2-6h0m9-1h0m8 1h0m1 5h0m11 2h0m14 7h0m-17-2h0m-11-3h0m-3 5h0m0 2h0m-9 0h0m-3-6h0m-5 9h0m-2-3h0m-2-4h0m-3 0h0m-23 4h0m-7-7h0m-5 8h0m-3 1h0m-3-6h0m-2-3h0m-5 10h0m-3-5h0m-4 3h0m-5-6h0m-2 3h0m-1 5h0m-6 0h0m-14-10h0m-4 5h0m-3 0h0m-17 14h0m4 2h0m19-7h0m1 7h0m2-6h0m4 2h0m0 5h0m6-7h0m16 2h0m7 5h0m1-10h0m1 7h0m6-5h0m0 3h0m8 0h0m3 2h0m7 0h0m1-2h0m18-2h0m13-2h0m0 4h0m0 5h0m16-8h0m5 4h0m0 4h0m2-7h0m13 6h0m5-1h0m-3 5h0m-3 2h0m-23 2h0m-1-5h0m-2 2h0m-7 8h0m-10-5h0m-2-4h0m-2-1h0m-3 5h0m-7 5h0m-3-1h0m-18-9h0m-17 8h0m-16 2h0m-3-10h0m-3 3h0m-7 4h0m-10-2h0m-14 0h0m-4-2h0m-5 1h0m-16 16h0m1-3h0m5-3h0m5 3h0m12 3h0m5-5h0m7 0h0m9 4h0m12-5h0m3 3h0m2-5h0m12 3h0m24 4h0m4 3h0m1-7h0m7 6h0m5-4h0m0 2h0m9 3h0m5-8h0m0 3h0m5-5h0m3 7h0m4-6h0m-5 14h0m-4-2h0m-3 1h0m-3 5h0m-1 1h0m-8 0h0m-2-7h0m-4-1h0m-32 3h0m-4 7h0m-1-9h0m-4 1h0m-6 6h0m-2 2h0m-27-3h0m-1-2h0m-6-5h0m-2 0h0m-7 1h0m0 8h0m-10-1h0m-3 2h0m-13-3h0m-37 15h0m12-3h0m10-5h0m4 1h0m3 7h0m5-8h0m1 5h0m7-7h0m1 2h0m1-2h0m2 9h0m2 1h0m1-8h0m7 8h0m7-5h0m7 5h0m5-7h0m0 5h0m3 0h0m4-5h0m5 2h0m3-2h0m1 2h0m1 5h0m2-9h0m0 1h0m21 6h0m1-2h0m7 4h0m12-2h0m20-3h0m14-3h0m2 0h0m-34 13h0m-5 0h0m-1 7h0m-9-5h0m-2 0h0m-9 2h0m-10-4h0m-2 2h0m-3 0h0m-5 0h0m-2 0h0m0 3h0m-7 0h0m-5 1h0m-5 1h0m-2-2h0m-4-3h0m-4 0h0m-19 5h0m-7-3h0m-2-7h0m-15 8h0m-9-3h0m-19 2h0m7 8h0m5 4h0m5 0h0m11 2h0m24-4h0m1 5h0m23-1h0m3-6h0m5 0h0m3-3h0m9 0h0m11 5h0m8 2h0m4 0h0m4-4h0m1 2h0m5 3h0m3 0h0m3-5h0m-13 9h0m0 5h0m-2-4h0m0 2h0m-2 4h0m-1-2h0m-2 1h0m-2-1h0m-7 0h0m-3 1h0m-2 4h0m-13 0h0m-14-10h0m-11 2h0m-5 7h0m-5-4h0m-5 0h0m-8-3h0m-2 1h0m-29 7h0m-4-8h0m-2-1h0m-3 9h0m-3 0h0m-6-9h0m19 16h0m2 2h0m7-7h0m4 5h0m11 0h0m11 1h0m8-4h0m4 8h0m2-3h0m3-2h0m5 0h0m0 3h0m3 2h0m2-8h0m12 6h0m2-6h0m3 5h0m3 0h0m6-6h0m0 9h0m3 0h0m9-5h0m-31 7h0m-14 0h0m-5 1h0m-12 4h0m-7 3h0m-3-8h0m-3 5h0m-1-2h0m-3 5h0m-2 0h0m-5 0h0"/>
<path id="sM2" d="M229 19h0m-17-1h0m-9-2h0m-5 0h0m-4-3h0m0 3h0m0 2h0m-6 1h0m-4 4h0m-5-7h0m-7 5h0m-2 2h0m-10 7h0m26 2h0m10-4h0m3 0h0m9 0h0m7-1h0m1 8h0m2-5h0m5-5h0m4 2h0m5-2h0m4 2h0m10 5h0m3 1h0m3 2h0m1-7h0m3 2h0m12 9h0m-2 7h0m-5-8h0m-12 6h0m-2 2h0m-7-9h0m-13 2h0m-2-1h0m0 2h0m-1 2h0m-4-2h0m-2 0h0m-10-2h0m-1 7h0m-6 2h0m-7-5h0m-3 0h0m-2-2h0m-2 2h0m-7-2h0m-10-3h0m-34 2h0m-9 10h0m1 2h0m13 1h0m21 2h0m8 5h0m4-10h0m3 2h0m2 5h0m5-4h0m2-1h0m1 6h0m2-3h0m4 2h0m30-6h0m5 6h0m9 0h0m9-2h0m10-5h0m12 6h0m5-1h0m-5 7h0m-5 0h0m0 3h0m0 2h0m-3-5h0m-13 8h0m-8 2h0m-3-3h0m-2-1h0m-2-4h0m0 5h0m-5-6h0m-2 2h0m-7-3h0m-3 3h0m-9 0h0m0 4h0m-17-2h0m-5 3h0m-2-5h0m-2 2h0m-8 2h0m-5-7h0m0 8h0m-9-1h0m-7 3h0m-27 12h0m7-5h0m7 5h0m8-3h0m5 2h0m4-6h0m6 7h0m16-7h0m0 6h0m24-1h0m7 1h0m3-2h0m25-2h0m4 5h0m2-3h0m5-2h0m4 3h0m3 2h0m12-8h0m2-1h0m0 1h0m0 6h0m2-8h0m3 5h0m4 9h0m-2 8h0m-4 0h0m-3-7h0m-7 0h0m-7 7h0m-3-1h0m-3-2h0m-4 0h0m-8-2h0m-1 0h0m0 2h0m-23-7h0m-2 10h0m-2-9h0m0 4h0m-10 2h0m-5-4h0m-5 4h0m-2 0h0m-16 3h0m-7-10h0m-1 3h0m0 2h0m-2-5h0m-7 8h0m-2-1h0m-3-4h0m-4 2h0m-3-2h0m0 4h0m-2-7h0m-1 2h0m-7 1h0m0 2h0m-9 15h0m7-3h0m14 2h0m2-7h0m3 5h0m2-5h0m5 9h0m8-6h0m7-1h0m0 8h0m5-10h0m21 2h0m12-2h0m3 3h0m6-1h0m3 3h0m5 5h0m7-7h0m8 2h0m13 5h0m1-10h0m4 8h0m18-7h0m0 7h0m-8 4h0m-26 0h0m-2 7h0m-1-7h0m-4 10h0m-7 0h0m-5-9h0m-5 6h0m-3-6h0m-2 2h0m0 5h0m-2-1h0m-1-4h0m-9-1h0m-3 0h0m-9 8h0m-7-8h0m-2 8h0m-6-9h0m-14 7h0m-2-3h0m-5-5h0m-12 0h0m-7 10h0m-1-5h0m-12-2h0m-4-2h0m0 7h0m-12-1h0m0 3h0m-3 10h0m6-6h0m1 8h0m1-10h0m2 0h0m9 5h0m1 5h0m10-7h0m2 7h0m7-7h0m5 4h0m3-7h0m2 9h0m5-2h0m1-6h0m1 9h0m2-3h0m12-7h0m21 5h0m6 0h0m14-4h0m5-1h0m2 0h0m0 5h0m5 0h0m9-1h0m12-3h0m10 2h0m1-2h0m-23 11h0m-2 0h0m0 8h0m-8 1h0m-4 0h0m-3-6h0m-5-1h0m-4 8h0m-4-8h0m-32 1h0m-10 6h0m-4-4h0m-27-4h0m0 6h0m-2-6h0m-10 2h0m-5 2h0m0 2h0m-31 3h0m-12 12h0m5 0h0m4-10h0m18 7h0m2-7h0m21 5h0m5-3h0m1 5h0m9 0h0m2-2h0m0 2h0m7 0h0m5 3h0m12-10h0m3 0h0m9 0h0m5 0h0m0 8h0m3-6h0m2-2h0m0 6h0m19 1h0m10 0h0m4-5h0m-31 15h0m-14 3h0m-12 2h0m-5-4h0m-9 1h0m-12 3h0m-5-3h0m-1-2h0m-6 0h0m0 5h0m-1-7h0m-7 0h0m-11-1h0m-3 3h0m-2-3h0m-1-2h0m-11 7h0m-8-1h0m-7 0h0m-4-2h0m-2 5h0m-23-4h0m-2 5h0m-9 12h0m4-8h0m10-2h0m0 9h0m2-6h0m0 7h0m5-9h0m2 6h0m1-4h0m9 4h0m5-6h0m0 6h0m3-7h0m0 3h0m8-1h0m1 5h0m17 1h0m14-5h0m0 2h0m3 0h0m0 5h0m1-6h0m4 1h0m0 2h0m31-4h0m11 2h0m5-5h0m0 10h0m4-7h0m3 2h0m-5 7h0m-2 2h0m-14 5h0m-7-3h0m-3 6h0m-21-10h0m0 2h0m-6-2h0m-2 7h0m-1 0h0m-6-2h0m0 5h0m-5-2h0m-5-7h0m-6-1h0m-18 7h0m-5-7h0m-6 7h0m-1 3h0m-4-7h0m0 6h0m-4-8h0m-1 4h0m0 2h0m0 3h0m-7-2h0m-5 2h0m-7-8h0m-1-2h0m25 14h0m5 1h0m0 2h0m6 2h0m3 0h0m0 3h0m12 0h0m1-7h0m14 3h0m2-1h0m5 5h0m11 0h0m3 0h0m1-5h0m2 4h0m7 1h0m3-4h0m0 2h0m11-5h0m15 2h0m3-5h0m1 3h0m-33 9h0m0 3h0m-10-3h0m-2 7h0m-14-7h0m-3 3h0m0 2h0m-3 2h0m-2-6h0m-5 1h0m-2-1h0"/>
<path id="sM3" d="M244 22h0m-12 1h0m-15-5h0m-8 5h0m-3-2h0m-3-3h0m-4 2h0m-18-5h0m-2 8h0m-4-7h0m-13 16h0m1 2h0m24-8h0m5 9h0m9-7h0m2 5h0m9-7h0m0 5h0m4-1h0m12 2h0m7-6h0m14 9h0m3-5h0m2 5h0m2 0h0m8-3h0m-8 8h0m0 2h0m-5 3h0m-7-8h0m-4 3h0m-5-3h0m0 10h0m-3-10h0m-5 8h0m-4-1h0m-7 2h0m-8 1h0m-5-8h0m0 3h0m-2-2h0m-16 1h0m-1 6h0m-2-9h0m-8 2h0m-1 2h0m-3 0h0m0 5h0m-2-7h0m-20 7h0m-22 9h0m5-5h0m6 3h0m4-5h0m12 5h0m12 5h0m12 0h0m7-2h0m10-6h0m10 5h0m12-5h0m1-2h0m0 10h0m8-10h0m5 10h0m10-5h0m5-5h0m2 7h0m4-2h0m5 0h0m0 3h0m2-2h0m13-1h0m1 12h0m-21 3h0m-10-8h0m-23 5h0m-20-4h0m-2 2h0m-4-3h0m-3 8h0m-10-5h0m-2-1h0m-1 8h0m-2-10h0m-2 10h0m-2-10h0m-10 10h0m-4-1h0m-1-4h0m-4-4h0m-14 1h0m-5 6h0m16 12h0m3 0h0m12-5h0m7 7h0m26-9h0m1 7h0m1-1h0m3-7h0m7 8h0m2-3h0m39-5h0m2 5h0m3-2h0m3 2h0m6-2h0m3 2h0m7-2h0m3 7h0m6 12h0m-2-7h0m-3 3h0m0 2h0m-1-6h0m-5-2h0m-1 3h0m-1 7h0m-16-5h0m-2-5h0m-5 0h0m-9 7h0m-26 0h0m-5-2h0m-3 0h0m-4-1h0m-1-4h0m-7 0h0m-12 3h0m0 3h0m-2 3h0m-10-2h0m-3 1h0m-2 1h0m-4-1h0m-1-7h0m-1-1h0m0 8h0m-5-7h0m-3 8h0m-5-2h0m-12 3h0m-7-7h0m-4 19h0m6-3h0m23-4h0m9 0h0m3 7h0m1-10h0m3 0h0m4 5h0m10-3h0m14-2h0m5 5h0m3 5h0m5-10h0m2 10h0m1-7h0m1-3h0m3 2h0m22 2h0m11 3h0m1 3h0m12-10h0m2 10h0m2-10h0m0 8h0m3 2h0m2-5h0m5-3h0m12-1h0m-31 14h0m-3 2h0m0 2h0m-14 2h0m-4 1h0m-10-2h0m-3-6h0m-5 3h0m-7 2h0m-14 3h0m-44-10h0m-2 2h0m-3 6h0m-2-5h0m-5-3h0m0 7h0m-2 0h0m-8-5h0m-6 8h0m-3-1h0m-9-4h0m-10 17h0m5-10h0m7 2h0m2 6h0m20-2h0m4 2h0m1-5h0m9-1h0m0 5h0m5 0h0m14 3h0m6-3h0m4 0h0m0 3h0m18-5h0m6-5h0m4 9h0m1-6h0m5 1h0m4-4h0m0 3h0m1 7h0m4 0h0m2-10h0m3 7h0m10-6h0m1 1h0m4 0h0m0 6h0m-13 4h0m0 7h0m-2-2h0m-3 0h0m-7 0h0m-5-5h0m0 3h0m-11-3h0m-6 5h0m-9-3h0m-2 5h0m-2-7h0m-1 10h0m-14 0h0m-10-10h0m-2 0h0m-3 5h0m-1 5h0m-4-3h0m-4 3h0m-5-7h0m-7 2h0m-16 0h0m-2-2h0m-4 2h0m-7-5h0m-5 10h0m-4 0h0m-5 0h0m-15 4h0m3 8h0m4-5h0m7-5h0m32 0h0m12 1h0m10 9h0m4-5h0m5 5h0m9-8h0m0 3h0m15 3h0m0 2h0m3-8h0m2-1h0m7 6h0m2-7h0m34 2h0m7-2h0m-38 15h0m-1-3h0m-1 0h0m-8 8h0m-7-8h0m0 3h0m-5 2h0m-9-2h0m-17 4h0m-7-7h0m-2 5h0m-1-2h0m-2 7h0m-8-3h0m-6 3h0m-3-7h0m-3 2h0m-6 3h0m-5-3h0m-3-3h0m-4 3h0m-8 4h0m-5 0h0m-2-7h0m0 8h0m-2 0h0m-24-3h0m-2 1h0m0 1h0m-1-4h0m-2 0h0m-5 2h0m-8 7h0m1 5h0m5-2h0m2-5h0m0 5h0m3 0h0m7-4h0m2 4h0m0 3h0m0 2h0m15-2h0m4-3h0m5 0h0m14 0h0m2-3h0m1-1h0m2 0h0m3-1h0m17 0h0m0 2h0m2 5h0m0 2h0m5-1h0m15-4h0m3 6h0m8-10h0m0 7h0m2 1h0m6-8h0m8 3h0m1-3h0m0 5h0m5 5h0m-10 5h0m-4 3h0m-13 1h0m-2 3h0m-3-10h0m-4 5h0m-1-3h0m-9-2h0m-7 7h0m-2-7h0m-5 3h0m0 1h0m-15 1h0m-2-4h0m-1 9h0m-11-10h0m-7 10h0m-19-9h0m-5 4h0m-1 5h0m-11-1h0m11 9h0m3-3h0m4 2h0m1-5h0m2 2h0m5 6h0m3-1h0m7-7h0m4 10h0m14-1h0m6-9h0m16 2h0m1-2h0m9 7h0m26-7h0m1 5h0m4-4h0m0 6h0m-17 7h0m-21-2h0m-19 0h0m0 9h0m-8-4h0m-7-2h0m-7-3h0m-7 3h0"/>
<path id="sM4" d="M232 20h0m-8-5h0m0 3h0m-8 0h0m-1 5h0m-9-5h0m-15 2h0m-7 1h0m-3-3h0m-2 0h0m-2 0h0m0 3h0m-3-3h0m-35 17h0m6 0h0m15 0h0m10-5h0m2-5h0m12 0h0m2 10h0m1-8h0m5-2h0m2 0h0m0 5h0m5-5h0m2 9h0m2-9h0m7 7h0m2-5h0m6-1h0m0 2h0m0 4h0m4-1h0m8 4h0m2 0h0m22-4h0m7 1h0m-1 8h0m-16 4h0m-21-5h0m-3-2h0m0 8h0m-9-8h0m-1 7h0m-4 1h0m0 2h0m-2-10h0m-20 0h0m-5 7h0m-4 0h0m-5 1h0m-3 2h0m-28-10h0m-1 5h0m19 9h0m20 6h0m12 0h0m2-8h0m3 5h0m19-5h0m0 5h0m2-5h0m3 5h0m0 3h0m2-2h0m12-6h0m2 10h0m1-5h0m7-4h0m2 6h0m2 3h0m1-10h0m2 2h0m10 1h0m4 4h0m3 2h0m4-2h0m1 3h0m-3 5h0m-3-3h0m-18 5h0m-10-3h0m-1-2h0m-25 7h0m-3 0h0m-7-2h0m-10 1h0m-5 2h0m-6-1h0m-4 0h0m-9-5h0m-2 1h0m-17 2h0m0 3h0m-10-3h0m-2 5h0m-8 11h0m6 1h0m16-5h0m8 2h0m16-5h0m8-2h0m16 5h0m8-3h0m0 7h0m31-2h0m3 0h0m1-5h0m1 3h0m3 2h0m4 3h0m2-9h0m2 7h0m8-3h0m2 0h0m8-2h0m2 5h0m0 2h0m9 9h0m-12 1h0m-13 0h0m-1-8h0m0 6h0m-9 1h0m-1-5h0m-1 1h0m-3 0h0m-3 2h0m-12 4h0m-12-9h0m-9 10h0m-5-5h0m-16-2h0m-3 0h0m-3 4h0m-2 1h0m-3 2h0m-4-10h0m0 8h0m-2-3h0m-13-3h0m-4 3h0m-3-4h0m-2 4h0m-7 2h0m-1-2h0m-9-4h0m-5 7h0m-2 14h0m5 0h0m2-3h0m3-6h0m0 4h0m1-2h0m1 2h0m7 5h0m7-10h0m17 5h0m7-5h0m1 3h0m2 0h0m10 5h0m2 1h0m2 1h0m10 0h0m2-10h0m0 8h0m2-8h0m0 10h0m1-8h0m2 7h0m2-4h0m12-3h0m3 3h0m2-5h0m0 7h0m9-4h0m0 4h0m5-4h0m3 0h0m3 5h0m1-3h0m10-2h0m3 0h0m4 2h0m0 5h0m3-3h0m2-4h0m5 2h0m2 0h0m7 2h0m3-4h0m-2 9h0m-5 1h0m-21 4h0m-1 3h0m-5-6h0m-10 6h0m-1-5h0m-24 4h0m-20-2h0m-14 0h0m-5 4h0m-3 1h0m-5-5h0m-18 0h0m-2 0h0m-4-4h0m0 9h0m-4-5h0m-5 4h0m-12-2h0m-11-7h0m-10 22h0m2-6h0m0 3h0m5-5h0m9 8h0m2-8h0m8 3h0m2 3h0m5-2h0m2-1h0m3 0h0m7 0h0m7-5h0m4 6h0m4 4h0m11-3h0m25 3h0m19-1h0m2-7h0m17-1h0m0 4h0m-9 16h0m-13-9h0m-9 8h0m-10-8h0m-13 5h0m-4-2h0m-21 5h0m-3-3h0m-21 5h0m-1-7h0m-14 2h0m-5-2h0m-4-2h0m-3 1h0m0 8h0m-11-7h0m0 4h0m-25 10h0m3-2h0m7 2h0m2-2h0m14 2h0m3-2h0m2-2h0m17 6h0m5-2h0m12 4h0m12-3h0m19 0h0m12 4h0m2-9h0m8 9h0m14-1h0m3-2h0m5-2h0m0 3h0m2-8h0m9 0h0m-33 17h0m-3 3h0m-5 1h0m-4-6h0m-2-3h0m-10 5h0m-5-2h0m-9 5h0m-3-7h0m-5 0h0m-2 9h0m-3-5h0m-5 2h0m-1 0h0m-6-2h0m-7-3h0m-2 6h0m-2 0h0m-10 2h0m-4-7h0m-13 2h0m-8 3h0m0 2h0m-2-3h0m-2-2h0m-2-2h0m-1-3h0m-5 10h0m-4-3h0m-9-2h0m-3-5h0m-9 7h0m-5 0h0m-3 2h0m8 5h0m4 3h0m7 0h0m0 5h0m8-5h0m7 4h0m5-4h0m2 4h0m2-8h0m3-1h0m2 10h0m12-1h0m12-6h0m1-2h0m14 3h0m7 4h0m5-8h0m0 3h0m4 2h0m5 5h0m2-10h0m5 6h0m5-3h0m17-3h0m0 5h0m0 3h0m5-3h0m-34 7h0m-2 5h0m0 2h0m-5-5h0m-14 8h0m-1-2h0m-4-5h0m-3-1h0m-2-2h0m-4 1h0m-5 4h0m-22 5h0m-5-7h0m-24-1h0m-2-2h0m-3 3h0m0 5h0m-2-3h0m-2 0h0m-3 3h0m-5-5h0m5 9h0m10 0h0m2 5h0m27-3h0m2 4h0m5 1h0m2 3h0m12-8h0m5 3h0m4 3h0m6 0h0m2-8h0m4 7h0m3-2h0m3 0h0m0 5h0m19-10h0m6 8h0m6-8h0m-27 15h0m-2 2h0m-10-2h0m-2 2h0m-17 2h0m-4 0h0m-1 3h0m-2-9h0m-10 9h0m-3-8h0m-2 5h0m-7 1h0m-2-7h0"/>
<path id="sM5" d="M225 21h0m-34 2h0m-19-1h0m-12 5h0m2 3h0m3 2h0m4-7h0m6 7h0m2-7h0m5 0h0m2 9h0m24-4h0m4 2h0m11 3h0m1-3h0m13-6h0m5 9h0m17 7h0m-14-2h0m-6 5h0m0 2h0m-7-8h0m-2-2h0m-2 10h0m-6 0h0m-2-5h0m-2 0h0m-3 3h0m-5 2h0m-4-9h0m-26 0h0m-1 4h0m-7-2h0m-31-3h0m-5 0h0m0 10h0m1 9h0m2-3h0m4-3h0m13 2h0m4 0h0m3 5h0m9-1h0m3 3h0m19 0h0m2-3h0m0 2h0m1-4h0m1 0h0m8 4h0m2-8h0m0 1h0m7 6h0m17 0h0m9 2h0m3-5h0m4-5h0m1 10h0m5-3h0m6 1h0m15-3h0m0 7h0m0 6h0m-2 1h0m-3-7h0m-4 10h0m-12 0h0m-3-7h0m-5 0h0m-2 0h0m0 2h0m-5-5h0m-9 5h0m-7-2h0m0 2h0m-3-2h0m0 2h0m-3 5h0m-9 0h0m-2-9h0m-1 4h0m-9-5h0m-3 10h0m-2-7h0m-2-1h0m-2-2h0m-10 5h0m-8 5h0m-7-3h0m-9-7h0m-5 9h0m-7-7h0m-2 8h0m-8 12h0m1-7h0m16 2h0m0 5h0m9-7h0m1 7h0m4 0h0m12-10h0m0 5h0m5 5h0m3-7h0m3-1h0m6 1h0m2 5h0m51-3h0m3-5h0m2 6h0m5-1h0m2 4h0m8-2h0m6 0h0m7 3h0m3 7h0m-7 5h0m-5-10h0m0 5h0m-4-5h0m-11 2h0m-9-2h0m-4 9h0m-6-6h0m-2 0h0m0 6h0m-2 0h0m-10-7h0m-17 1h0m-2 5h0m-9 2h0m-5-5h0m-5 0h0m-1 4h0m-19-2h0m-6 3h0m-3 0h0m-3 0h0m-2-4h0m0 1h0m-2 0h0m-1-5h0m-9 5h0m-7-4h0m-7 14h0m2 2h0m10-7h0m9 0h0m15 5h0m9-3h0m6 8h0m34-3h0m3 0h0m6-7h0m7 7h0m2-2h0m2-5h0m12 0h0m27 0h0m5 10h0m2-10h0m2 10h0m7 7h0m-11-5h0m-8 1h0m-12 0h0m-4-1h0m-10 2h0m-17 5h0m-12-6h0m0 9h0m-12 0h0m-41-1h0m-11-4h0m-4 4h0m-2 0h0m-2-4h0m-5-5h0m-5 5h0m-1-2h0m-1-2h0m-7 4h0m-15 12h0m5-5h0m0 7h0m7-2h0m10-2h0m2 2h0m3-3h0m0 5h0m7 0h0m5-7h0m0 8h0m10-1h0m7-4h0m7 6h0m3-4h0m1 3h0m6-7h0m21-1h0m12 0h0m3 0h0m1 10h0m4-3h0m7-2h0m2-2h0m0 6h0m2 1h0m10-2h0m5-5h0m2-2h0m-15 14h0m-6 0h0m-1 7h0m-17 0h0m-4-7h0m-2-1h0m-18 3h0m-4 2h0m-7-2h0m-15-3h0m-10 3h0m-7 0h0m-1 5h0m-1-10h0m-7 3h0m-10 5h0m-2-5h0m0 2h0m-12-2h0m0 4h0m-7-7h0m0 10h0m-3-5h0m-3 4h0m-4 1h0m-28 9h0m4-2h0m9 3h0m11-8h0m9 7h0m2-4h0m10 7h0m4-9h0m12 9h0m1-3h0m2 0h0m7-1h0m10 1h0m7 0h0m2 0h0m1-2h0m4 0h0m2-5h0m6 7h0m4-5h0m10 1h0m3 2h0m1 5h0m20-10h0m7 8h0m-24 4h0m-3 7h0m-6 0h0m-3 3h0m-2-8h0m0 6h0m-2 2h0m-8-3h0m-5-7h0m0 8h0m-2-1h0m-1 3h0m-1-9h0m0 1h0m-12 0h0m-5 3h0m-10 4h0m-19-2h0m-7 0h0m-5 3h0m-1-7h0m-1 0h0m-1-3h0m-6 8h0m-3-8h0m-17 3h0m-2 4h0m-7-4h0m-3-1h0m0 8h0m-3 0h0m-4 7h0m0 2h0m2 0h0m2 1h0m8-2h0m14 4h0m12-10h0m3 9h0m9-2h0m5-2h0m2-5h0m0 5h0m10 5h0m4-10h0m20 8h0m5-1h0m4-4h0m3 2h0m0 5h0m2 0h0m12-2h0m1 2h0m0 3h0m-3 8h0m-4 1h0m-20 0h0m-9-7h0m-5 2h0m-3 2h0m-5 2h0m-4-8h0m-10 2h0m-19-1h0m-7 3h0m-1-5h0m-2 10h0m-2-5h0m-5-2h0m-2 2h0m-7-2h0m-13 0h0m0 4h0m-7 0h0m15 8h0m2-3h0m10 0h0m0 10h0m2-7h0m0 2h0m3-2h0m7 4h0m2-5h0m10 3h0m2 0h0m5 0h0m3 0h0m6-3h0m8 2h0m5 1h0m5-2h0m2-3h0m0 5h0m2 5h0m3-2h0m9 1h0m12-9h0m0 5h0m5 0h0m-12 9h0m-5 1h0m-5 3h0m-11-1h0m-6-3h0m-2 2h0m-14-2h0m-1 3h0m-1 0h0m-6 2h0m-2-2h0m-3-2h0m-7 2h0"/>
<path id="sM6" d="M240 23h0m-23-7h0m-11 6h0m-5-7h0m-3 3h0m-4 2h0m-2-2h0m-1-3h0m-5 5h0m0 2h0m-9-7h0m-5 1h0m0 2h0m-14 9h0m19 1h0m2 2h0m0 5h0m10 0h0m2-5h0m0 3h0m3-6h0m2 3h0m5 2h0m19 0h0m0 3h0m1-8h0m1 0h0m23 8h0m1 0h0m1-8h0m11 6h0m1-3h0m12 15h0m-12-5h0m-7-3h0m-3 5h0m-2 0h0m-25-4h0m-4 7h0m-3-8h0m-2 10h0m-7-5h0m-5 3h0m-4-3h0m-6-2h0m-5-3h0m-11 6h0m-1 3h0m-4-6h0m-3-2h0m-2 9h0m-10-9h0m-17 7h0m-11 6h0m16 1h0m1 2h0m8 5h0m3-5h0m8-2h0m16-1h0m3 3h0m2 5h0m12-8h0m24-2h0m9 5h0m1-2h0m2 7h0m2-7h0m3 2h0m9-2h0m5 0h0m2 3h0m5 4h0m5-5h0m7-3h0m3 6h0m-2 14h0m-17-5h0m-5 0h0m0 2h0m-1 3h0m-4-3h0m-9-7h0m-18 8h0m-6 1h0m-7-1h0m-1-3h0m-18-5h0m-3 10h0m-20 0h0m-1-5h0m-13-2h0m-12-2h0m-2 9h0m-8 12h0m14-7h0m11-3h0m4 1h0m1 9h0m4-2h0m19-5h0m8 7h0m2-7h0m10-3h0m11 0h0m3 5h0m28 5h0m8-2h0m3 2h0m2-10h0m4 7h0m2-5h0m4 7h0m2 1h0m7 5h0m0 3h0m-3-1h0m-9 5h0m-2-9h0m-3 8h0m-10-4h0m-35-5h0m-3 7h0m0 3h0m-2-3h0m-5-7h0m-9 5h0m-1-3h0m-2 0h0m-1 3h0m-6-5h0m-9 1h0m0 9h0m-9-7h0m-11-2h0m0 1h0m-12-2h0m-14 0h0m0 14h0m2 8h0m2-8h0m0 8h0m2-3h0m1 3h0m2 0h0m10 0h0m7 0h0m14-1h0m10-2h0m5-7h0m11 2h0m10 3h0m2-3h0m5 3h0m12-2h0m10-3h0m5 3h0m0 5h0m5 1h0m14-4h0m4-4h0m6 2h0m2 4h0m0 3h0m10-8h0m0 2h0m2 1h0m-2 12h0m-3-2h0m-2 2h0m-3-3h0m-9-1h0m-8 4h0m-4-2h0m-12-3h0m-3 7h0m-14-7h0m0 10h0m-10 0h0m-7-3h0m-5-1h0m-4-1h0m-17-5h0m-5 5h0m-2-5h0m-10 5h0m-2-2h0m-10 7h0m-17-6h0m-3 1h0m-1-5h0m-8 7h0m-2-5h0m-3 1h0m0 5h0m0 1h0m-2-1h0m-2-1h0m-5 15h0m10-7h0m2 0h0m2-3h0m0 3h0m5 2h0m0 5h0m8-5h0m1 2h0m13-2h0m14-3h0m3 0h0m0 5h0m2-2h0m8 4h0m7-2h0m18-5h0m1-1h0m7-1h0m2 2h0m0 3h0m7 0h0m8-3h0m6-1h0m10 8h0m1-4h0m-3 7h0m-20 0h0m0 5h0m-9-2h0m-9 2h0m-19 0h0m-6-5h0m-2 5h0m-2 2h0m0 3h0m-3-10h0m0 10h0m-21 0h0m-9-5h0m-5-2h0m-11-3h0m-12 3h0m-4 3h0m-2-6h0m0 3h0m0 3h0m-3-1h0m-3-3h0m-36 18h0m18-8h0m8 5h0m1-5h0m2 0h0m3 3h0m12 5h0m2-5h0m1 2h0m7 3h0m2-1h0m12-2h0m5-3h0m0 3h0m6-5h0m4 9h0m2-9h0m5 2h0m2 7h0m2 1h0m13-9h0m0 6h0m4-4h0m12 0h0m0 7h0m3-3h0m16-2h0m10 5h0m-22 2h0m-9 3h0m-3-1h0m-2-1h0m0 6h0m-7-2h0m-3-2h0m-4-2h0m0 2h0m-3 2h0m-12-2h0m-2-3h0m-1 3h0m-4 0h0m-15-3h0m-2 1h0m0 3h0m-3-3h0m-4-1h0m-7 3h0m-5 0h0m-5-3h0m-7 0h0m-9 3h0m-4 0h0m-7 3h0m-1 1h0m-5 3h0m-5-1h0m-10-4h0m-10 5h0m-5 5h0m1-3h0m2 3h0m1 4h0m13-6h0m10 8h0m2 1h0m14-5h0m5-3h0m8 5h0m5-4h0m2-2h0m2 2h0m3-2h0m3 4h0m4-5h0m5 3h0m3 7h0m11-7h0m17-1h0m5 8h0m10-8h0m4 3h0m0 2h0m5 3h0m5-10h0m-14 15h0m0 6h0m-3-8h0m-2 9h0m-10 0h0m-2-10h0m-8 2h0m-14 5h0m-5-2h0m-14 2h0m0 3h0m-3-7h0m-7 7h0m-2-8h0m-7 2h0m-3-4h0m-12 5h0m-2 5h0m-2-8h0m-8 8h0m-4-5h0m-7 4h0m-3-9h0m-2 0h0m-6 7h0m11 8h0m11-3h0m1 10h0m2-3h0m21 0h0m3 3h0m2-8h0m1 5h0m2-4h0m6 7h0m3 0h0m3-5h0m7-2h0m12-1h0m12 4h0m5-6h0m14 0h0m0 10h0m3-8h0m2 5h0m-19 6h0m-3-1h0m0 5h0m-19-2h0m-5 0h0m-4 0h0m-7-3h0m-8 7h0m0 3h0m-3-9h0m-2 6h0m-3-1h0m-2-1h0m-12-3h0m-2 2h0"/>
<path id="sM7" d="M227 20h0m-4-3h0m-16 4h0m-3 2h0m-8-6h0m-14 6h0m-1-3h0m-7 0h0m-18 9h0m4 3h0m15-2h0m0 4h0m2 0h0m3-9h0m0 3h0m9-3h0m0 2h0m0 6h0m7-8h0m1 8h0m6 2h0m2-8h0m10 5h0m10-3h0m5-3h0m0 2h0m9 2h0m13-3h0m8 8h0m11 12h0m-3 0h0m-19 0h0m-1-7h0m-1-2h0m0 7h0m-14 1h0m-6-9h0m-10 9h0m-1-7h0m-12 5h0m-1 3h0m-10-2h0m-2-7h0m-2-1h0m-4 3h0m-1 4h0m-7-6h0m0 7h0m-10-3h0m-27 0h0m-6 5h0m2 2h0m17 7h0m7-2h0m2 5h0m15-5h0m2-4h0m5 4h0m3 5h0m19-3h0m2-1h0m0 2h0m14-5h0m8-3h0m5 7h0m14-2h0m0 2h0m2-7h0m0 8h0m3 2h0m7-7h0m0 7h0m6-7h0m1 4h0m1 2h0m7 13h0m-1-2h0m-2 2h0m-17-7h0m-2 0h0m-5-3h0m-14 3h0m-3 1h0m-29-2h0m-5 1h0m-4-1h0m-1-1h0m-9 1h0m-2-2h0m0 8h0m-13 0h0m-9-1h0m-9 1h0m-6-8h0m-4 0h0m-12 3h0m24 14h0m0 5h0m9-5h0m17-5h0m1 5h0m4 5h0m7-10h0m5 5h0m12-4h0m0 2h0m2 6h0m2-2h0m25-7h0m7 0h0m0 10h0m17-3h0m18 5h0m-1 10h0m-5-2h0m-7 2h0m-1-9h0m-1 2h0m-15 7h0m-10-7h0m-21 0h0m-30-3h0m-2 0h0m-9 0h0m-1 3h0m-1 3h0m-5-3h0m-5-3h0m-4 10h0m-6-5h0m-3 0h0m-2-2h0m-5 7h0m-21-9h0m5 14h0m2 4h0m6 0h0m1 3h0m3-2h0m5-1h0m26 0h0m5 2h0m35-9h0m1 5h0m21-5h0m5 7h0m1 2h0m2-4h0m2 0h0m0 5h0m9-2h0m3-8h0m7 3h0m7 0h0m8-3h0m4 0h0m1 6h0m-10 6h0m-19 0h0m-1 7h0m-2 3h0m-9-7h0m-1 7h0m-4-2h0m-12-1h0m-3-5h0m0 8h0m-4 0h0m-5-6h0m-2-4h0m0 6h0m-37-2h0m-2 4h0m-9-1h0m-2-7h0m-6 7h0m-9-5h0m-3-2h0m-10 0h0m-2 3h0m-12-3h0m0 17h0m7 2h0m0 3h0m1-10h0m2 1h0m4-1h0m3 3h0m0 7h0m3 0h0m7-7h0m2 7h0m2-8h0m3-2h0m0 5h0m2 5h0m1-5h0m6 0h0m7 4h0m5 1h0m1-8h0m21 8h0m3-3h0m7-2h0m0 3h0m2 0h0m3-6h0m9 5h0m7 0h0m5-4h0m5 6h0m10-7h0m7-2h0m-22 15h0m-12 0h0m-5-1h0m-2 3h0m-4 2h0m-8-6h0m-19 1h0m0 8h0m-3-3h0m-5 3h0m-2-3h0m-3-7h0m-4 7h0m-4-7h0m-22 3h0m-8 7h0m-11 0h0m-1-10h0m-3 8h0m-14 2h0m-46 11h0m11-4h0m2 2h0m11 2h0m8 1h0m5-1h0m2-2h0m1 3h0m9-10h0m0 2h0m2-1h0m5-1h0m7 0h0m5 3h0m3 2h0m4-3h0m1 7h0m2 1h0m2-9h0m0 4h0m2-2h0m1-2h0m2 9h0m3-2h0m1-6h0m6-2h0m2 5h0m17-2h0m2-2h0m7 2h0m7-1h0m0 8h0m14-5h0m3-2h0m-17 19h0m-2-3h0m-4-7h0m0 5h0m-3 4h0m-12-6h0m0 7h0m-10 0h0m-7-5h0m-8 0h0m-4 0h0m-2-2h0m-6 0h0m-2 5h0m-2-5h0m-7-1h0m-2 3h0m-13 1h0m-10-1h0m-2 5h0m-2-7h0m-2 7h0m-27-2h0m-15 2h0m-6-1h0m7 5h0m4 3h0m1-3h0m0 7h0m24-9h0m0 3h0m4 2h0m3 5h0m9-10h0m0 3h0m6 2h0m4 5h0m1-2h0m3-6h0m5 5h0m1-2h0m14 0h0m5-5h0m17 8h0m7-1h0m5-4h0m11-1h0m-13 17h0m-4-7h0m-12 0h0m-2 7h0m0 3h0m-12-6h0m-2 6h0m-10-5h0m-2-2h0m0 2h0m0 5h0m-22-2h0m-2-7h0m-2-1h0m0 8h0m-3-3h0m-14-2h0m-3 6h0m-2-4h0m-4 3h0m-15-5h0m-10 2h0m3 9h0m9-2h0m5 8h0m2-6h0m1-2h0m2 9h0m3-1h0m4 2h0m7-10h0m10 8h0m2-7h0m3 2h0m12 5h0m5-8h0m5 3h0m1 7h0m2-8h0m9-1h0m0 7h0m4-7h0m4 4h0m13-5h0m5 7h0m7-5h0m7 1h0m2-3h0m-14 12h0m-4 0h0m0 2h0m-3-1h0m-10 0h0m-5 4h0m-5-5h0m0 3h0m-11-1h0m-10 8h0m-7-8h0m-10 5h0m-7-5h0m0 3h0m-5 0h0m-4 0h0"/>
<path id="sMx" d="M174 20h0m65 25h0m-45 14h0m10-3h0m42-4h0m10 2h0m16 12h0m-136 2h0m134 12h0m8 34h0m-45 5h0m-23 0h0m-98-5h0m38 9h0m13 8h0m62-5h0m-3 17h0m-43 0h0m-88 0h0m6 7h0m49-5h0m26 3h0m-89 18h0m-16 1h0m-35 4h0m111 10h0m-57 0h0m-5 2h0m-19 15h0m67 3h0m-48 13h0"/>
<path id="sB0" d="M325 134h0m0 2h0m-96 17h0m2 2h0m10-7h0m9 7h0m8-4h0m6 0h0m0 4h0m1-3h0m3-7h0m4 8h0m7 0h0m10-2h0m0 2h0m16 2h0m15 10h0m-7 0h0m-14-5h0m-3-3h0m0 7h0m-3-3h0m-9 6h0m-14-2h0m-12-9h0m-1 11h0m-2-5h0m-12 3h0m0 2h0m-2 0h0m-1-11h0m0 9h0m-1-5h0m-1 5h0m-55 9h0m15-2h0m0 5h0m5-5h0m0 3h0m2-5h0m2 0h0m3 7h0m5-1h0m4 1h0m12-3h0m2 0h0m3 3h0m9-5h0m3 3h0m0 2h0m5-7h0m0 2h0m0 2h0m4 2h0m20 1h0m36-8h0m0 5h0m-5 8h0m-5 4h0m-9 0h0m-1-2h0m-2 2h0m-10 0h0m-7-4h0m-5 2h0m0 2h0m-7-4h0m-7 9h0m-7 0h0m-15-5h0m-1 3h0m-3 2h0m-7-9h0m-10 7h0m-19-5h0m-5 0h0m-2 1h0m-5-4h0m0 7h0m4 4h0m15 9h0m10 2h0m10-5h0m7-2h0m6-4h0m0 9h0m5 0h0m3 0h0m7-5h0m0 3h0m19 0h0m3-3h0m6 3h0m11 2h0m9-4h0m0 3h0m7-6h0m1 6h0m11-7h0m2 8h0m1 2h0m0 2h0m-3 1h0m0 4h0m-7 0h0m-10-4h0m-7 4h0m-2-2h0m-8 5h0m-4-3h0m-7-6h0m-8 11h0m-4-10h0m-12 6h0m-3 4h0m-2-11h0m-2 9h0m-1-9h0m0 2h0m-2 6h0m-12 1h0m-9-8h0m-5 8h0m-5-5h0m-5 5h0m-8-8h0m-4 10h0m-43 12h0m5-3h0m1-2h0m8 5h0m3-5h0m5 2h0m28-6h0m1 2h0m2 0h0m2-2h0m0 5h0m5-3h0m0 2h0m24-1h0m3 2h0m4 1h0m0 3h0m2-2h0m3 0h0m4-2h0m3-6h0m0 5h0m8-4h0m9-1h0m2 0h0m2 6h0m25-5h0m7-2h0m2 4h0m-9 8h0m0 2h0m-8 2h0m-2-2h0m-10 5h0m-11 2h0m0 2h0m-19-3h0m-6-4h0m-5-3h0m-18 5h0m-1 2h0m-2 3h0m-7-10h0m0 3h0m0 2h0m-7-6h0m-8 6h0m-4 5h0m-2 0h0m-11-10h0m0 5h0m-2-2h0m-2 2h0m0 3h0m-5 2h0m-3-11h0m-4 6h0m-3 3h0m-2-9h0m-2 6h0m-6-2h0m-50 19h0m11-5h0m7 5h0m2-2h0m11-2h0m7-3h0m6 5h0m0 2h0m2 0h0m5-10h0m5 3h0m5 3h0m0 4h0m2-2h0m3-5h0m2 5h0m2-5h0m2 7h0m5-11h0m2 1h0m3-1h0m10 2h0m0 4h0m7 3h0m7 2h0m10-9h0m2 5h0m2 4h0m1-9h0m16 4h0m3-5h0m4 7h0m10-6h0m19 0h0m0 4h0m1 5h0m6-3h0m8-2h0m4-6h0m1 4h0m1-2h0m-13 10h0m-22 4h0m-12 5h0m-24-5h0m0 3h0m0 1h0m-2-1h0m-15-3h0m-29 2h0m-7 3h0m-2-5h0m-3 7h0m-4-9h0m-5 7h0m-7-3h0m-10 3h0m-4-4h0m-1 4h0m-3 0h0m-2-3h0m-2-6h0m-3 6h0m-2-2h0m-2-3h0m-10 8h0m-8-7h0m-28 19h0m0 2h0m14-5h0m6 0h0m1 5h0m10 0h0m5-7h0m4 4h0m3-6h0m3 7h0m2 0h0m3-1h0m12 0h0m7-7h0m3 10h0m6 0h0m5-10h0m0 10h0m10-7h0m5 7h0m1-2h0m10 0h0m12 0h0m14 2h0m11-11h0m6 9h0m4-4h0m1 3h0m3-3h0m6 4h0m16 0h0m2-3h0m4 0h0m1 5h0m4-7h0m-4 17h0m-3 2h0m-9-7h0m-1-4h0m-2 0h0m-2 0h0m-5 11h0m-2-7h0m-5 0h0m-15 7h0m-4-3h0m-1-4h0m-4-2h0m-7 5h0m-7-4h0m-5-2h0m-1 10h0m-4 0h0m-5-7h0m-2-4h0m-3 9h0m-22-1h0m-2-1h0m-15 0h0m-3-3h0m-6 0h0m-4 7h0m-8-5h0m-9 5h0m-2-4h0m-3-4h0m-2-2h0m-7 7h0m-3 3h0m-1-5h0m-1 2h0m6 8h0m1-2h0m7 0h0m7 2h0m3 2h0m7 2h0m14 3h0m12-7h0m0 3h0m0 1h0m10 1h0m5-2h0m2 1h0m4-2h0m4-2h0m4 0h0m0 3h0m2 2h0m15-5h0m0 2h0m5-1h0m12-1h0m12 5h0m2 2h0m7-2h0m3 0h0m24-3h0m-27 10h0m-2 0h0m-19 1h0m-17 4h0m-11-2h0m-11-6h0m-2 0h0m-15 8h0m-6-7h0m-8 0h0m-7 9h0m-2-2h0m-3-3h0m-2-2h0"/>
<path id="sB1" d="M296 143h0m-60 12h0m3-3h0m2-1h0m5-1h0m1 5h0m13-5h0m7 0h0m3 1h0m2-2h0m12 6h0m3-4h0m1-3h0m9-2h0m4 4h0m2 5h0m5 0h0m20 7h0m-13 5h0m-3-5h0m-2 5h0m-1 0h0m-3-9h0m0 5h0m-5-5h0m0 7h0m-8-2h0m-5 2h0m-2-8h0m-19 8h0m-2 0h0m-7-2h0m-5-5h0m0 2h0m0 7h0m-3-2h0m-2-7h0m-7 2h0m-5 7h0m-2-9h0m-22 9h0m-31 12h0m7 0h0m12-7h0m3 4h0m2 0h0m7 1h0m2-5h0m17 5h0m1 2h0m11-5h0m3 0h0m10-4h0m4 4h0m2-4h0m13 4h0m1 5h0m6 0h0m11-3h0m1-1h0m7-3h0m9 0h0m0 7h0m1-9h0m2-2h0m3 2h0m2-2h0m-1 20h0m-12 1h0m-9-2h0m0 2h0m-5-9h0m0 4h0m-12-4h0m-5 11h0m-2-7h0m0 3h0m-16-7h0m-6 9h0m-2-7h0m-2 0h0m-1 2h0m-13 7h0m-8 0h0m-4 0h0m-7-5h0m-1-6h0m-14 7h0m-7-5h0m-1 6h0m-1-7h0m-6 8h0m-4-7h0m-1-2h0m0 11h0m-2 7h0m5 3h0m17 0h0m2 2h0m12 0h0m3-5h0m1-4h0m3 0h0m2 7h0m8-7h0m5-1h0m2-1h0m0 11h0m5-6h0m3 4h0m1 0h0m1-2h0m38 0h0m7-2h0m1 4h0m1-7h0m0 2h0m0 7h0m3-4h0m7-2h0m3 4h0m7 11h0m-3-6h0m0 7h0m-5-5h0m-13-2h0m-5 9h0m-3-2h0m-9-2h0m-18 0h0m-9 0h0m-2 4h0m-1-9h0m-2 6h0m-2-6h0m-2 4h0m-15-4h0m-4 5h0m-1 2h0m-12-2h0m-10-6h0m0 3h0m-4 5h0m0 2h0m-5-9h0m0 5h0m-2-1h0m-15-5h0m0 3h0m-4 3h0m-5 2h0m-9 12h0m4-5h0m2 5h0m6-5h0m8 7h0m1-2h0m2-3h0m7-2h0m2-2h0m3 0h0m22-2h0m7 7h0m4-7h0m5 0h0m3 7h0m2 2h0m14-8h0m0 3h0m22 1h0m3-4h0m4 0h0m8 5h0m16 0h0m8-4h0m-15 14h0m0 5h0m-4-3h0m-1-4h0m-6 4h0m-8-6h0m-3 11h0m-7-10h0m-1 3h0m-3-2h0m-1 7h0m-16-9h0m-4 6h0m-3-2h0m-1-4h0m-1 4h0m-4 0h0m-4-2h0m-2 9h0m-3-9h0m0 7h0m-4-7h0m-17 2h0m-1 7h0m-2-7h0m-23 2h0m-1-4h0m-3 0h0m-12 0h0m-1 0h0m-1-2h0m-4 9h0m0 2h0m-5-9h0m-15 19h0m11 0h0m13 0h0m3 2h0m14-10h0m12 1h0m5 0h0m12 7h0m7-8h0m5 10h0m10-7h0m4 3h0m10-5h0m5 2h0m5 0h0m2 0h0m0 2h0m7-2h0m5 2h0m9 5h0m3 0h0m5-9h0m0 2h0m0 2h0m3 2h0m6 1h0m-24 3h0m-4 8h0m-8-2h0m0 5h0m-9-5h0m-2 0h0m-10 3h0m-4-5h0m-6-3h0m0 8h0m-9-7h0m-1 4h0m-2 1h0m-2-1h0m-12 0h0m-21 5h0m-1-7h0m-7 0h0m-9 2h0m-10 5h0m-5-10h0m0 5h0m-28 5h0m-5-9h0m-1-2h0m-6 6h0m-5-2h0m-20 14h0m3 0h0m2 3h0m1-5h0m2 7h0m4-7h0m2 1h0m1 1h0m7-1h0m2 2h0m14-1h0m0 5h0m10-4h0m1-5h0m4-2h0m5 0h0m2 9h0m5-9h0m3 11h0m6-4h0m1-5h0m28 2h0m10 5h0m2-9h0m8 11h0m12-2h0m2-3h0m5-6h0m0 4h0m3 0h0m4-2h0m2 9h0m3-11h0m5 2h0m5-2h0m0 8h0m4-7h0m0 3h0m19 12h0m-4 2h0m-20-4h0m-5 6h0m-11-6h0m-7 6h0m-3 1h0m-2-7h0m0 9h0m-3-2h0m-6-9h0m-1 11h0m-7-4h0m-5 0h0m-2-3h0m-7-4h0m-19 9h0m-6-7h0m-4 0h0m-3-1h0m-3 5h0m-4 2h0m-5-2h0m-2-5h0m-4 10h0m-10-7h0m-3-2h0m-5 3h0m-14 6h0m-5-9h0m-7 2h0m-7-3h0m0 3h0m-3-2h0m-3 2h0m-3-2h0m24 10h0m6 4h0m0 5h0m5-9h0m7 4h0m8-2h0m7 2h0m0 5h0m2-2h0m0 2h0m2-7h0m3 5h0m5-2h0m4 2h0m1-5h0m0 7h0m1-3h0m4-6h0m4 7h0m3 2h0m5-7h0m7 3h0m9 1h0m3-1h0m9 4h0m2 0h0m12 2h0m15-7h0m0 3h0m2-5h0m2 9h0m8 0h0m8-9h0m0 7h0m4-2h0m5 0h0m-10 7h0m-4 3h0m-1-4h0m-2 0h0m-12 3h0m-4 7h0m-11 0h0m-2-7h0m-9-2h0m-1 2h0m-4 0h0m-2 4h0m-13-2h0m-26 3h0m-3-8h0m0 6h0m-4 4h0m-5-5h0m-1-2h0m-11 0h0m-3-3h0m24 13h0"/>
<path id="sB2" d="M312 128h0m-54 15h0m-7-2h0m-3 0h0m-17 9h0m8-5h0m9-1h0m0 2h0m2 0h0m12 2h0m2-3h0m3 8h0m2-1h0m6-4h0m12 5h0m4-4h0m0 1h0m2-5h0m11 5h0m12 13h0m-5-6h0m-5 10h0m-3 0h0m-2-7h0m-3 3h0m0 2h0m-2-2h0m-7 4h0m-2 0h0m-8-11h0m0 5h0m-3 3h0m-4-7h0m-19 8h0m-4 0h0m-3-2h0m-1 2h0m-19 0h0m-33 7h0m0 7h0m19-5h0m2-5h0m3 8h0m2-7h0m15 7h0m0 2h0m4-9h0m13 9h0m26-7h0m0 2h0m4-2h0m1-4h0m26 4h0m8 3h0m2-2h0m-12 13h0m-8-2h0m-6-2h0m-20 9h0m-5-10h0m-9 6h0m-7-6h0m0 3h0m-12 7h0m-3-6h0m-2 4h0m-39-9h0m-11 4h0m-3 3h0m-3-2h0m-2 2h0m24 9h0m5 0h0m0 2h0m2-6h0m0 6h0m0 3h0m1-7h0m6 9h0m13-9h0m2 2h0m7 0h0m0 2h0m0 2h0m3-4h0m6 7h0m17-5h0m5-2h0m17-4h0m0 11h0m10-2h0m5 0h0m2-7h0m0 7h0m5-7h0m9 4h0m6 6h0m-6 9h0m-2-2h0m-10 0h0m-2-5h0m0 2h0m0 2h0m-2 1h0m-3 2h0m-9-3h0m-11-2h0m-4 0h0m0 2h0m-17-5h0m-3 6h0m-9-7h0m-19 7h0m-7-1h0m-7 0h0m-2 3h0m-5-8h0m-11 3h0m-1 5h0m0 2h0m-1-9h0m-2 2h0m-8 0h0m-1-3h0m-20 8h0m-12 14h0m15-7h0m2 5h0m1-7h0m1 9h0m3 0h0m12-8h0m0 3h0m5 5h0m2-4h0m3-5h0m2 2h0m0 2h0m7-2h0m2-4h0m3 0h0m21 5h0m1 4h0m9-3h0m1-2h0m6 2h0m1-2h0m6 0h0m7-3h0m10 10h0m1-2h0m2-9h0m4 7h0m3-3h0m2 2h0m0 3h0m2-7h0m6 4h0m7-2h0m-2 19h0m-15 0h0m-2-2h0m-1 2h0m-2-9h0m-2 4h0m-1 3h0m-9-7h0m-5-2h0m0 1h0m-11 3h0m0 7h0m-6-10h0m-1 8h0m-4 0h0m-2-3h0m-2 5h0m-2-11h0m-10 1h0m-10 8h0m-5-2h0m-7-7h0m-17 6h0m-9 5h0m-4-10h0m-3 6h0m-3-1h0m-12-5h0m-2 6h0m-3-5h0m-36 19h0m10-2h0m19 4h0m10-7h0m4 3h0m1-6h0m9 5h0m10-2h0m11 5h0m1-7h0m2 2h0m0 2h0m5 1h0m5-1h0m9-2h0m1 5h0m26-3h0m22-6h0m14 1h0m4 6h0m1-5h0m2 0h0m1 7h0m7-3h0m9 3h0m-25 5h0m-4 9h0m-5-4h0m-2 2h0m-7-7h0m-1 2h0m-9 0h0m-9 7h0m-3-5h0m-9-2h0m-7 1h0m-3-3h0m-3 9h0m-4-7h0m-19 3h0m-13-5h0m-9 4h0m-2-2h0m-7 2h0m-15-4h0m-2 5h0m-5-3h0m-3-4h0m-5 2h0m-6 3h0m-6-1h0m-21 16h0m3-6h0m21 0h0m0 9h0m7-10h0m2 6h0m19-7h0m7 9h0m1-7h0m2 7h0m5-5h0m9 2h0m1-4h0m2 4h0m5 0h0m2 1h0m5-3h0m0 2h0m24 3h0m5-5h0m5-2h0m2 7h0m0 2h0m10 0h0m7-10h0m3 8h0m4 2h0m3-7h0m2 0h0m5 2h0m5-4h0m2 2h0m0 5h0m2-9h0m0 11h0m7 0h0m-12 12h0m-2 0h0m-2-10h0m-15 0h0m-7-1h0m-2 11h0m-1-7h0m-9 0h0m-8 7h0m-7-7h0m-18 0h0m-6 5h0m-2 2h0m-12-7h0m-2 7h0m-14-5h0m0 3h0m-6-2h0m-7 2h0m-7 2h0m-2-5h0m-5-2h0m-15-4h0m-9 0h0m0 6h0m-14 2h0m38 6h0m14 2h0m0 5h0m5-5h0m15 0h0m3-2h0m7 2h0m2 0h0m0 7h0m12-4h0m7 4h0m2-4h0m3 2h0m4 2h0m2-2h0m11 0h0m16-1h0m20 3h0m9-7h0m1 3h0m1-5h0m-24 11h0m-7 1h0m-7-2h0m-9 2h0m-22 0h0m-7 5h0m-5-5h0m-12 4h0m-1-1h0m-2-3h0m0 5h0m-3 2h0m-1 2h0m-7-7h0m0 5h0m-8 2h0m-4-4h0m-8 4h0m25 2h0m32-1h0"/>
<path id="sB3" d="M246 141h0m-13 12h0m10-7h0m0 2h0m10 7h0m5-9h0m2 6h0m21 3h0m15-6h0m22 15h0m-7-4h0m-1 4h0m-4-4h0m-10 7h0m-2 0h0m-5-8h0m-2 6h0m-8 0h0m0 2h0m-10-4h0m-11-6h0m-3 0h0m0 3h0m-10-3h0m-5 5h0m-4-3h0m-2 4h0m-1 2h0m-18 2h0m-10 0h0m-2 0h0m-20 12h0m1-3h0m1 3h0m3-4h0m8-3h0m4 4h0m2-7h0m19 8h0m5 0h0m13 2h0m5-8h0m11 3h0m10-2h0m9 5h0m5-8h0m0 8h0m1-3h0m9-4h0m14 9h0m1-10h0m2 1h0m7 17h0m-7-6h0m0 3h0m-10 7h0m-2-2h0m-1-8h0m-1 8h0m-3-7h0m-10 5h0m-2-4h0m0 4h0m-1-5h0m-1 4h0m-1 2h0m-35-6h0m-3-2h0m-10 9h0m-2-7h0m-7 7h0m-5-7h0m-2-1h0m-6 8h0m-7-1h0m-2 3h0m-2-2h0m-3-5h0m-5 2h0m-1 5h0m-4 2h0m1 10h0m4-2h0m5-9h0m8 1h0m6 10h0m8-2h0m10 2h0m2-7h0m4 2h0m3-2h0m10-4h0m2 7h0m7-5h0m13-1h0m7 1h0m7 0h0m3 0h0m21 2h0m2 3h0m0 4h0m10-5h0m7 7h0m-3 3h0m-6 1h0m-3-1h0m-3-2h0m-6 2h0m-1-4h0m-10 0h0m-1 9h0m-8 0h0m-27-7h0m-19 2h0m-7 2h0m-4-4h0m-1 7h0m-9-7h0m-2-1h0m-7 5h0m-1 3h0m-6-7h0m-10 0h0m0 2h0m-3 0h0m0 3h0m-5 4h0m-2-10h0m-2 1h0m-5 0h0m-3 7h0m-2-2h0m-4 9h0m4 7h0m12-7h0m3-3h0m1 8h0m3-8h0m5 8h0m2 0h0m0 2h0m1-5h0m6 3h0m5-5h0m0 7h0m6-8h0m1 1h0m5 2h0m5-1h0m0 4h0m2-4h0m5-4h0m3 10h0m9 0h0m10-7h0m1 7h0m25-2h0m3-8h0m0 5h0m7-2h0m5-1h0m5 6h0m2-5h0m5 0h0m-16 12h0m-6 7h0m-7-7h0m0 2h0m-7 5h0m-3-7h0m-17 7h0m-9-6h0m-3 6h0m-2 0h0m-2-10h0m-2 3h0m-3 0h0m-3 4h0m-4-1h0m-17-1h0m-2-4h0m-10 2h0m-10 0h0m-4 0h0m0 7h0m-7-9h0m-10-2h0m-55 21h0m33-8h0m8 7h0m4-4h0m0 5h0m3 0h0m0 2h0m2-9h0m4 5h0m10-3h0m20 0h0m4 5h0m10-5h0m0 2h0m2-6h0m1 6h0m2 0h0m2 0h0m3-2h0m2 5h0m3-9h0m2 4h0m0 2h0m3-6h0m18 4h0m13-2h0m2 2h0m10-3h0m4 8h0m3-1h0m12 3h0m2-7h0m0 2h0m1 3h0m-3 5h0m-14 2h0m-3 0h0m-2 3h0m-2-7h0m-3 1h0m-1 5h0m-7 3h0m-7-5h0m0 5h0m0 2h0m-22 0h0m-11-7h0m-3-4h0m0 9h0m-4-8h0m-6 10h0m-1-5h0m-3-2h0m0 7h0m-4-7h0m-3 0h0m-1 2h0m-2-2h0m-9 0h0m-3 5h0m-2-7h0m0 3h0m-10 4h0m-7-9h0m0 9h0m-2-4h0m-5-5h0m-2 9h0m-3-1h0m-7-8h0m-10 2h0m-4 2h0m-5 0h0m-1 2h0m-4-1h0m-5 6h0m-2-9h0m-9 6h0m-1-2h0m-3 3h0m-18 9h0m5-1h0m2 4h0m4 0h0m18-9h0m1 7h0m10 2h0m5-2h0m5 0h0m9-3h0m10 5h0m5-2h0m9-6h0m7 8h0m11 0h0m4 0h0m5-2h0m10-1h0m2 0h0m24 3h0m3-9h0m2 4h0m10 2h0m1 5h0m5-9h0m8 2h0m10 10h0m0 2h0m-13-2h0m-29 4h0m-1 5h0m-8-7h0m0 5h0m-2-5h0m-6 5h0m-4 0h0m-3-2h0m-10-6h0m-4 8h0m-3-3h0m-6-4h0m-5-2h0m0 4h0m-3 7h0m-3-7h0m-9 5h0m-2 2h0m-5-4h0m-5-3h0m-2 0h0m-3 2h0m-2 1h0m-2 2h0m-1-5h0m-4-2h0m-7-1h0m-3 0h0m-9 2h0m-5-3h0m-10 7h0m-4 4h0m-1-9h0m-7 2h0m-2-3h0m0 5h0m12 7h0m2 0h0m5 0h0m2-1h0m10 9h0m3-9h0m4 6h0m12 3h0m10-7h0m5 9h0m4-11h0m3 9h0m7 0h0m9 0h0m1-7h0m6 9h0m3-10h0m0 10h0m5-2h0m3-1h0m2-7h0m0 5h0m24-2h0m2-3h0m8 1h0m6-1h0m10 3h0m1-2h0m2 2h0m6-4h0m1 4h0m0 8h0m-15 5h0m-5-4h0m-16 5h0m-15 3h0m-2-5h0m0 3h0m-5 0h0m-24-3h0m-6 2h0m-3-2h0m0 3h0m-5 0h0m-5-3h0m-2-2h0m-3 2h0m-16-4h0m86 13h0"/>
<path id="sB4" d="M237 153h0m1-5h0m2-2h0m6 2h0m12 5h0m21-3h0m36 15h0m-7-5h0m-4-2h0m-6-2h0m-2 4h0m-7 2h0m-9 0h0m-8-6h0m-19 6h0m-3-2h0m-2 2h0m-4-4h0m-6 9h0m-5-7h0m-7 1h0m-4 4h0m-41 11h0m4-2h0m1 3h0m2-4h0m2 6h0m27-5h0m24-2h0m0 4h0m17 3h0m2-2h0m10-1h0m3-2h0m1-4h0m24 7h0m2-8h0m13 3h0m2 14h0m-14 0h0m0 3h0m-2 0h0m-10-5h0m-3 0h0m-6 4h0m-3 3h0m-7-10h0m-3 8h0m-7-1h0m-2 1h0m-10-5h0m0 3h0m-19 2h0m-8 2h0m-7-7h0m-2 0h0m-19 7h0m-1-9h0m-2 4h0m-7 0h0m-4 0h0m-3 3h0m7 5h0m3 9h0m2-11h0m0 9h0m5-5h0m5 0h0m0 2h0m2-4h0m7 9h0m6-11h0m6 9h0m12-7h0m1 4h0m0 3h0m11-5h0m17-2h0m3 7h0m2-1h0m9-3h0m7-1h0m8-3h0m0 3h0m6-2h0m6 5h0m5-3h0m0 7h0m7-7h0m-3 14h0m-4 0h0m-10-6h0m-5 4h0m-11-2h0m-13 4h0m-4 2h0m-1-6h0m-9 2h0m-10-3h0m-5 10h0m-1 0h0m-1-9h0m-15 2h0m-4 0h0m-3 5h0m-6-5h0m-6-4h0m-2 7h0m-2 0h0m-15-6h0m-4 7h0m-27 8h0m3 2h0m11-5h0m5 5h0m1-2h0m1 0h0m3-4h0m0 2h0m14 2h0m5 2h0m3 0h0m2 3h0m5-8h0m4 1h0m4-2h0m2 9h0m1-4h0m1-4h0m0 8h0m4-2h0m4 4h0m6 0h0m13-9h0m15 1h0m6 8h0m5 0h0m2-2h0m1-8h0m1 3h0m3 5h0m5-4h0m4-1h0m22 0h0m-14 12h0m-5 2h0m-1-4h0m-2 7h0m-12-9h0m-6 9h0m-1 2h0m-3-5h0m-4 0h0m-7-2h0m-7-3h0m-2 0h0m-3 0h0m0 3h0m-2 5h0m-17-9h0m-1 7h0m-9-7h0m0 4h0m-24-2h0m-17 7h0m-14-5h0m-10 5h0m-5-4h0m-40 13h0m3 5h0m21 0h0m14-10h0m7 0h0m13 0h0m4 1h0m0 5h0m8-3h0m7 0h0m7 5h0m2 2h0m2 0h0m7-7h0m3-3h0m3 10h0m2-9h0m5 4h0m0 5h0m7-10h0m2 6h0m10 2h0m4 0h0m3-9h0m4 9h0m17-5h0m3-2h0m5 7h0m22-7h0m-3 12h0m-15-1h0m-4 10h0m-14-7h0m-10 0h0m-5-4h0m0 7h0m-3 2h0m-5-2h0m-2 0h0m0 1h0m-14-1h0m-2 1h0m-6-8h0m-3 9h0m-3-1h0m-8-7h0m0 3h0m-2-2h0m-10 0h0m0 2h0m-19 2h0m-7-2h0m-5-2h0m-10 6h0m-1 3h0m-15-4h0m-5-1h0m-1-4h0m-3 0h0m-8 0h0m-2 9h0m-1-2h0m-7-1h0m-24 15h0m3 0h0m5-6h0m5 0h0m2 2h0m0 4h0m17-2h0m9-2h0m5 4h0m3-9h0m1 3h0m5-3h0m29 6h0m1-2h0m4 1h0m5-6h0m0 2h0m2 2h0m0 1h0m15 5h0m5-7h0m7 5h0m12-3h0m3 3h0m7 0h0m16 2h0m12-2h0m10-9h0m0 2h0m0 9h0m3 7h0m-5-5h0m-3 0h0m-2 5h0m-5-4h0m-2 9h0m-1-4h0m-2-3h0m-5 7h0m-5 0h0m-6 0h0m-1-9h0m-3 7h0m-2-9h0m-11 8h0m-12 3h0m-3-2h0m-5 2h0m-4-2h0m-18 0h0m-7-9h0m-9 1h0m0 8h0m-5-5h0m-2 0h0m-5-4h0m-9 9h0m-4-5h0m-11 1h0m-15 2h0m-7 4h0m-2-10h0m-3 12h0m22 6h0m2-3h0m12 5h0m3-7h0m2 9h0m8 0h0m4-5h0m7-2h0m5 2h0m1-5h0m2 1h0m2 9h0m5-4h0m11-5h0m5 6h0m13 3h0m2-4h0m10-7h0m7 9h0m5 0h0m5 2h0m4-7h0m0 3h0m5 4h0m3-9h0m2 2h0m0 5h0m2-3h0m3-5h0m4 3h0m1 2h0m2-5h0m3 5h0m1 3h0m4-8h0m1 3h0m3-4h0m-32 21h0m-1 0h0m-6-7h0m-1-1h0m-8 3h0m-16-4h0m-1 2h0m0 6h0m-2-6h0m-21 2h0m-3 0h0m0 2h0m-14 0h0m-10 0h0m0 3h0m-10-2h0m-2 1h0m-10-8h0m17 13h0"/>
<path id="sB5" d="M248 148h0m0 3h0m2-7h0m5 0h0m10 4h0m2 0h0m31 0h0m7 5h0m-2 8h0m-14-3h0m-24 9h0m-15-5h0m-12-6h0m0 7h0m-2-5h0m0 5h0m-7 0h0m0 2h0m-7 2h0m-22 0h0m-10 7h0m6-5h0m4 0h0m14 5h0m0 5h0m5-4h0m5 4h0m3-7h0m4-2h0m7 7h0m5-7h0m1 7h0m4-9h0m0 4h0m0 7h0m9-9h0m6 5h0m12 4h0m7-5h0m5 3h0m4 0h0m15 2h0m2 7h0m-5 3h0m-5-2h0m-16 4h0m-10-10h0m-2 8h0m-5-8h0m-9 3h0m-4 0h0m-1 3h0m-36-5h0m-1 7h0m-7 0h0m-2-5h0m-1 2h0m-6-6h0m0 11h0m-22-7h0m-3 19h0m6-10h0m7 1h0m4 2h0m13-2h0m2 7h0m11-9h0m8 7h0m2-7h0m10 1h0m9 3h0m1-2h0m2 6h0m0 3h0m12-11h0m2 4h0m10-2h0m3 4h0m4-2h0m5 5h0m2-7h0m8-2h0m0 6h0m5-5h0m2 10h0m5-5h0m5 5h0m9-2h0m-24 5h0m0 4h0m-1 5h0m-3-11h0m-1 9h0m-2-1h0m-2-4h0m-8 0h0m-5 4h0m-2 3h0m-4 0h0m-20-9h0m-12 5h0m-4 0h0m-17 0h0m-3 2h0m-7-8h0m-1 6h0m-7-7h0m-2 9h0m-3-3h0m-13-2h0m-3 5h0m-29 12h0m3-3h0m9-6h0m3 9h0m2-2h0m3 0h0m7-5h0m6 0h0m3 5h0m0 4h0m12-2h0m3-7h0m2-2h0m2 9h0m1-2h0m4-5h0m3 7h0m2 0h0m3 2h0m4-9h0m5 2h0m5 4h0m7-7h0m3 0h0m19 3h0m3 2h0m4-6h0m14 0h0m12 0h0m0 9h0m1 2h0m4-9h0m1 7h0m9-5h0m-15 14h0m-9 0h0m0 3h0m0 2h0m-10 0h0m-2-7h0m-5-2h0m-3 4h0m-2-6h0m-2 0h0m-3 9h0m-7 2h0m-3-4h0m-26 0h0m-5-3h0m-5 5h0m-9-8h0m-5 10h0m-7-11h0m-26 4h0m-1 5h0m-2-7h0m-2 7h0m-9-5h0m-42 14h0m3 3h0m2-1h0m17 1h0m3 2h0m2-2h0m11 0h0m3-3h0m5-2h0m3 0h0m6 3h0m1-2h0m2 6h0m5-5h0m3 5h0m9-4h0m9-5h0m8 4h0m5-4h0m6 7h0m6-5h0m5 5h0m12 0h0m2-5h0m9 2h0m15-4h0m2 6h0m19 3h0m3-10h0m0 7h0m2 3h0m5-5h0m-2 7h0m-20 1h0m-4 9h0m-3-9h0m-12 2h0m-7-3h0m-2 3h0m-1-3h0m-7-1h0m0 11h0m-4-7h0m-13-2h0m0 7h0m-2-7h0m0 2h0m-2 7h0m-5-2h0m-17-2h0m-2-5h0m-5 5h0m-8 4h0m-4 0h0m-5-9h0m-5 2h0m-7-2h0m-2-1h0m-3-1h0m-7 4h0m-2 2h0m-14-2h0m-10-4h0m-12 0h0m-5 8h0m-3 3h0m-5 0h0m-8 8h0m13-4h0m11 4h0m1-3h0m0 3h0m3-7h0m0 4h0m2 7h0m10-9h0m3 2h0m2-1h0m2-1h0m5 7h0m3-3h0m1 0h0m4-4h0m7-2h0m19 9h0m6-7h0m0 2h0m6 3h0m1 1h0m6-2h0m0 3h0m17 2h0m4-4h0m3-1h0m9 3h0m0 2h0m1-10h0m6 3h0m2 4h0m3-6h0m10-1h0m4 0h0m3 3h0m0 2h0m3 5h0m4-4h0m0 2h0m5-8h0m3 5h0m-3 9h0m-5 6h0m-2-1h0m-1-4h0m-13 1h0m-3 4h0m-2-7h0m0 9h0m-1-4h0m-1-1h0m-1-2h0m-3 4h0m-4-6h0m-7 4h0m-5-5h0m0 6h0m-2-7h0m-3 4h0m-5 2h0m-6 3h0m-8-5h0m-3 5h0m-6-7h0m-3 0h0m-2 0h0m-1 9h0m-2-9h0m-16 5h0m-13-5h0m-2 0h0m-12-1h0m0 8h0m-9-3h0m-1-4h0m-2 6h0m-2-1h0m0 2h0m-5-2h0m-2-6h0m-1-1h0m-4 6h0m-3-2h0m-2 5h0m-14-5h0m-7 5h0m-6-8h0m23 15h0m1-2h0m0 2h0m6 2h0m1 1h0m1-5h0m10 6h0m1-8h0m3 0h0m5 7h0m2-5h0m1 5h0m2 0h0m2-3h0m5 7h0m4-2h0m8 2h0m2-7h0m5 0h0m3-3h0m4 5h0m1 5h0m4-3h0m2 1h0m5-2h0m3-6h0m4 1h0m5 0h0m0 9h0m1-7h0m6-3h0m0 5h0m10 1h0m2 0h0m8-6h0m5 3h0m4 7h0m3-7h0m2-2h0m12 5h0m7-3h0m-14 13h0m-5-3h0m-20 9h0m-7-7h0m-2-2h0m-2-2h0m-8 6h0m-12-2h0m-2 0h0m-21-2h0m-2 2h0m-12 2h0m-5-2h0m-3 5h0m-4-2h0m23 5h0"/>
<path id="sB6" d="M308 129h0m-55 11h0m-1 3h0m-6 0h0m-8 7h0m3 3h0m4-7h0m10-1h0m5 3h0m12 2h0m3 1h0m1 2h0m37 7h0m-12 2h0m-7-5h0m-5-1h0m-3 0h0m-10 0h0m-8 6h0m-11-2h0m-7-3h0m-5 10h0m-9-2h0m-4 0h0m-3-9h0m-3 6h0m-36 15h0m8-7h0m7 4h0m3 3h0m4-7h0m10 0h0m2-2h0m5 9h0m4-5h0m5 3h0m3-6h0m0 6h0m14-3h0m8 0h0m4 7h0m3-5h0m7-4h0m4 7h0m1-7h0m15-1h0m12 1h0m2 17h0m-3 2h0m-5-8h0m-2 4h0m-10 6h0m-33 0h0m-8 0h0m-5-4h0m-7-3h0m-2 2h0m-19-6h0m-22 6h0m-2 1h0m-15 2h0m-4 0h0m-1 10h0m8-7h0m2 11h0m5-9h0m2-1h0m12 8h0m1-5h0m0 2h0m11-6h0m0 4h0m1 5h0m1-5h0m18 7h0m26-7h0m3 7h0m9-7h0m3-2h0m5 4h0m5-2h0m2 0h0m2 2h0m3 0h0m17 2h0m7-4h0m2 0h0m-10 8h0m-5 4h0m-6-1h0m-12 4h0m-3 4h0m-2-4h0m-3 4h0m-3-7h0m-9 5h0m-14-7h0m-1 3h0m-2-1h0m0 5h0m-2 0h0m-5 2h0m-5-7h0m-2-3h0m-3 7h0m-4 1h0m-5-2h0m-2-3h0m-1 7h0m-2-2h0m-1-7h0m-2 9h0m-6 0h0m-8-9h0m-2 9h0m-1-2h0m-16-7h0m-5 2h0m-7 1h0m-3 6h0m-2-3h0m5 10h0m4 0h0m15-2h0m15-2h0m16 4h0m15 3h0m7-7h0m2 9h0m8-5h0m7 0h0m7-2h0m2 3h0m3 2h0m2-3h0m8-2h0m4-2h0m5 5h0m0 4h0m3-7h0m0 3h0m4-1h0m-7 15h0m-20-7h0m-9 9h0m-7-10h0m-12 5h0m-2 1h0m-11-1h0m-1 0h0m-1-5h0m-2 5h0m-11 0h0m-6 1h0m-5-3h0m-2 0h0m-9-2h0m-1 2h0m-13 0h0m-1 5h0m-7-5h0m-7-2h0m-9 9h0m-1-10h0m-24 18h0m8-2h0m0 4h0m6-7h0m5-2h0m5 6h0m7 3h0m2-8h0m5 8h0m1-2h0m2 1h0m35-4h0m4 0h0m4 0h0m15 5h0m4-5h0m8 7h0m1 0h0m16-5h0m9-3h0m12 6h0m2 5h0m-14-2h0m-10 4h0m0 5h0m-5-7h0m-4 4h0m-3 0h0m-9-2h0m-12 0h0m-1 2h0m-2-1h0m-3-3h0m-4 9h0m-7-7h0m-4-2h0m-3-1h0m0 5h0m-14-5h0m-1 8h0m-5 0h0m-4-7h0m-2-1h0m-6 3h0m-21-2h0m-1 5h0m-2-5h0m0 2h0m-45-4h0m0 4h0m-1 3h0m-25 14h0m6-7h0m26 7h0m8-5h0m17 7h0m3-11h0m2 6h0m12 5h0m4-11h0m1 11h0m2-4h0m0 2h0m5 2h0m2 0h0m9-7h0m0 7h0m8 0h0m17-7h0m9 2h0m1-2h0m6-1h0m8-1h0m10-1h0m12 6h0m7-7h0m5 4h0m12 10h0m-5 0h0m-1 3h0m-4 1h0m-1-4h0m-8 4h0m-1-2h0m-6-2h0m-1 4h0m-5 2h0m-7 3h0m-7 0h0m-9-5h0m-3 0h0m-2-4h0m-3 2h0m0 5h0m-5-3h0m-2-1h0m0 6h0m-2-9h0m-5 4h0m-15-2h0m-7 5h0m-3-7h0m-7 7h0m-7-5h0m-2 0h0m-7 4h0m-12-8h0m0 2h0m-13 2h0m-11 5h0m-5-8h0m-7 0h0m0 10h0m-10-9h0m-10 2h0m17 12h0m2 2h0m8 1h0m5-3h0m0 4h0m5 1h0m2 0h0m7 0h0m15-9h0m2 9h0m11-5h0m20 2h0m3 0h0m0 5h0m2-2h0m4-5h0m3 0h0m2-4h0m1 7h0m6-5h0m7 5h0m3 2h0m15-2h0m2-3h0m0 3h0m0 1h0m5-7h0m0 7h0m4-2h0m1 3h0m2-2h0m2 4h0m3-5h0m9-4h0m3 6h0m12-6h0m-16 10h0m-3 2h0m-15 4h0m-2-4h0m-3 9h0m-5 0h0m-2-11h0m-7 7h0m-2 2h0m-5-3h0m-1-2h0m-11 0h0m-1 2h0m-2 3h0m-18-8h0m0 6h0m-6-3h0m0 5h0m-2-5h0m-12 2h0m0 3h0m-3-5h0m-14-3h0m0 3h0"/>
<path id="sB7" d="M311 128h0m-51 15h0m-17 0h0m-11 10h0m1 2h0m10-4h0m10-3h0m2 0h0m3 0h0m2-3h0m2 0h0m12 10h0m1-2h0m2-3h0m17 5h0m2 0h0m5-7h0m0 7h0m2-2h0m20 12h0m-32-7h0m0 2h0m-5 0h0m-9 2h0m-8-5h0m-1-1h0m-20 5h0m-3-1h0m-21 5h0m-24 9h0m5-2h0m17 0h0m0 3h0m0 4h0m2-2h0m5-5h0m10 0h0m6 5h0m10-9h0m4 4h0m1-2h0m19 2h0m8 3h0m2 2h0m0 2h0m10-10h0m0 3h0m2-4h0m2 5h0m12-1h0m3-3h0m-9 11h0m-6 4h0m-7 1h0m-12 1h0m-2 3h0m-7-5h0m-3-4h0m0 9h0m-3-9h0m-4 9h0m-10 0h0m-2 0h0m-7-9h0m-7 7h0m-3 2h0m-9-3h0m-10-4h0m-21 6h0m-7-1h0m-6-5h0m-7 0h0m-3 9h0m-1 12h0m11-2h0m2-5h0m0 2h0m3 1h0m5-5h0m2 0h0m0 9h0m14-2h0m5-7h0m10 9h0m10-7h0m0 3h0m14-6h0m7 4h0m3-3h0m19 2h0m5 3h0m17 0h0m14 4h0m2-2h0m-12 5h0m-9-1h0m-6 1h0m-6 5h0m-5 1h0m-9 1h0m-3-9h0m-2 7h0m-5-3h0m-2 0h0m-5 3h0m-3 4h0m-3-7h0m-16 7h0m-1-2h0m-16-3h0m-2-2h0m-6 5h0m-15 0h0m-11-3h0m-9 0h0m0 3h0m-7 2h0m-3 8h0m3-5h0m2-2h0m5 8h0m2-6h0m5 7h0m3-5h0m2 7h0m4-5h0m8 3h0m11 0h0m20-8h0m10 5h0m4 0h0m2 0h0m23 0h0m6-2h0m3 1h0m8-3h0m9 7h0m3-8h0m4 13h0m0 2h0m-7 0h0m0 7h0m-10-2h0m-15-1h0m-4 1h0m-2-5h0m0 7h0m-2-7h0m-5 2h0m-15-5h0m-3 5h0m-1 3h0m-1-8h0m-23 3h0m-6-2h0m-12 7h0m-1-2h0m-8-1h0m-1 5h0m-4-4h0m-14 4h0m-3-3h0m-15 10h0m10-5h0m5 10h0m2 0h0m8 0h0m3-5h0m2 5h0m5-9h0m0 5h0m2-3h0m7 0h0m7 3h0m19 0h0m1 1h0m4-6h0m10 9h0m9-4h0m1-5h0m2-1h0m0 5h0m2-5h0m3 0h0m0 6h0m4-3h0m5-2h0m5 1h0m3 1h0m7 0h0m9-2h0m2 2h0m3-2h0m2 4h0m1 5h0m-31 2h0m-3 6h0m-5-1h0m-4-4h0m-8 0h0m-4 7h0m-12-2h0m-12-6h0m0 10h0m-8-4h0m-10 2h0m-7-2h0m-2-5h0m-1-2h0m-2 11h0m-2-5h0m0 3h0m0 2h0m-3-2h0m-9 2h0m-7-6h0m-10-1h0m-5-4h0m-5 1h0m-6 8h0m-5-8h0m-17 0h0m-9 3h0m-1 5h0m-4-3h0m-1-4h0m-1 3h0m-12 9h0m6-2h0m0 9h0m19 0h0m27-4h0m5 4h0m5-7h0m5 4h0m2 3h0m14 0h0m2-8h0m6 10h0m2-5h0m0 2h0m4-6h0m3 2h0m2 0h0m19 5h0m15-2h0m5 0h0m16 4h0m6-4h0m1 2h0m3 3h0m0 8h0m-41 3h0m-7-9h0m-5 2h0m-6-3h0m0 10h0m-6-2h0m-9-4h0m-3 1h0m-6-6h0m-6 6h0m-5-2h0m-12 0h0m-2 7h0m-5-2h0m-5-5h0m-4 7h0m-10-5h0m-7 3h0m-3 0h0m-6 2h0m-1-2h0m-3-2h0m-6 0h0m0 2h0m-8-3h0m-2-2h0m0 7h0m-2-5h0m-1-6h0m22 14h0m5-1h0m5 3h0m0 3h0m17-6h0m2 1h0m5 2h0m5 2h0m2 5h0m3 0h0m4-2h0m8-4h0m2-3h0m2 6h0m5 3h0m8-7h0m21-3h0m0 3h0m4-3h0m3 3h0m1-2h0m4 9h0m2-6h0m2 0h0m1 6h0m2-9h0m12 3h0m2-1h0m11 0h0m1 5h0m0 5h0m-19 2h0m-4 0h0m-10 4h0m-2-2h0m-7-6h0m0 4h0m-3 5h0m-1-7h0m-1 4h0m-5 5h0m-2-9h0m-1 2h0m0 7h0m-2-3h0m-10-7h0m-2 2h0m-1 3h0m-11-4h0m-5 0h0m-2 7h0m-6 2h0m-2 0h0m-9 0h0m-1-2h0m-1 0h0m-1-8h0m9 11h0"/>
<path id="sBx" d="M308 129h0m2 38h0m-9-9h0m-70 12h0m-7 33h0m56-9h0m-85 24h0m85 2h0m9 3h0m-116 11h0m-4 0h0m-16 5h0m6 12h0m43-7h0m44-3h0m-99 13h0m-4 31h0m-8 0h0m17 12h0m12 2h0m26-2h0m2 5h0m-18 5h0m-1-3h0m-38 0h0"/>
<path id="sP" d="M120 34h0m2-5h0m0 5h0m2-5h0m1 2h0m0 2h0m2-4h0m0 3h0m1 2h0m1 0h0m1-2h0m2-1h0m0 3h0m2 4h0m-2 0h0m0 3h0m0 2h0m-1-6h0m-1 6h0m-1-7h0m0 5h0m0 5h0m-2-10h0m0 3h0m0 2h0m-2-4h0m0 2h0m-1 1h0m-2-4h0m0 3h0m0 2h0m0 2h0m-2-7h0m-1 2h0m-2-2h0m0 3h0"/>
<path id="sT" d="M308 131h0m2 0h0m5 0h0m1-2h0m7 7h0m-1-2h0m0 4h0m-2-2h0m0 2h0m0 3h0m-2-8h0m0 4h0m0 4h0m-2-3h0m0 3h0m-1-8h0m0 3h0m0 7h0m-2-11h0m0 2h0m0 2h0m0 2h0m0 5h0m-2-10h0m0 5h0m-1 3h0m0 2h0m-2-2h0m0 2h0m-2-2h0m0 2h0m-1-4h0m-2 2h0m0 2h0m-2-7h0m0 2h0m-1-5h0m0 8h0m-1-3h0m0 3h0m0 2h0m-1 2h0m3 0h0m2 1h0m2 4h0m1-5h0m0 3h0m1-3h0m1 3h0m2-3h0m0 3h0m3-2h0m0 2h0m0 2h0m0 5h0m2-5h0m0 2h0m2-8h0m1 11h0m2 0h0m2-6h0m0 4h0m1 2h0m1 0h0m3-2h0m0 2h0m2-2h0m0 2h0m-4 5h0m0 2h0m-2-4h0m-1 1h0m0 3h0m-2-4h0m0 3h0m0 2h0m-2-3h0m0 3h0m-1-6h0m-1 3h0m-1-4h0m0 1h0m-2 1h0"/>
<path id="sTl" d="M105 11h0m2 0h0m24 0h0m1-3h0m1-4h0m1 0h0m1-3h0m0 20h0m-1-4h0m0 1h0m-2-4h0m-1 0h0m-16 4h0m-3-2h0m0 1h0m-2-2h0m-1-2h0"/>
<path id="sTb" d="M93 227h0m3 0h0m20 8h0m0 2h0m0 2h0m-1-7h0m-24-4h0m-2 1h0m0 2h0m-1 5h0m-1-3h0m-1-1h0m-1 3h0m0 4h0m-7 0h0m-2-1h0m2 4h0m2 1h0m1 3h0m2 0h0m2-5h0m0 2h0m0 2h0"/>
<g id="sAll"><use href="#sL0"/><use href="#sL1"/><use href="#sL2"/><use href="#sL3"/><use href="#sL4"/><use href="#sL5"/><use href="#sL6"/><use href="#sL7"/><use href="#sM0"/><use href="#sM1"/><use href="#sM2"/><use href="#sM3"/><use href="#sM4"/><use href="#sM5"/><use href="#sM6"/><use href="#sM7"/><use href="#sB0"/><use href="#sB1"/><use href="#sB2"/><use href="#sB3"/><use href="#sB4"/><use href="#sB5"/><use href="#sB6"/><use href="#sB7"/><use href="#sP"/><use href="#sT"/><use href="#sTl"/><use href="#sTb"/></g>
<clipPath id="cUR"><polygon points="185.92,-31.3 365.2,-31.3 365.2,131.46 265.6,131.46 205.84,93.9"/></clipPath>
<clipPath id="cURR"><polygon points="239.04,-31.3 365.2,-31.3 365.2,103.29 258.96,93.9"/></clipPath>
<clipPath id="cLL"><polygon points="-33.2,93.9 139.44,78.25 205.84,131.46 172.64,250.4 -33.2,250.4"/></clipPath>
<clipPath id="cBE"><polygon points="0,162.76 99.6,156.5 166,194.06 149.4,234.75 0,234.75"/></clipPath>
<clipPath id="cBR"><polygon points="149.4,125.2 365.2,125.2 365.2,266.05 205.84,250.4"/></clipPath><linearGradient id="gExpr" x1="0" y1="0" x2="0" y2="1"><stop offset="0" stop-color="#E0603C"/><stop offset="0.03" stop-color="#D7191C"/><stop offset="0.3" stop-color="#D9503E"/><stop offset="0.6" stop-color="#D28072"/><stop offset="0.9" stop-color="#C4B3B0"/><stop offset="1" stop-color="#BEBEBE"/></linearGradient>
</defs>
<text x="0.3" y="30" font-size="39" font-weight="bold">a</text>
<path d="M64.4 21.5 L70 18.5 L81.5 17.4 L94.8 19 L102.3 29.4 L103.3 35 L100.4 47.4 L96.6 63.5 L87.6 61.5 L87.2 69.2 L115.6 83.4 L119.4 94.8 L123.2 128.9 L124.1 155.4 L113.3 155.4 L109 132.7 L105.2 116.5 L101.4 155.4 L53.1 155.4 L45.5 114.7 L38.8 155.4 L25.6 155.4 L28.4 128.9 L31.3 94.8 L34.1 79.6 L43.6 73 L62.5 66.3 L66.3 60.6 L66.7 55 L63.5 41.7 L63.5 24.6 Z" fill="#F3C8AC" stroke="#F3C8AC" stroke-width="1.5" stroke-linejoin="round"/>
<path d="M72 91L80 122" stroke="#F6EDC3" stroke-width="3" stroke-linecap="round"/>
<ellipse cx="71.7" cy="90" rx="4.4" ry="3.4" fill="#F6EDC3"/><ellipse cx="80.3" cy="122.5" rx="4.4" ry="3.6" fill="#F6EDC3"/>
<path d="M73 93L79 117" stroke="#C8402E" stroke-width="1" stroke-dasharray="3 2"/>
<path d="M79.5 101.5C88 98 98 97 104 99.5C112 103 115 120 118.4 146" fill="none" stroke="#C43B2B" stroke-width="1.7" stroke-dasharray="5 2.2"/>
<path d="M122 131.5C134 141 150 141 163.5 133" fill="none" stroke="#7D7D7D" stroke-width="3.6" stroke-linecap="round"/>
<polygon points="120.6,129.8 127.5,131.5 123.5,136.5" fill="#7D7D7D"/>
<rect x="162.8" y="108" width="18.4" height="56" rx="2.5" fill="#6F6F6F"/>
<rect x="165.3" y="111.5" width="13.6" height="8.2" fill="#3D6FC0"/>
<rect x="167" y="121.6" width="10.2" height="9" fill="#FFFFFF"/>
<rect x="167" y="129" width="10.2" height="33" rx="1.5" fill="#B21D23"/>
<line x1="225.2" y1="122.2" x2="249.2" y2="122.2" stroke="#231815" stroke-width="3.4"/>
<polygon points="246.2,111.9 282.4,122.2 246.2,132.2" fill="#231815"/>
<line x1="227" y1="347.3" x2="251" y2="347.3" stroke="#231815" stroke-width="3.4"/>
<polygon points="248,337 284.2,347.3 248,357.3" fill="#231815"/>
<rect x="390" y="63" width="31" height="37" fill="#B3B1B1"/>
<rect x="399" y="63" width="13.5" height="37" fill="#8F8D8D"/>
<rect x="348" y="89.3" width="33.6" height="11" rx="1.5" fill="#7F7F7F" stroke="#2F5597" stroke-width="1.6"/>
<line x1="381" y1="94.8" x2="433" y2="94.8" stroke="#F8CBAD" stroke-width="3.2"/>
<line x1="379" y1="94.8" x2="427.5" y2="94.8" stroke="#2F5597" stroke-width="1.6"/>
<polygon points="380,92.3 392,93.8 392,95.8 380,97.3" fill="#2F5597"/>
<path d="M398.8 116.5H411.2V146C411.2 155 408 165.5 405 165.5C402 165.5 398.8 155 398.8 146Z" fill="#fff" stroke="#767171" stroke-width="1.8"/>
<circle cx="404.5" cy="72" r="4.3" fill="#2F5597"/>
<circle cx="404.5" cy="72" r="1.6" fill="#C8202A"/>
<circle cx="407.9" cy="78.2" r="4.3" fill="#2F5597"/>
<circle cx="401.3" cy="84.3" r="4.3" fill="#2F5597"/>
<circle cx="405.5" cy="94.4" r="4.3" fill="#2F5597"/>
<circle cx="405.5" cy="94.4" r="1.6" fill="#C8202A"/>
<circle cx="404.5" cy="108.1" r="4.3" fill="#2F5597"/>
<circle cx="404.5" cy="108.1" r="1.6" fill="#C8202A"/>
<circle cx="388.7" cy="108.1" r="4.3" fill="#2F5597"/>
<circle cx="379.2" cy="116.6" r="4.3" fill="#2F5597"/>
<circle cx="376" cy="128.2" r="4.3" fill="#2F5597"/>
<circle cx="402.3" cy="135.2" r="4.3" fill="#2F5597"/>
<circle cx="402.3" cy="135.2" r="1.6" fill="#C8202A"/>
<circle cx="406.5" cy="142.7" r="4.3" fill="#2F5597"/>
<circle cx="406.5" cy="142.7" r="1.6" fill="#C8202A"/>
<circle cx="402.9" cy="150.8" r="4.3" fill="#2F5597"/>
<circle cx="402.9" cy="150.8" r="1.6" fill="#C8202A"/>
<text x="468" y="113.6" font-size="26.8" font-weight="bold" textLength="135" lengthAdjust="spacingAndGlyphs">PB-HSPCs</text>
<text x="448.6" y="157" font-size="20.3">CD34<tspan dy="-8.5" font-size="19">+</tspan><tspan dy="8.5">CD38</tspan><tspan dy="-9" font-size="17">-</tspan><tspan dy="9">Lin</tspan><tspan dy="-9" font-size="17">-</tspan></text>
<line x1="49.6" y1="242.3" x2="414" y2="242.3" stroke="#000" stroke-width="2.1"/>
<line x1="49.6" y1="231.6" x2="49.6" y2="253.7" stroke="#000" stroke-width="3"/>
<line x1="103.7" y1="231.6" x2="103.7" y2="253.7" stroke="#000" stroke-width="3"/>
<line x1="165.8" y1="231.6" x2="165.8" y2="253.7" stroke="#000" stroke-width="3"/>
<line x1="229.6" y1="231.6" x2="229.6" y2="253.7" stroke="#000" stroke-width="3"/>
<line x1="288.7" y1="231.6" x2="288.7" y2="253.7" stroke="#000" stroke-width="3"/>
<line x1="405" y1="231.6" x2="405" y2="253.7" stroke="#000" stroke-width="3"/>
<line x1="350.1" y1="242.3" x2="350.1" y2="253.7" stroke="#000" stroke-width="3"/>
<polygon points="426.7,242.3 411.3,234.4 415.5,242.3 411.3,250.9" fill="#000"/>
<text x="112.2" y="231.4" font-size="17.3" textLength="47.6" lengthAdjust="spacingAndGlyphs">HDM1</text>
<text x="175.6" y="231.4" font-size="17.3" textLength="47.6" lengthAdjust="spacingAndGlyphs">HDM2</text>
<text x="237.5" y="231.4" font-size="17.3" textLength="47.6" lengthAdjust="spacingAndGlyphs">HDM3</text>
<text x="325.8" y="231.4" font-size="17.3" textLength="47.6" lengthAdjust="spacingAndGlyphs">HDM4</text>
<text x="38" y="282" font-size="19.2">D-1</text>
<text x="94.8" y="282" font-size="19.2">D0</text>
<text x="155.4" y="282" font-size="19.2">D1</text>
<text x="219" y="282" font-size="19.2">D2</text>
<text x="276.4" y="282" font-size="19.2">D4</text>
<text x="339.2" y="282" font-size="19.2">D6</text>
<text x="393.5" y="282" font-size="19.2">D8</text>
<text x="459.6" y="288.6" font-size="26.8" font-weight="bold" textLength="152" lengthAdjust="spacingAndGlyphs">hESC-HPCs</text>
<text x="460" y="330.6" font-size="20" textLength="150" lengthAdjust="spacingAndGlyphs">Suspension cells</text>
<text x="31.2" y="332.6" font-size="19.8">hESC</text>
<ellipse cx="51" cy="360" rx="46.5" ry="10.8" fill="#E9BCBF" stroke="#8C8686" stroke-width="0.9"/><ellipse cx="51" cy="353.4" rx="46" ry="10" fill="#fff" stroke="#8C8686" stroke-width="1"/><ellipse cx="51" cy="358.8" rx="43" ry="8.2" fill="#EBB9BD"/><path d="M13 356.8Q27 353.2 41 356.8Q27 360.4 13 356.8Z" fill="#4F86C6" transform="rotate(-6 27 356.8)"/><circle cx="28" cy="356.8" r="1.25" fill="#15151a"/><path d="M32 361.7Q46 358.1 60 361.7Q46 365.3 32 361.7Z" fill="#4F86C6" transform="rotate(-4 46 361.7)"/><circle cx="47" cy="361.7" r="1.25" fill="#15151a"/><path d="M43 357.9Q57 354.3 71 357.9Q57 361.5 43 357.9Z" fill="#4F86C6" transform="rotate(5 57 357.9)"/><circle cx="58" cy="357.9" r="1.25" fill="#15151a"/><path d="M60 363.2Q75 359.6 90 363.2Q75 366.8 60 363.2Z" fill="#4F86C6" transform="rotate(0 75 363.2)"/><circle cx="76" cy="363.2" r="1.25" fill="#15151a"/><path d="M64 356.2Q75 352.6 86 356.2Q75 359.8 64 356.2Z" fill="#4F86C6" transform="rotate(-3 75 356.2)"/><circle cx="76" cy="356.2" r="1.25" fill="#15151a"/><path d="M22 362.9Q33 359.3 44 362.9Q33 366.5 22 362.9Z" fill="#4F86C6" transform="rotate(4 33 362.9)"/><circle cx="34" cy="362.9" r="1.25" fill="#15151a"/><path d="M43 354.6Q53 351 63 354.6Q53 358.2 43 354.6Z" fill="#4F86C6" transform="rotate(0 53 354.6)"/><circle cx="54" cy="354.6" r="1.25" fill="#15151a"/><path d="M5 353.4A46 10 0 0 0 97 353.4" fill="none" stroke="#8C8686" stroke-width="1"/>
<ellipse cx="400.3" cy="365.2" rx="46.8" ry="10.8" fill="#E9BCBF" stroke="#8C8686" stroke-width="0.9"/><ellipse cx="400.3" cy="358.6" rx="46.3" ry="10" fill="#fff" stroke="#8C8686" stroke-width="1"/><ellipse cx="400.3" cy="364" rx="43.3" ry="8.2" fill="#EBB9BD"/><path d="M362.3 362Q376.3 358.4 390.3 362Q376.3 365.6 362.3 362Z" fill="#4F86C6" transform="rotate(-6 376.3 362)"/><circle cx="377.3" cy="362" r="0.9" fill="#15151a"/><path d="M381.3 366.9Q395.3 363.3 409.3 366.9Q395.3 370.5 381.3 366.9Z" fill="#E8554A" transform="rotate(-4 395.3 366.9)"/><circle cx="396.3" cy="366.9" r="0.9" fill="#15151a"/><path d="M392.3 363.1Q406.3 359.5 420.3 363.1Q406.3 366.7 392.3 363.1Z" fill="#4F86C6" transform="rotate(5 406.3 363.1)"/><circle cx="407.3" cy="363.1" r="0.9" fill="#15151a"/><path d="M409.3 368.4Q424.3 364.8 439.3 368.4Q424.3 372 409.3 368.4Z" fill="#7FA8D8" transform="rotate(0 424.3 368.4)"/><circle cx="425.3" cy="368.4" r="0.9" fill="#15151a"/><path d="M413.3 361.4Q424.3 357.8 435.3 361.4Q424.3 365 413.3 361.4Z" fill="#E8554A" transform="rotate(-3 424.3 361.4)"/><circle cx="425.3" cy="361.4" r="0.9" fill="#15151a"/><path d="M371.3 368.1Q382.3 364.5 393.3 368.1Q382.3 371.7 371.3 368.1Z" fill="#4F86C6" transform="rotate(4 382.3 368.1)"/><circle cx="383.3" cy="368.1" r="0.9" fill="#15151a"/><path d="M392.3 359.8Q402.3 356.2 412.3 359.8Q402.3 363.4 392.3 359.8Z" fill="#7FA8D8" transform="rotate(0 402.3 359.8)"/><circle cx="403.3" cy="359.8" r="0.9" fill="#15151a"/><path d="M354 358.6A46.3 10 0 0 0 446.6 358.6" fill="none" stroke="#8C8686" stroke-width="1"/>
<rect x="374.7" y="307.7" width="57.2" height="37.4" fill="none" stroke="#1B2A7A" stroke-width="2.5" stroke-dasharray="9.5 5.8" stroke-dashoffset="4"/>
<ellipse cx="405.9" cy="318.6" rx="5.6" ry="4.4" fill="#8E2C8A" stroke="#2E9E4A" stroke-width="0.9"/>
<ellipse cx="406.5" cy="318.6" rx="2.4" ry="1.8" fill="#1a1020"/>
<ellipse cx="417.7" cy="320.3" rx="5.6" ry="4.4" fill="#8E2C8A" stroke="#2E9E4A" stroke-width="0.9"/>
<ellipse cx="418.3" cy="320.3" rx="2.4" ry="1.8" fill="#1a1020"/>
<ellipse cx="399" cy="325.2" rx="5.6" ry="4.4" fill="#8E2C8A" stroke="#2E9E4A" stroke-width="0.9"/>
<ellipse cx="399.6" cy="325.2" rx="2.4" ry="1.8" fill="#1a1020"/>
<ellipse cx="410.2" cy="327.4" rx="5.6" ry="4.4" fill="#8E2C8A" stroke="#2E9E4A" stroke-width="0.9"/>
<ellipse cx="410.8" cy="327.4" rx="2.4" ry="1.8" fill="#1a1020"/>
<ellipse cx="419.2" cy="331.7" rx="5.6" ry="4.4" fill="#8E2C8A" stroke="#2E9E4A" stroke-width="0.9"/>
<ellipse cx="419.8" cy="331.7" rx="2.4" ry="1.8" fill="#1a1020"/>
<ellipse cx="397.3" cy="315.6" rx="5.2" ry="5.6" fill="#E8212B" stroke="#111" stroke-width="1.1"/>
<ellipse cx="397.3" cy="315.6" rx="1.8" ry="2.2" fill="#2a0a0a"/>
<ellipse cx="386.2" cy="330.2" rx="5.2" ry="5.6" fill="#E8212B" stroke="#111" stroke-width="1.1"/>
<ellipse cx="386.2" cy="330.2" rx="1.8" ry="2.2" fill="#2a0a0a"/>
<ellipse cx="406.8" cy="337.5" rx="5.2" ry="5.6" fill="#E8212B" stroke="#111" stroke-width="1.1"/>
<ellipse cx="406.8" cy="337.5" rx="1.8" ry="2.2" fill="#2a0a0a"/>
<text x="703.5" y="29.5" font-size="39" font-weight="bold">b</text>
<g transform="translate(704.7 67.6) scale(0.5 0.5)" fill="none" stroke-width="3.7" stroke-linecap="square"><use href="#bL" stroke="#4056A7"/><use href="#bG" stroke="#4056A7"/><use href="#bM" stroke="#C43C2B"/><use href="#bB" stroke="#4056A7"/><use href="#bT" stroke="#4056A7"/><use href="#bP" stroke="#4056A7"/><use href="#bX" stroke="#C43C2B"/></g>
<text x="1016" y="73.3" font-size="18.8" textLength="68" lengthAdjust="spacingAndGlyphs">Sample</text>
<circle cx="1016" cy="111" r="10" fill="#2E4FA2"/>
<circle cx="1016" cy="171.6" r="10" fill="#D6004F"/>
<text x="1035.5" y="110" font-size="20.5" textLength="88" lengthAdjust="spacingAndGlyphs">PB-HSPCs</text>
<text x="1035.5" y="133.7" font-size="20.5" textLength="88" lengthAdjust="spacingAndGlyphs">6266 cells</text>
<text x="1035.5" y="170" font-size="20.5" textLength="99" lengthAdjust="spacingAndGlyphs">hESC-HPCs</text>
<text x="1035.5" y="194" font-size="20.5" textLength="88" lengthAdjust="spacingAndGlyphs">5055 cells</text>
<path d="M1040.7 210.8V302.2H1120" fill="none" stroke="#000" stroke-width="1.8"/>
<polygon points="1040.7,202.8 1049,217 1040.7,213.4 1032.4,217" fill="#000"/>
<polygon points="1128,302.2 1113.8,293.9 1117.4,302.2 1113.8,310.5" fill="#000"/>
<text font-size="19.3" textLength="64" lengthAdjust="spacingAndGlyphs" transform="translate(1035.9 294.7) rotate(-90)">t-SNE2</text>
<text x="1046.2" y="324.9" font-size="19.3" textLength="61.5" lengthAdjust="spacingAndGlyphs">t-SNE1</text>
<text x="1230.5" y="29.5" font-size="39" font-weight="bold">c</text>
<g transform="translate(1234.3 67.6) scale(0.51 0.5)" fill="none" stroke-width="3.7" stroke-linecap="square"><use href="#bL" stroke="#F5A32A"/><use href="#bG" stroke="#777777"/><use href="#bM" stroke="#701618"/><use href="#bB" stroke="#797979"/><use href="#bT" stroke="#701618"/><use href="#bP" stroke="#701618"/><use href="#bX" stroke="#797979"/></g>
<text x="1548" y="89.7" font-size="18.6" textLength="62.5" lengthAdjust="spacingAndGlyphs">Cluster</text>
<circle cx="1555" cy="125" r="9.8" fill="#7F4F21"/>
<circle cx="1555" cy="155.3" r="9.8" fill="#898989"/>
<circle cx="1555" cy="186.6" r="9.8" fill="#F39800"/>
<text x="1570" y="130.2" font-size="27" textLength="131" lengthAdjust="spacingAndGlyphs" stroke="#000" stroke-width="0.45">hESC-HPCs</text>
<text x="1570" y="161" font-size="27" textLength="116" lengthAdjust="spacingAndGlyphs" stroke="#000" stroke-width="0.45">PB-HSPCs</text>
<text x="1570" y="192.5" font-size="27" textLength="97" lengthAdjust="spacingAndGlyphs" stroke="#000" stroke-width="0.45">PB-LPCs</text>
<path d="M1574.9 223.6V313.3H1654.8" fill="none" stroke="#000" stroke-width="1.8"/>
<polygon points="1574.9,215.6 1583.2,229.8 1574.9,226.2 1566.6,229.8" fill="#000"/>
<polygon points="1662.8,313.3 1648.6,305 1652.2,313.3 1648.6,321.6" fill="#000"/>
<text font-size="19.3" textLength="64" lengthAdjust="spacingAndGlyphs" transform="translate(1570.1 305.8) rotate(-90)">t-SNE2</text>
<text x="1580.4" y="336" font-size="19.3" textLength="61.5" lengthAdjust="spacingAndGlyphs">t-SNE1</text>
<text x="0.5" y="459.3" font-size="39" font-weight="bold">d</text>
<g transform="translate(37.3 504.9) scale(0.5)" fill="none" stroke-width="2.8" stroke-linecap="square"><use href="#sAll" stroke="#BEBEBE"/><g stroke="#D8472B"><use href="#sL0"/><use href="#sL1"/><use href="#sL2"/><use href="#sL3"/></g><g stroke="#DD6248"><use href="#sL4"/><use href="#sL5"/><use href="#sL6"/></g><g stroke="#E2846E"><use href="#sM0"/></g><g stroke="#E2846E" clip-path="url(#cLL)"><use href="#sM1"/><use href="#sM2"/><use href="#sM3"/></g><g stroke="#D8472B"><use href="#sB0"/></g><g stroke="#DD6248"><use href="#sB1"/><use href="#sB2"/><use href="#sB3"/></g><g stroke="#E2846E"><use href="#sB4"/></g><g stroke="#D8472B"><use href="#sT"/></g><g stroke="#DD6248"><use href="#sP"/></g></g>
<text x="112.8" y="491.1" font-size="26" text-anchor="middle">CD34</text>
<g transform="translate(222.1 504.9) scale(0.5)" fill="none" stroke-width="2.8" stroke-linecap="square"><use href="#sAll" stroke="#BEBEBE"/><g stroke="#DD6248"><use href="#sBx"/></g></g>
<text x="297.4" y="491.1" font-size="26" text-anchor="middle">CD38</text>
<g transform="translate(407.1 504.9) scale(0.5)" fill="none" stroke-width="2.8" stroke-linecap="square"><use href="#sAll" stroke="#BEBEBE"/><g stroke="#DD6248"><use href="#sL0"/></g><g stroke="#E2846E"><use href="#sL1"/><use href="#sL2"/></g><g stroke="#D8472B"><use href="#sM0"/></g><g stroke="#DD6248"><use href="#sM1"/><use href="#sM2"/><use href="#sM3"/></g><g stroke="#DD6248"><use href="#sB0"/><use href="#sB1"/></g><g stroke="#E2846E"><use href="#sB2"/></g><g stroke="#E2846E"><use href="#sP"/></g></g>
<text x="482.8" y="491.1" font-size="26" text-anchor="middle">CD43</text>
<g transform="translate(592.1 504.9) scale(0.5)" fill="none" stroke-width="2.8" stroke-linecap="square"><use href="#sAll" stroke="#BEBEBE"/><g stroke="#E2846E"><use href="#sL0"/></g><g stroke="#DD6248"><use href="#sM0"/><use href="#sM1"/></g><g stroke="#E2846E"><use href="#sM2"/></g><g stroke="#DD6248"><use href="#sB0"/><use href="#sB1"/></g><g stroke="#E2846E"><use href="#sB2"/></g></g>
<text x="675.8" y="491.1" font-size="26" text-anchor="middle">GATA2</text>
<g transform="translate(777.1 504.9) scale(0.5)" fill="none" stroke-width="2.8" stroke-linecap="square"><use href="#sAll" stroke="#BEBEBE"/><g stroke="#DD6248"><use href="#sL0"/></g><g stroke="#E2846E"><use href="#sL1"/></g><g stroke="#E2846E" clip-path="url(#cUR)"><use href="#sMx"/></g></g>
<text x="853.1" y="491.1" font-size="26" text-anchor="middle">CD10</text>
<g transform="translate(962.1 504.9) scale(0.5)" fill="none" stroke-width="2.8" stroke-linecap="square"><use href="#sAll" stroke="#BEBEBE"/><g stroke="#D62D14"><use href="#sL0"/><use href="#sL1"/><use href="#sL2"/><use href="#sL3"/><use href="#sL4"/><use href="#sL5"/><use href="#sL6"/></g><g stroke="#DD6248"><use href="#sL7"/></g><g stroke="#E2846E" clip-path="url(#cBE)"><use href="#sM0"/><use href="#sM1"/></g><g stroke="#DD6248"><use href="#sMx"/></g><g stroke="#DD6248"><use href="#sB0"/></g><g stroke="#E2846E"><use href="#sB1"/></g><g stroke="#D62D14"><use href="#sT"/></g></g>
<text x="1027.7" y="491.1" font-size="26" text-anchor="middle">LTB</text>
<g transform="translate(1147.1 504.9) scale(0.5)" fill="none" stroke-width="2.8" stroke-linecap="square"><use href="#sAll" stroke="#BEBEBE"/><g stroke="#E2846E"><use href="#sL0"/></g><g stroke="#D8472B"><use href="#sM0"/></g><g stroke="#DD6248"><use href="#sM1"/><use href="#sM2"/><use href="#sM3"/></g><g stroke="#E2846E"><use href="#sM4"/></g><g stroke="#DD6248"><use href="#sB0"/></g><g stroke="#E2846E"><use href="#sB1"/></g><g stroke="#DD6248"><use href="#sTl"/></g></g>
<text x="1223.9" y="491.1" font-size="26" text-anchor="middle">NFE2</text>
<g transform="translate(1332.1 504.9) scale(0.5)" fill="none" stroke-width="2.8" stroke-linecap="square"><use href="#sAll" stroke="#BEBEBE"/><g stroke="#D8472B"><use href="#sM0"/><use href="#sM1"/><use href="#sM2"/></g><g stroke="#DD6248"><use href="#sM3"/><use href="#sM4"/><use href="#sM5"/></g><g stroke="#D8472B"><use href="#sTl"/></g><g stroke="#DD6248"><use href="#sBx"/></g></g>
<text x="1414.6" y="491.1" font-size="26" text-anchor="middle">GATA1</text>
<line x1="211.3" y1="497.5" x2="211.3" y2="666.2" stroke="#A8A2A2" stroke-width="1.1"/>
<line x1="214.5" y1="497.5" x2="214.5" y2="666.2" stroke="#A8A2A2" stroke-width="1.1"/>
<line x1="396.3" y1="497.5" x2="396.3" y2="666.2" stroke="#A8A2A2" stroke-width="1.1"/>
<line x1="399.5" y1="497.5" x2="399.5" y2="666.2" stroke="#A8A2A2" stroke-width="1.1"/>
<line x1="581.3" y1="497.5" x2="581.3" y2="666.2" stroke="#A8A2A2" stroke-width="1.1"/>
<line x1="584.5" y1="497.5" x2="584.5" y2="666.2" stroke="#A8A2A2" stroke-width="1.1"/>
<line x1="766.3" y1="497.5" x2="766.3" y2="666.2" stroke="#A8A2A2" stroke-width="1.1"/>
<line x1="769.5" y1="497.5" x2="769.5" y2="666.2" stroke="#A8A2A2" stroke-width="1.1"/>
<line x1="951.3" y1="497.5" x2="951.3" y2="666.2" stroke="#A8A2A2" stroke-width="1.1"/>
<line x1="954.5" y1="497.5" x2="954.5" y2="666.2" stroke="#A8A2A2" stroke-width="1.1"/>
<line x1="1136.3" y1="497.5" x2="1136.3" y2="666.2" stroke="#A8A2A2" stroke-width="1.1"/>
<line x1="1139.5" y1="497.5" x2="1139.5" y2="666.2" stroke="#A8A2A2" stroke-width="1.1"/>
<line x1="1321.3" y1="497.5" x2="1321.3" y2="666.2" stroke="#A8A2A2" stroke-width="1.1"/>
<line x1="1324.5" y1="497.5" x2="1324.5" y2="666.2" stroke="#A8A2A2" stroke-width="1.1"/>
<rect x="28.7" y="497.5" width="1477.3" height="168.7" fill="none" stroke="#000" stroke-width="1.7"/>
<g transform="translate(34.3 761.7) scale(0.5)" fill="none" stroke-width="2.8" stroke-linecap="square"><use href="#sAll" stroke="#BEBEBE"/><g stroke="#DD6248"><use href="#sMx"/></g><g stroke="#DD6248"><use href="#sBx"/></g></g>
<text x="112.4" y="746.3" font-size="26" text-anchor="middle">CD4</text>
<g transform="translate(219.1 761.7) scale(0.5)" fill="none" stroke-width="2.8" stroke-linecap="square"><use href="#sAll" stroke="#BEBEBE"/></g>
<text x="296.9" y="746.3" font-size="26" text-anchor="middle">CD8</text>
<g transform="translate(404.1 761.7) scale(0.5)" fill="none" stroke-width="2.8" stroke-linecap="square"><use href="#sAll" stroke="#BEBEBE"/><g stroke="#DD6248"><use href="#sLx"/></g></g>
<text x="495.7" y="746.3" font-size="26" text-anchor="middle">CD11b</text>
<g transform="translate(589.1 761.7) scale(0.5)" fill="none" stroke-width="2.8" stroke-linecap="square"><use href="#sAll" stroke="#BEBEBE"/></g>
<text x="675" y="746.3" font-size="26" text-anchor="middle">CD14</text>
<g transform="translate(774.1 761.7) scale(0.5)" fill="none" stroke-width="2.8" stroke-linecap="square"><use href="#sAll" stroke="#BEBEBE"/><g stroke="#E2846E" clip-path="url(#cLL)"><use href="#sLx"/></g></g>
<text x="860.5" y="746.3" font-size="26" text-anchor="middle">CD19</text>
<g transform="translate(959.1 761.7) scale(0.5)" fill="none" stroke-width="2.8" stroke-linecap="square"><use href="#sAll" stroke="#BEBEBE"/></g>
<text x="1044.8" y="746.3" font-size="26" text-anchor="middle">CD20</text>
<g transform="translate(1144.1 761.7) scale(0.5)" fill="none" stroke-width="2.8" stroke-linecap="square"><use href="#sAll" stroke="#BEBEBE"/></g>
<text x="1230.2" y="746.3" font-size="26" text-anchor="middle">CD56</text>
<g transform="translate(1329.1 761.7) scale(0.5)" fill="none" stroke-width="2.8" stroke-linecap="square"><use href="#sAll" stroke="#BEBEBE"/><g stroke="#E2846E"><use href="#sM0"/></g><g stroke="#E2846E" clip-path="url(#cUR)"><use href="#sM1"/><use href="#sM2"/></g><g stroke="#D8472B" clip-path="url(#cURR)"><use href="#sM3"/><use href="#sM4"/><use href="#sM5"/></g><g stroke="#E2846E"><use href="#sTl"/></g></g>
<text x="1429.4" y="746.3" font-size="26" text-anchor="middle">CD235a</text>
<line x1="208.3" y1="754.3" x2="208.3" y2="922.2" stroke="#A8A2A2" stroke-width="1.1"/>
<line x1="211.5" y1="754.3" x2="211.5" y2="922.2" stroke="#A8A2A2" stroke-width="1.1"/>
<line x1="393.3" y1="754.3" x2="393.3" y2="922.2" stroke="#A8A2A2" stroke-width="1.1"/>
<line x1="396.5" y1="754.3" x2="396.5" y2="922.2" stroke="#A8A2A2" stroke-width="1.1"/>
<line x1="578.3" y1="754.3" x2="578.3" y2="922.2" stroke="#A8A2A2" stroke-width="1.1"/>
<line x1="581.5" y1="754.3" x2="581.5" y2="922.2" stroke="#A8A2A2" stroke-width="1.1"/>
<line x1="763.3" y1="754.3" x2="763.3" y2="922.2" stroke="#A8A2A2" stroke-width="1.1"/>
<line x1="766.5" y1="754.3" x2="766.5" y2="922.2" stroke="#A8A2A2" stroke-width="1.1"/>
<line x1="948.3" y1="754.3" x2="948.3" y2="922.2" stroke="#A8A2A2" stroke-width="1.1"/>
<line x1="951.5" y1="754.3" x2="951.5" y2="922.2" stroke="#A8A2A2" stroke-width="1.1"/>
<line x1="1133.3" y1="754.3" x2="1133.3" y2="922.2" stroke="#A8A2A2" stroke-width="1.1"/>
<line x1="1136.5" y1="754.3" x2="1136.5" y2="922.2" stroke="#A8A2A2" stroke-width="1.1"/>
<line x1="1318.3" y1="754.3" x2="1318.3" y2="922.2" stroke="#A8A2A2" stroke-width="1.1"/>
<line x1="1321.5" y1="754.3" x2="1321.5" y2="922.2" stroke="#A8A2A2" stroke-width="1.1"/>
<rect x="25.7" y="754.3" width="1479.3" height="167.9" fill="none" stroke="#000" stroke-width="1.7"/>
<g transform="translate(34.3 989.9) scale(0.5)" fill="none" stroke-width="2.8" stroke-linecap="square"><use href="#sAll" stroke="#BEBEBE"/><g stroke="#D8472B"><use href="#sM0"/><use href="#sM1"/><use href="#sM2"/><use href="#sM3"/></g><g stroke="#DD6248"><use href="#sM4"/><use href="#sM5"/><use href="#sM6"/></g><g stroke="#DD6248"><use href="#sBx"/></g><g stroke="#E2846E"><use href="#sTl"/></g></g>
<text x="115.1" y="973.2" font-size="26" text-anchor="middle">CD41</text>
<g transform="translate(217.2 989.9) scale(0.5)" fill="none" stroke-width="2.8" stroke-linecap="square"><use href="#sAll" stroke="#BEBEBE"/><g stroke="#D8472B"><use href="#sL0"/><use href="#sL1"/></g><g stroke="#DD6248"><use href="#sL2"/><use href="#sL3"/><use href="#sL4"/></g><g stroke="#D8472B"><use href="#sB0"/><use href="#sB1"/><use href="#sB2"/></g><g stroke="#DD6248"><use href="#sB3"/><use href="#sB4"/><use href="#sB5"/></g><g stroke="#D8472B"><use href="#sT"/></g><g stroke="#D8472B"><use href="#sP"/></g><g stroke="#E2846E"><use href="#sMx"/></g></g>
<text x="302" y="973.2" font-size="26" text-anchor="middle">CD45</text>
<line x1="206.4" y1="982.5" x2="206.4" y2="1151" stroke="#A8A2A2" stroke-width="1.1"/>
<line x1="209.6" y1="982.5" x2="209.6" y2="1151" stroke="#A8A2A2" stroke-width="1.1"/>
<rect x="25.7" y="982.5" width="365.1" height="168.5" fill="none" stroke="#000" stroke-width="1.7"/>
<text x="975.3" y="450" font-size="26" text-anchor="middle" font-weight="bold">Lymphoid</text>
<line x1="785.2" y1="460.6" x2="1119" y2="460.6" stroke="#000" stroke-width="2.6"/>
<text x="1335.6" y="450" font-size="26" text-anchor="middle" font-weight="bold">Myeloid</text>
<line x1="1155.2" y1="460.6" x2="1479.7" y2="457.2" stroke="#000" stroke-width="2.6"/>
<text x="799.2" y="705" font-size="26.5" text-anchor="middle" font-weight="bold">Lineage markers</text>
<line x1="53.1" y1="715.3" x2="1480.2" y2="715.3" stroke="#000" stroke-width="2.7"/>
<text x="1582" y="611.9" font-size="19.3" textLength="96.5" lengthAdjust="spacingAndGlyphs">Log2(Expr)</text>
<rect x="1583" y="624.7" width="21.3" height="107.2" fill="url(#gExpr)"/>
<text x="1608.3" y="631" font-size="17.2">-3</text>
<text x="1608.3" y="667" font-size="17.2">-2</text>
<text x="1608.3" y="698.5" font-size="17.2">-1</text>
<text x="1608.3" y="734.7" font-size="17.2">-0</text>
<path d="M1589.1 761.2V852.6H1669.4" fill="none" stroke="#000" stroke-width="1.8"/>
<polygon points="1589.1,753.2 1597.4,767.4 1589.1,763.8 1580.8,767.4" fill="#000"/>
<polygon points="1677.4,852.6 1663.2,844.3 1666.8,852.6 1663.2,860.9" fill="#000"/>
<text font-size="19.3" textLength="64" lengthAdjust="spacingAndGlyphs" transform="translate(1584.3 845.1) rotate(-90)">t-SNE2</text>
<text x="1594.6" y="875.3" font-size="19.3" textLength="61.5" lengthAdjust="spacingAndGlyphs">t-SNE1</text>
<text x="0.5" y="1225.2" font-size="36.5" font-weight="bold">e</text>
<rect x="175.9" y="1224.3" width="1277.4" height="126.9" fill="#fff" stroke="#000" stroke-width="1.9"/>
<rect x="179.1" y="1227.2" width="42.64" height="40.7" fill="#7AAFCF"/>
<rect x="179.1" y="1267.6" width="42.64" height="40.9" fill="#E6ECF0"/>
<rect x="179.1" y="1308.2" width="42.64" height="40" fill="#D4715C"/>
<rect x="221.44" y="1227.2" width="42.64" height="40.7" fill="#91BFD9"/>
<rect x="221.44" y="1267.6" width="42.64" height="40.9" fill="#CFE2EC"/>
<rect x="221.44" y="1308.2" width="42.64" height="40" fill="#CD6650"/>
<rect x="263.78" y="1227.2" width="42.64" height="40.7" fill="#91BFD9"/>
<rect x="263.78" y="1267.6" width="42.64" height="40.9" fill="#D2E4ED"/>
<rect x="263.78" y="1308.2" width="42.64" height="40" fill="#CD6650"/>
<rect x="306.12" y="1227.2" width="42.64" height="40.7" fill="#A0C7DC"/>
<rect x="306.12" y="1267.6" width="42.64" height="40.9" fill="#CCE0EB"/>
<rect x="306.12" y="1308.2" width="42.64" height="40" fill="#CD6650"/>
<rect x="348.46" y="1227.2" width="42.64" height="40.7" fill="#A3C9DD"/>
<rect x="348.46" y="1267.6" width="42.64" height="40.9" fill="#C9DEEA"/>
<rect x="348.46" y="1308.2" width="42.64" height="40" fill="#CD6650"/>
<rect x="390.8" y="1227.2" width="42.64" height="40.7" fill="#A0C7DC"/>
<rect x="390.8" y="1267.6" width="42.64" height="40.9" fill="#CCE0EB"/>
<rect x="390.8" y="1308.2" width="42.64" height="40" fill="#CD6650"/>
<rect x="433.14" y="1227.2" width="42.64" height="40.7" fill="#9AC4DB"/>
<rect x="433.14" y="1267.6" width="42.64" height="40.9" fill="#CFE2EC"/>
<rect x="433.14" y="1308.2" width="42.64" height="40" fill="#CD6650"/>
<rect x="475.48" y="1227.2" width="42.64" height="40.7" fill="#94BFD8"/>
<rect x="475.48" y="1267.6" width="42.64" height="40.9" fill="#D2E4ED"/>
<rect x="475.48" y="1308.2" width="42.64" height="40" fill="#CD6650"/>
<rect x="517.82" y="1227.2" width="42.64" height="40.7" fill="#A3C8DC"/>
<rect x="517.82" y="1267.6" width="42.64" height="40.9" fill="#C9DEEA"/>
<rect x="517.82" y="1308.2" width="42.64" height="40" fill="#CD6650"/>
<rect x="560.16" y="1227.2" width="42.64" height="40.7" fill="#A6CADD"/>
<rect x="560.16" y="1267.6" width="42.64" height="40.9" fill="#C6DCE9"/>
<rect x="560.16" y="1308.2" width="42.64" height="40" fill="#CD6650"/>
<rect x="602.5" y="1227.2" width="42.64" height="40.7" fill="#C1D9E6"/>
<rect x="602.5" y="1267.6" width="42.64" height="40.9" fill="#CC6650"/>
<rect x="602.5" y="1308.2" width="42.64" height="40" fill="#A9CDE0"/>
<rect x="644.84" y="1227.2" width="42.64" height="40.7" fill="#D8E7EF"/>
<rect x="644.84" y="1267.6" width="42.64" height="40.9" fill="#CF6B54"/>
<rect x="644.84" y="1308.2" width="42.64" height="40" fill="#8CBBD5"/>
<rect x="687.18" y="1227.2" width="42.64" height="40.7" fill="#F5C1A9"/>
<rect x="687.18" y="1267.6" width="42.64" height="40.9" fill="#F3B299"/>
<rect x="687.18" y="1308.2" width="42.64" height="40" fill="#4A90BD"/>
<rect x="729.52" y="1227.2" width="42.64" height="40.7" fill="#F8CFBC"/>
<rect x="729.52" y="1267.6" width="42.64" height="40.9" fill="#EEA88A"/>
<rect x="729.52" y="1308.2" width="42.64" height="40" fill="#4D93BE"/>
<rect x="771.86" y="1227.2" width="42.64" height="40.7" fill="#D2E3EE"/>
<rect x="771.86" y="1267.6" width="42.64" height="40.9" fill="#CF6A53"/>
<rect x="771.86" y="1308.2" width="42.64" height="40" fill="#92BFD8"/>
<rect x="814.2" y="1227.2" width="42.64" height="40.7" fill="#F0AF94"/>
<rect x="814.2" y="1267.6" width="42.64" height="40.9" fill="#F6C4AE"/>
<rect x="814.2" y="1308.2" width="42.64" height="40" fill="#4D90BC"/>
<rect x="856.54" y="1227.2" width="42.64" height="40.7" fill="#F8D0BD"/>
<rect x="856.54" y="1267.6" width="42.64" height="40.9" fill="#EFA98B"/>
<rect x="856.54" y="1308.2" width="42.64" height="40" fill="#5091BD"/>
<rect x="898.88" y="1227.2" width="42.64" height="40.7" fill="#F9DCCD"/>
<rect x="898.88" y="1267.6" width="42.64" height="40.9" fill="#EC9F80"/>
<rect x="898.88" y="1308.2" width="42.64" height="40" fill="#5393BE"/>
<rect x="941.22" y="1227.2" width="42.64" height="40.7" fill="#C0D9E7"/>
<rect x="941.22" y="1267.6" width="42.64" height="40.9" fill="#CC6450"/>
<rect x="941.22" y="1308.2" width="42.64" height="40" fill="#A8CCE0"/>
<rect x="983.56" y="1227.2" width="42.64" height="40.7" fill="#FBE7DC"/>
<rect x="983.56" y="1267.6" width="42.64" height="40.9" fill="#E38D6D"/>
<rect x="983.56" y="1308.2" width="42.64" height="40" fill="#5C9AC3"/>
<rect x="1025.9" y="1227.2" width="42.64" height="40.7" fill="#CC6651"/>
<rect x="1025.9" y="1267.6" width="42.64" height="40.9" fill="#B5D4E4"/>
<rect x="1025.9" y="1308.2" width="42.64" height="40" fill="#B0D1E3"/>
<rect x="1068.24" y="1227.2" width="42.64" height="40.7" fill="#E59272"/>
<rect x="1068.24" y="1267.6" width="42.64" height="40.9" fill="#FBE8DE"/>
<rect x="1068.24" y="1308.2" width="42.64" height="40" fill="#5B99C3"/>
<rect x="1110.58" y="1227.2" width="42.64" height="40.7" fill="#E08567"/>
<rect x="1110.58" y="1267.6" width="42.64" height="40.9" fill="#F9EDE5"/>
<rect x="1110.58" y="1308.2" width="42.64" height="40" fill="#629EC5"/>
<rect x="1152.92" y="1227.2" width="42.64" height="40.7" fill="#D36F58"/>
<rect x="1152.92" y="1267.6" width="42.64" height="40.9" fill="#DFEAF0"/>
<rect x="1152.92" y="1308.2" width="42.64" height="40" fill="#8AB7D4"/>
<rect x="1195.26" y="1227.2" width="42.64" height="40.7" fill="#E99575"/>
<rect x="1195.26" y="1267.6" width="42.64" height="40.9" fill="#FBE3D6"/>
<rect x="1195.26" y="1308.2" width="42.64" height="40" fill="#5896C2"/>
<rect x="1237.6" y="1227.2" width="42.64" height="40.7" fill="#CC6550"/>
<rect x="1237.6" y="1267.6" width="42.64" height="40.9" fill="#C0D9E7"/>
<rect x="1237.6" y="1308.2" width="42.64" height="40" fill="#A5CADE"/>
<rect x="1279.94" y="1227.2" width="42.64" height="40.7" fill="#DB7B60"/>
<rect x="1279.94" y="1267.6" width="42.64" height="40.9" fill="#F3F4F5"/>
<rect x="1279.94" y="1308.2" width="42.64" height="40" fill="#70A5C9"/>
<rect x="1322.28" y="1227.2" width="42.64" height="40.7" fill="#D7745B"/>
<rect x="1322.28" y="1267.6" width="42.64" height="40.9" fill="#E6EDF2"/>
<rect x="1322.28" y="1308.2" width="42.64" height="40" fill="#78AACB"/>
<rect x="1364.62" y="1227.2" width="42.64" height="40.7" fill="#DE7F63"/>
<rect x="1364.62" y="1267.6" width="42.64" height="40.9" fill="#F7F7F7"/>
<rect x="1364.62" y="1308.2" width="42.64" height="40" fill="#70A5C8"/>
<rect x="1406.96" y="1227.2" width="42.64" height="40.7" fill="#E38A6B"/>
<rect x="1406.96" y="1267.6" width="42.64" height="40.9" fill="#FAECE5"/>
<rect x="1406.96" y="1308.2" width="42.64" height="40" fill="#5B98C2"/>
<g fill="none" stroke="#fff"><circle cx="201.3" cy="1247.7" r="3.6" stroke-width="3"/><circle cx="201.3" cy="1287.5" r="3.6" stroke-width="3"/><circle cx="203.5" cy="1325.8" r="13" stroke-width="3"/><circle cx="243.64" cy="1247.7" r="3.6" stroke-width="3"/><circle cx="243.64" cy="1287.5" r="3.6" stroke-width="3"/><circle cx="245.84" cy="1325.8" r="13" stroke-width="3"/><circle cx="285.98" cy="1247.7" r="3.6" stroke-width="3"/><circle cx="285.98" cy="1287.5" r="3.6" stroke-width="3"/><circle cx="288.18" cy="1325.8" r="13" stroke-width="3"/><circle cx="328.32" cy="1247.7" r="3.6" stroke-width="3"/><circle cx="328.32" cy="1287.5" r="3.6" stroke-width="3"/><circle cx="330.52" cy="1325.8" r="13" stroke-width="3"/><circle cx="370.66" cy="1247.7" r="3.6" stroke-width="3"/><circle cx="370.66" cy="1287.5" r="3.6" stroke-width="3"/><circle cx="372.86" cy="1325.8" r="13" stroke-width="3"/><circle cx="413" cy="1247.7" r="3.6" stroke-width="3"/><circle cx="413" cy="1287.5" r="3.6" stroke-width="3"/><circle cx="415.2" cy="1325.8" r="13" stroke-width="3"/><circle cx="455.34" cy="1247.7" r="3.6" stroke-width="3"/><circle cx="455.34" cy="1287.5" r="3.6" stroke-width="3"/><circle cx="457.54" cy="1325.8" r="13" stroke-width="3"/><circle cx="497.68" cy="1247.7" r="3.6" stroke-width="3"/><circle cx="497.68" cy="1287.5" r="3.6" stroke-width="3"/><circle cx="499.88" cy="1325.8" r="13" stroke-width="3"/><circle cx="540.02" cy="1247.7" r="3.6" stroke-width="3"/><circle cx="540.02" cy="1287.5" r="3.6" stroke-width="3"/><circle cx="542.22" cy="1325.8" r="13" stroke-width="3"/><circle cx="582.36" cy="1247.7" r="3.6" stroke-width="3"/><circle cx="582.36" cy="1287.5" r="3.6" stroke-width="3"/><circle cx="584.56" cy="1325.8" r="13" stroke-width="3"/><circle cx="626.1" cy="1246.3" r="7.3" stroke-width="2.5"/><circle cx="626.9" cy="1286.1" r="13" stroke-width="3"/><circle cx="624.7" cy="1327.2" r="3.6" stroke-width="3"/><circle cx="668.44" cy="1246.3" r="7.3" stroke-width="2.5"/><circle cx="669.24" cy="1286.1" r="13" stroke-width="3"/><circle cx="667.04" cy="1327.2" r="3.6" stroke-width="3"/><circle cx="711.58" cy="1246.3" r="13" stroke-width="3"/><circle cx="711.58" cy="1286.1" r="13" stroke-width="3"/><circle cx="709.38" cy="1327.2" r="3.6" stroke-width="3"/><circle cx="753.92" cy="1246.3" r="13" stroke-width="3"/><circle cx="753.92" cy="1286.1" r="13" stroke-width="3"/><circle cx="751.72" cy="1327.2" r="3.6" stroke-width="3"/><circle cx="795.46" cy="1246.3" r="7.3" stroke-width="2.5"/><circle cx="796.26" cy="1286.1" r="13" stroke-width="3"/><circle cx="794.06" cy="1327.2" r="3.6" stroke-width="3"/><circle cx="838.6" cy="1246.3" r="13" stroke-width="3"/><circle cx="838.6" cy="1286.1" r="13" stroke-width="3"/><circle cx="836.4" cy="1327.2" r="3.6" stroke-width="3"/><circle cx="880.94" cy="1246.3" r="13" stroke-width="3"/><circle cx="880.94" cy="1286.1" r="13" stroke-width="3"/><circle cx="878.74" cy="1327.2" r="3.6" stroke-width="3"/><circle cx="923.28" cy="1246.3" r="13" stroke-width="3"/><circle cx="923.28" cy="1286.1" r="13" stroke-width="3"/><circle cx="921.08" cy="1327.2" r="3.6" stroke-width="3"/><circle cx="963.42" cy="1247.7" r="3.6" stroke-width="3"/><circle cx="965.62" cy="1286.1" r="13" stroke-width="3"/><circle cx="963.42" cy="1327.2" r="3.6" stroke-width="3"/><circle cx="1007.96" cy="1246.3" r="10.2" stroke-width="2.8"/><circle cx="1007.96" cy="1286.1" r="13" stroke-width="3"/><circle cx="1005.76" cy="1327.2" r="3.6" stroke-width="3"/><circle cx="1050.3" cy="1246.3" r="13" stroke-width="3"/><circle cx="1049.5" cy="1286.1" r="7.3" stroke-width="2.5"/><circle cx="1048.1" cy="1327.2" r="3.6" stroke-width="3"/><circle cx="1092.64" cy="1246.3" r="13" stroke-width="3"/><circle cx="1092.64" cy="1286.1" r="13" stroke-width="3"/><circle cx="1090.44" cy="1327.2" r="3.6" stroke-width="3"/><circle cx="1134.98" cy="1246.3" r="13" stroke-width="3"/><circle cx="1134.98" cy="1286.1" r="10.2" stroke-width="2.8"/><circle cx="1132.78" cy="1327.2" r="3.6" stroke-width="3"/><circle cx="1177.32" cy="1246.3" r="10.2" stroke-width="2.8"/><circle cx="1175.12" cy="1287.5" r="3.6" stroke-width="3"/><circle cx="1175.12" cy="1327.2" r="3.6" stroke-width="3"/><circle cx="1219.66" cy="1246.3" r="13" stroke-width="3"/><circle cx="1219.66" cy="1286.1" r="13" stroke-width="3"/><circle cx="1217.46" cy="1327.2" r="3.6" stroke-width="3"/><circle cx="1262" cy="1246.3" r="10.2" stroke-width="2.8"/><circle cx="1259.8" cy="1287.5" r="3.6" stroke-width="3"/><circle cx="1259.8" cy="1327.2" r="3.6" stroke-width="3"/><circle cx="1304.34" cy="1246.3" r="13" stroke-width="3"/><circle cx="1304.34" cy="1286.1" r="10.2" stroke-width="2.8"/><circle cx="1302.14" cy="1327.2" r="3.6" stroke-width="3"/><circle cx="1346.68" cy="1246.3" r="10.2" stroke-width="2.8"/><circle cx="1344.48" cy="1287.5" r="3.6" stroke-width="3"/><circle cx="1344.48" cy="1327.2" r="3.6" stroke-width="3"/><circle cx="1389.02" cy="1246.3" r="10.2" stroke-width="2.8"/><circle cx="1388.22" cy="1286.1" r="7.3" stroke-width="2.5"/><circle cx="1386.82" cy="1327.2" r="3.6" stroke-width="3"/><circle cx="1431.36" cy="1246.3" r="10.2" stroke-width="2.8"/><circle cx="1430.56" cy="1286.1" r="7.3" stroke-width="2.5"/><circle cx="1429.16" cy="1327.2" r="3.6" stroke-width="3"/></g>
<line x1="200.8" y1="1351.5" x2="200.8" y2="1357" stroke="#000" stroke-width="2.1"/>
<text font-size="25.5" text-anchor="end" textLength="70.2" lengthAdjust="spacingAndGlyphs" transform="translate(207.2 1361.6) rotate(-90)">HBG2</text>
<line x1="243.13" y1="1351.5" x2="243.13" y2="1357" stroke="#000" stroke-width="2.1"/>
<text font-size="25.5" text-anchor="end" textLength="67.4" lengthAdjust="spacingAndGlyphs" transform="translate(249.53 1361.6) rotate(-90)">HBA1</text>
<line x1="285.46" y1="1351.5" x2="285.46" y2="1357" stroke="#000" stroke-width="2.1"/>
<text font-size="25.5" text-anchor="end" textLength="54.9" lengthAdjust="spacingAndGlyphs" transform="translate(291.86 1361.6) rotate(-90)">HBD</text>
<line x1="327.79" y1="1351.5" x2="327.79" y2="1357" stroke="#000" stroke-width="2.1"/>
<text font-size="25.5" text-anchor="end" textLength="70.3" lengthAdjust="spacingAndGlyphs" transform="translate(334.19 1361.6) rotate(-90)">GAD1</text>
<line x1="370.12" y1="1351.5" x2="370.12" y2="1357" stroke="#000" stroke-width="2.1"/>
<text font-size="25.5" text-anchor="end" textLength="52" lengthAdjust="spacingAndGlyphs" transform="translate(376.52 1361.6) rotate(-90)">HBZ</text>
<line x1="412.45" y1="1351.5" x2="412.45" y2="1357" stroke="#000" stroke-width="2.1"/>
<text font-size="25.5" text-anchor="end" textLength="68.2" lengthAdjust="spacingAndGlyphs" transform="translate(418.85 1361.6) rotate(-90)">MYL4</text>
<line x1="454.78" y1="1351.5" x2="454.78" y2="1357" stroke="#000" stroke-width="2.1"/>
<text font-size="25.5" text-anchor="end" textLength="47.5" lengthAdjust="spacingAndGlyphs" transform="translate(461.18 1361.6) rotate(-90)">PF4</text>
<line x1="497.11" y1="1351.5" x2="497.11" y2="1357" stroke="#000" stroke-width="2.1"/>
<text font-size="25.5" text-anchor="end" textLength="65.4" lengthAdjust="spacingAndGlyphs" transform="translate(503.51 1361.6) rotate(-90)">DLK1</text>
<line x1="539.44" y1="1351.5" x2="539.44" y2="1357" stroke="#000" stroke-width="2.1"/>
<text font-size="25.5" text-anchor="end" textLength="93" lengthAdjust="spacingAndGlyphs" transform="translate(545.84 1361.6) rotate(-90)">ITGA2B</text>
<line x1="581.77" y1="1351.5" x2="581.77" y2="1357" stroke="#000" stroke-width="2.1"/>
<text font-size="25.5" text-anchor="end" textLength="70.2" lengthAdjust="spacingAndGlyphs" transform="translate(588.17 1361.6) rotate(-90)">TESC</text>
<line x1="624.1" y1="1351.5" x2="624.1" y2="1357" stroke="#000" stroke-width="2.1"/>
<text font-size="25.5" text-anchor="end" textLength="52" lengthAdjust="spacingAndGlyphs" transform="translate(630.5 1361.6) rotate(-90)">AVP</text>
<line x1="666.43" y1="1351.5" x2="666.43" y2="1357" stroke="#000" stroke-width="2.1"/>
<text font-size="25.5" text-anchor="end" textLength="64.5" lengthAdjust="spacingAndGlyphs" transform="translate(672.83 1361.6) rotate(-90)">SELL</text>
<line x1="708.76" y1="1351.5" x2="708.76" y2="1357" stroke="#000" stroke-width="2.1"/>
<text font-size="25.5" text-anchor="end" textLength="121.4" lengthAdjust="spacingAndGlyphs" transform="translate(715.16 1361.6) rotate(-90)">HLA−DRA</text>
<line x1="751.09" y1="1351.5" x2="751.09" y2="1357" stroke="#000" stroke-width="2.1"/>
<text font-size="25.5" text-anchor="end" textLength="136.5" lengthAdjust="spacingAndGlyphs" transform="translate(757.49 1361.6) rotate(-90)">HLA−DRB1</text>
<line x1="793.42" y1="1351.5" x2="793.42" y2="1357" stroke="#000" stroke-width="2.1"/>
<text font-size="25.5" text-anchor="end" textLength="100.4" lengthAdjust="spacingAndGlyphs" transform="translate(799.82 1361.6) rotate(-90)">PRSS57</text>
<line x1="835.75" y1="1351.5" x2="835.75" y2="1357" stroke="#000" stroke-width="2.1"/>
<text font-size="25.5" text-anchor="end" textLength="99.5" lengthAdjust="spacingAndGlyphs" transform="translate(842.15 1361.6) rotate(-90)">FAM30A</text>
<line x1="878.08" y1="1351.5" x2="878.08" y2="1357" stroke="#000" stroke-width="2.1"/>
<text font-size="25.5" text-anchor="end" textLength="109.5" lengthAdjust="spacingAndGlyphs" transform="translate(884.48 1361.6) rotate(-90)">CHCHD2</text>
<line x1="920.41" y1="1351.5" x2="920.41" y2="1357" stroke="#000" stroke-width="2.1"/>
<text font-size="25.5" text-anchor="end" textLength="136.5" lengthAdjust="spacingAndGlyphs" transform="translate(926.81 1361.6) rotate(-90)">HLA−DRB5</text>
<line x1="962.74" y1="1351.5" x2="962.74" y2="1357" stroke="#000" stroke-width="2.1"/>
<text font-size="25.5" text-anchor="end" textLength="91.8" lengthAdjust="spacingAndGlyphs" transform="translate(969.14 1361.6) rotate(-90)">CRHBP</text>
<line x1="1005.07" y1="1351.5" x2="1005.07" y2="1357" stroke="#000" stroke-width="2.1"/>
<text font-size="25.5" text-anchor="end" textLength="102.3" lengthAdjust="spacingAndGlyphs" transform="translate(1011.47 1361.6) rotate(-90)">CLEC2B</text>
<line x1="1047.4" y1="1351.5" x2="1047.4" y2="1357" stroke="#000" stroke-width="2.1"/>
<text font-size="25.5" text-anchor="end" textLength="44.6" lengthAdjust="spacingAndGlyphs" transform="translate(1053.8 1361.6) rotate(-90)">LTB</text>
<line x1="1089.73" y1="1351.5" x2="1089.73" y2="1357" stroke="#000" stroke-width="2.1"/>
<text font-size="25.5" text-anchor="end" textLength="68.2" lengthAdjust="spacingAndGlyphs" transform="translate(1096.13 1361.6) rotate(-90)">IGHM</text>
<line x1="1132.06" y1="1351.5" x2="1132.06" y2="1357" stroke="#000" stroke-width="2.1"/>
<text font-size="25.5" text-anchor="end" textLength="63.4" lengthAdjust="spacingAndGlyphs" transform="translate(1138.46 1361.6) rotate(-90)">LSP1</text>
<line x1="1174.39" y1="1351.5" x2="1174.39" y2="1357" stroke="#000" stroke-width="2.1"/>
<text font-size="25.5" text-anchor="end" textLength="98.1" lengthAdjust="spacingAndGlyphs" transform="translate(1180.79 1361.6) rotate(-90)">SLC2A5</text>
<line x1="1216.72" y1="1351.5" x2="1216.72" y2="1357" stroke="#000" stroke-width="2.1"/>
<text font-size="25.5" text-anchor="end" textLength="88.1" lengthAdjust="spacingAndGlyphs" transform="translate(1223.12 1361.6) rotate(-90)">CXCR4</text>
<line x1="1259.05" y1="1351.5" x2="1259.05" y2="1357" stroke="#000" stroke-width="2.1"/>
<text font-size="25.5" text-anchor="end" textLength="117.4" lengthAdjust="spacingAndGlyphs" transform="translate(1265.45 1361.6) rotate(-90)">KIAA0087</text>
<line x1="1301.38" y1="1351.5" x2="1301.38" y2="1357" stroke="#000" stroke-width="2.1"/>
<text font-size="25.5" text-anchor="end" textLength="61.7" lengthAdjust="spacingAndGlyphs" transform="translate(1307.78 1361.6) rotate(-90)">VSIR</text>
<line x1="1343.71" y1="1351.5" x2="1343.71" y2="1357" stroke="#000" stroke-width="2.1"/>
<text font-size="25.5" text-anchor="end" textLength="86.7" lengthAdjust="spacingAndGlyphs" transform="translate(1350.11 1361.6) rotate(-90)">TRBC2</text>
<line x1="1386.04" y1="1351.5" x2="1386.04" y2="1357" stroke="#000" stroke-width="2.1"/>
<text font-size="25.5" text-anchor="end" textLength="69.7" lengthAdjust="spacingAndGlyphs" transform="translate(1392.44 1361.6) rotate(-90)">MZB1</text>
<line x1="1428.37" y1="1351.5" x2="1428.37" y2="1357" stroke="#000" stroke-width="2.1"/>
<text font-size="25.5" text-anchor="end" textLength="86.7" lengthAdjust="spacingAndGlyphs" transform="translate(1434.77 1361.6) rotate(-90)">HOXA9</text>
<text x="151.8" y="1263.7" font-size="26.4" text-anchor="end" font-weight="bold">PB-LPCs</text>
<circle cx="165.5" cy="1256.9" r="9.6" fill="#F39800"/>
<text x="151.8" y="1299.7" font-size="26.4" text-anchor="end" font-weight="bold">PB-HSPCs</text>
<circle cx="165.5" cy="1293.5" r="9.6" fill="#898989"/>
<text x="151.8" y="1336.9" font-size="26.4" text-anchor="end" font-weight="bold">hESC-HPCs</text>
<circle cx="165.5" cy="1330.1" r="9.6" fill="#7F4F21"/>
<rect x="197.9" y="1507" width="407" height="6.3" fill="#6B3A0A"/>
<text x="331" y="1542" font-size="27" textLength="132.5" lengthAdjust="spacingAndGlyphs" stroke="#000" stroke-width="0.45">hESC-HPCs</text>
<rect x="622.7" y="1507" width="401.7" height="6.3" fill="#7F7F7F"/>
<text x="782.3" y="1542" font-size="27" textLength="116.2" lengthAdjust="spacingAndGlyphs" stroke="#000" stroke-width="0.45">PB-HSPCs</text>
<rect x="1046.4" y="1507" width="396.3" height="6.3" fill="#F39800"/>
<text x="1206" y="1542" font-size="27" textLength="97.5" lengthAdjust="spacingAndGlyphs" stroke="#000" stroke-width="0.45">PB-LPCs</text>
<text x="1564" y="1231.8" font-size="19.4" textLength="71.5" lengthAdjust="spacingAndGlyphs">Fraction</text>
<circle cx="1541" cy="1257.7" r="4.6" fill="#000" stroke="#000" stroke-width="2.5"/>
<circle cx="1579.4" cy="1257.2" r="6.9" fill="#BDBDBD" stroke="#000" stroke-width="2.6"/>
<circle cx="1617.9" cy="1257.2" r="9.9" fill="#BDBDBD" stroke="#000" stroke-width="2.6"/>
<circle cx="1656.6" cy="1257.2" r="12.8" fill="#BDBDBD" stroke="#000" stroke-width="2.6"/>
<text x="1541.4" y="1288.2" font-size="19" text-anchor="middle">0</text>
<text x="1580.5" y="1288.2" font-size="19" text-anchor="middle">25</text>
<text x="1618.2" y="1288.2" font-size="19" text-anchor="middle">50</text>
<text x="1656.6" y="1288.2" font-size="19" text-anchor="middle">75</text>
<text x="1559" y="1334.7" font-size="19.5" textLength="98" lengthAdjust="spacingAndGlyphs">Expression</text>
<rect x="1530.9" y="1344.6" width="7.31" height="26.3" fill="#17375E"/>
<rect x="1537.91" y="1344.6" width="7.31" height="26.3" fill="#1F4E8C"/>
<rect x="1544.92" y="1344.6" width="7.31" height="26.3" fill="#2566A8"/>
<rect x="1551.93" y="1344.6" width="7.31" height="26.3" fill="#3A7FB5"/>
<rect x="1558.94" y="1344.6" width="7.31" height="26.3" fill="#4E94C0"/>
<rect x="1565.95" y="1344.6" width="7.31" height="26.3" fill="#7BAFD0"/>
<rect x="1572.96" y="1344.6" width="7.31" height="26.3" fill="#9BC6DD"/>
<rect x="1579.97" y="1344.6" width="7.31" height="26.3" fill="#BBD9E8"/>
<rect x="1586.98" y="1344.6" width="7.31" height="26.3" fill="#D8E8F0"/>
<rect x="1593.99" y="1344.6" width="7.31" height="26.3" fill="#EEF1F3"/>
<rect x="1601" y="1344.6" width="7.31" height="26.3" fill="#F8EFEA"/>
<rect x="1608.01" y="1344.6" width="7.31" height="26.3" fill="#FBE0D3"/>
<rect x="1615.02" y="1344.6" width="7.31" height="26.3" fill="#F7C6AE"/>
<rect x="1622.03" y="1344.6" width="7.31" height="26.3" fill="#F0A88A"/>
<rect x="1629.04" y="1344.6" width="7.31" height="26.3" fill="#E48B6E"/>
<rect x="1636.05" y="1344.6" width="7.31" height="26.3" fill="#D46A55"/>
<rect x="1643.06" y="1344.6" width="7.31" height="26.3" fill="#C2463D"/>
<rect x="1650.07" y="1344.6" width="7.31" height="26.3" fill="#AA1F2B"/>
<rect x="1657.08" y="1344.6" width="7.31" height="26.3" fill="#8A1B26"/>
<rect x="1664.09" y="1344.6" width="7.31" height="26.3" fill="#6A1220"/>
<rect x="1529.6" y="1343.4" width="142.8" height="28.7" fill="none" stroke="#000" stroke-width="2.8"/>
<text x="1535.7" y="1389.5" font-size="19.3" text-anchor="middle">−2</text>
<text x="1568.7" y="1389.5" font-size="19.3" text-anchor="middle">−1</text>
<text x="1602.2" y="1389.5" font-size="19.3" text-anchor="middle">0</text>
<text x="1635.7" y="1389.5" font-size="19.3" text-anchor="middle">1</text>
<text x="1669.9" y="1389.5" font-size="19.3" text-anchor="middle">2</text>
<text x="0.6" y="1620.8" font-size="39" font-weight="bold">f</text>
<rect x="121.9" y="1623.1" width="215.8" height="32.9" fill="#fff" stroke="#1c1c1c" stroke-width="1.7"/>
<path d="M148.3 1654.9H175.3" stroke="#1a1a1a" stroke-width="1.3"/><path d="M161.8 1655.3L167.8 1654.9L163.1 1653.7L163.1 1651.96L171.46 1650.86L171.46 1649.76L165.94 1648.86L173.53 1646.8L175.6 1646.1L175.6 1645.2L171.74 1644.3L167.32 1641.05L163.46 1638.05L162.4 1633.3L161.2 1633.3L160.14 1638.05L156.28 1641.05L151.86 1644.3L148 1645.2L148 1646.1L150.07 1646.8L157.66 1648.86L152.14 1649.76L152.14 1650.86L160.5 1651.96L160.5 1653.7L155.8 1654.9L161.8 1655.3Z" fill="#7A1A1F" stroke="#1a1a1a" stroke-width="1" stroke-linejoin="round"/>
<path d="M215.8 1654.9H242.8" stroke="#1a1a1a" stroke-width="1.3"/><path d="M229.3 1655.3V1636.8" stroke="#1a1a1a" stroke-width="1"/>
<path d="M283.5 1654.9H310.5" stroke="#1a1a1a" stroke-width="1.3"/><path d="M297 1655.3V1645.6" stroke="#1a1a1a" stroke-width="1"/>
<text x="111.2" y="1649.9" font-size="26.1" text-anchor="end" textLength="70.5" lengthAdjust="spacingAndGlyphs" letter-spacing="-1.4">GATA1</text>
<rect x="121.9" y="1665.45" width="215.8" height="32.9" fill="#fff" stroke="#1c1c1c" stroke-width="1.7"/>
<path d="M148.3 1697.25H175.3" stroke="#1a1a1a" stroke-width="1.3"/><path d="M161.8 1697.65L167.8 1697.25L163.1 1696.05L163.1 1696.13L164.95 1695.03L164.95 1693.93L163.3 1693.03L165.62 1692.65L166.3 1691.95L166.3 1691.05L165.04 1690.15L163.6 1687.2L162.8 1684.4L162.4 1679.95L161.2 1679.95L160.8 1684.4L160 1687.2L158.56 1690.15L157.3 1691.05L157.3 1691.95L157.98 1692.65L160.3 1693.03L158.65 1693.93L158.65 1695.03L160.5 1696.13L160.5 1696.05L155.8 1697.25L161.8 1697.65Z" fill="#7A1A1F" stroke="#1a1a1a" stroke-width="1" stroke-linejoin="round"/><path d="M154.8 1691.15H168.8" stroke="#1a1a1a" stroke-width="1.5"/>
<path d="M215.8 1697.25H242.8" stroke="#1a1a1a" stroke-width="1.3"/><path d="M229.3 1697.65V1685.05" stroke="#1a1a1a" stroke-width="1"/>
<path d="M283.5 1697.25H310.5" stroke="#1a1a1a" stroke-width="1.3"/><path d="M297 1697.65V1687.95" stroke="#1a1a1a" stroke-width="1"/>
<text x="111.2" y="1692.25" font-size="26.1" text-anchor="end">DMTN</text>
<rect x="121.9" y="1707.8" width="215.8" height="32.9" fill="#fff" stroke="#1c1c1c" stroke-width="1.7"/>
<path d="M148.3 1739.6H175.3" stroke="#1a1a1a" stroke-width="1.3"/><path d="M161.8 1740L167.8 1739.6L163.1 1738.4L163.1 1738.22L165.3 1737.12L165.3 1736.02L163.3 1735.12L166.05 1734.5L166.8 1733.8L166.8 1732.9L165.4 1732L163.8 1728.52L162.8 1725.38L162.4 1720.4L161.2 1720.4L160.8 1725.38L159.8 1728.52L158.2 1732L156.8 1732.9L156.8 1733.8L157.55 1734.5L160.3 1735.12L158.3 1736.02L158.3 1737.12L160.5 1738.22L160.5 1738.4L155.8 1739.6L161.8 1740Z" fill="#7A1A1F" stroke="#1a1a1a" stroke-width="1" stroke-linejoin="round"/><path d="M154.8 1733.5H168.8" stroke="#1a1a1a" stroke-width="1.5"/>
<path d="M215.8 1739.6H242.8" stroke="#1a1a1a" stroke-width="1.3"/><path d="M229.3 1740V1723.6" stroke="#1a1a1a" stroke-width="1"/>
<path d="M283.5 1739.6H310.5" stroke="#1a1a1a" stroke-width="1.3"/><path d="M297 1740V1728.4" stroke="#1a1a1a" stroke-width="1"/>
<text x="111.2" y="1734.6" font-size="26.1" text-anchor="end">MPIG6B</text>
<rect x="121.9" y="1750.15" width="215.8" height="32.9" fill="#fff" stroke="#1c1c1c" stroke-width="1.7"/>
<path d="M148.3 1781.95H175.3" stroke="#1a1a1a" stroke-width="1.3"/><path d="M161.8 1782.35L167.8 1781.95L163.1 1780.75L163.1 1778.59L171.46 1777.49L171.46 1776.39L165.94 1775.49L173.53 1773.05L175.6 1772.35L175.6 1771.45L171.74 1770.55L167.32 1767.3L163.46 1764.3L162.4 1759.55L161.2 1759.55L160.14 1764.3L156.28 1767.3L151.86 1770.55L148 1771.45L148 1772.35L150.07 1773.05L157.66 1775.49L152.14 1776.39L152.14 1777.49L160.5 1778.59L160.5 1780.75L155.8 1781.95L161.8 1782.35Z" fill="#7A1A1F" stroke="#1a1a1a" stroke-width="1" stroke-linejoin="round"/>
<path d="M215.8 1781.95H242.8" stroke="#1a1a1a" stroke-width="1.3"/><path d="M229.3 1782.35V1763.15" stroke="#1a1a1a" stroke-width="1"/>
<path d="M283.5 1781.95H310.5" stroke="#1a1a1a" stroke-width="1.3"/><path d="M297 1782.35V1768.95" stroke="#1a1a1a" stroke-width="1"/>
<text x="111.2" y="1776.95" font-size="26.1" text-anchor="end">ITGA2B</text>
<rect x="121.9" y="1792.5" width="215.8" height="32.9" fill="#fff" stroke="#1c1c1c" stroke-width="1.7"/>
<path d="M148.3 1824.3H175.3" stroke="#1a1a1a" stroke-width="1.3"/><path d="M161.8 1824.7L167.8 1824.3L163.1 1823.1L163.1 1821.36L168.1 1820.26L168.1 1819.16L164.5 1818.26L169.45 1816.2L170.8 1815.5L170.8 1814.6L168.28 1813.7L165.4 1810.07L162.88 1806.83L162.4 1801.7L161.2 1801.7L160.72 1806.83L158.2 1810.07L155.32 1813.7L152.8 1814.6L152.8 1815.5L154.15 1816.2L159.1 1818.26L155.5 1819.16L155.5 1820.26L160.5 1821.36L160.5 1823.1L155.8 1824.3L161.8 1824.7Z" fill="#7A1A1F" stroke="#1a1a1a" stroke-width="1" stroke-linejoin="round"/><path d="M148.3 1818.2H175.3" stroke="#1a1a1a" stroke-width="1.5"/>
<path d="M215.8 1824.3H242.8" stroke="#1a1a1a" stroke-width="1.3"/><path d="M229.3 1824.7V1806.4" stroke="#1a1a1a" stroke-width="1"/>
<path d="M283.5 1824.3H310.5" stroke="#1a1a1a" stroke-width="1.3"/><path d="M297 1824.7L300.1 1824.2L297.55 1822.7L297.55 1821.73L297.88 1818.58L298.1 1816.2L297.95 1814.46L297.5 1812.25L297.9 1810.51L297.5 1808.3L296.5 1808.3L296.1 1810.51L296.5 1812.25L296.05 1814.46L295.9 1816.2L296.12 1818.58L296.45 1821.73L296.45 1822.7L293.9 1824.2L297 1824.7Z" fill="#7A1A1F" stroke="#1a1a1a" stroke-width="1" stroke-linejoin="round"/>
<text x="111.2" y="1819.3" font-size="26.1" text-anchor="end">VCL</text>
<rect x="121.9" y="1834.85" width="215.8" height="32.9" fill="#fff" stroke="#1c1c1c" stroke-width="1.7"/>
<path d="M148.3 1866.65H175.3" stroke="#1a1a1a" stroke-width="1.3"/><path d="M161.8 1867.05L167.8 1866.65L163.1 1865.45L163.1 1864.75L165.65 1863.65L165.65 1862.55L163.45 1861.65L166.48 1860.55L167.3 1859.85L167.3 1858.95L165.76 1858.05L164 1856.43L162.8 1854.47L162.4 1851.35L161.2 1851.35L160.8 1854.47L159.6 1856.43L157.84 1858.05L156.3 1858.95L156.3 1859.85L157.12 1860.55L160.15 1861.65L157.95 1862.55L157.95 1863.65L160.5 1864.75L160.5 1865.45L155.8 1866.65L161.8 1867.05Z" fill="#7A1A1F" stroke="#1a1a1a" stroke-width="1" stroke-linejoin="round"/><path d="M148.3 1860.55H175.3" stroke="#1a1a1a" stroke-width="1.5"/>
<path d="M215.8 1866.65H242.8" stroke="#1a1a1a" stroke-width="1.3"/><path d="M229.3 1867.05V1853.55" stroke="#1a1a1a" stroke-width="1"/>
<path d="M283.5 1866.65H310.5" stroke="#1a1a1a" stroke-width="1.3"/><path d="M297 1867.05V1853.55" stroke="#1a1a1a" stroke-width="1"/>
<text x="111.2" y="1861.65" font-size="26.1" text-anchor="end">PIK3CB</text>
<rect x="121.9" y="1877.2" width="215.8" height="32.9" fill="#fff" stroke="#1c1c1c" stroke-width="1.7"/>
<path d="M148.3 1909H175.3" stroke="#1a1a1a" stroke-width="1.3"/><path d="M161.8 1909.4L167.3 1908.8L163.4 1907.2L164 1906L175.6 1903.4L169.39 1901.7L167.6 1899.9L164.8 1896.4L163.7 1893.9L163.5 1880.4L163 1878.4L160.6 1878.4L160.1 1880.4L159.9 1893.9L158.8 1896.4L156 1899.9L154.21 1901.7L148 1903.4L159.6 1906L160.2 1907.2L156.3 1908.8L161.8 1909.4Z" fill="#7A1A1F" stroke="#1a1a1a" stroke-width="1" stroke-linejoin="round"/>
<path d="M215.8 1909H242.8" stroke="#1a1a1a" stroke-width="1.3"/><path d="M229.3 1909.4V1880.8" stroke="#1a1a1a" stroke-width="1"/>
<path d="M283.5 1909H310.5" stroke="#1a1a1a" stroke-width="1.3"/>
<text x="111.2" y="1904" font-size="26.1" text-anchor="end">HBA2</text>
<rect x="121.9" y="1919.55" width="215.8" height="32.9" fill="#fff" stroke="#1c1c1c" stroke-width="1.7"/>
<path d="M148.3 1951.35H175.3" stroke="#1a1a1a" stroke-width="1.3"/><path d="M161.8 1951.75L167.8 1951.35L163.1 1950.15L163.1 1948.67L167.4 1947.57L167.4 1946.47L164.2 1945.57L168.6 1943.75L169.8 1943.05L169.8 1942.15L167.56 1941.25L165 1938.57L162.8 1935.93L162.4 1931.75L161.2 1931.75L160.8 1935.93L158.6 1938.57L156.04 1941.25L153.8 1942.15L153.8 1943.05L155 1943.75L159.4 1945.57L156.2 1946.47L156.2 1947.57L160.5 1948.67L160.5 1950.15L155.8 1951.35L161.8 1951.75Z" fill="#7A1A1F" stroke="#1a1a1a" stroke-width="1" stroke-linejoin="round"/><path d="M150.05 1945.25H173.55" stroke="#1a1a1a" stroke-width="1.5"/>
<path d="M215.8 1951.35H242.8" stroke="#1a1a1a" stroke-width="1.3"/><path d="M229.3 1951.75V1936.95" stroke="#1a1a1a" stroke-width="1"/>
<path d="M283.5 1951.35H310.5" stroke="#1a1a1a" stroke-width="1.3"/>
<text x="111.2" y="1946.35" font-size="26.1" text-anchor="end">HBQ1</text>
<rect x="121.9" y="1961.9" width="215.8" height="32.9" fill="#fff" stroke="#1c1c1c" stroke-width="1.7"/>
<path d="M148.3 1993.7H175.3" stroke="#1a1a1a" stroke-width="1.3"/><path d="M161.8 1994.1L167.3 1993.5L163.4 1991.9L164 1990.7L175.3 1988.6L169.23 1986.9L167.47 1985.1L164.8 1981.6L163.7 1979.1L163.5 1965.1L163 1963.1L160.6 1963.1L160.1 1965.1L159.9 1979.1L158.8 1981.6L156.13 1985.1L154.38 1986.9L148.3 1988.6L159.6 1990.7L160.2 1991.9L156.3 1993.5L161.8 1994.1Z" fill="#7A1A1F" stroke="#1a1a1a" stroke-width="1" stroke-linejoin="round"/>
<path d="M215.8 1993.7H242.8" stroke="#1a1a1a" stroke-width="1.3"/><path d="M229.3 1994.1V1963.1" stroke="#1a1a1a" stroke-width="1"/>
<path d="M283.5 1993.7H310.5" stroke="#1a1a1a" stroke-width="1.3"/>
<text x="111.2" y="1988.7" font-size="26.1" text-anchor="end">HBZ</text>
<rect x="121.9" y="2004.25" width="215.8" height="32.9" fill="#fff" stroke="#1c1c1c" stroke-width="1.7"/>
<path d="M148.3 2036.05H175.3" stroke="#1a1a1a" stroke-width="1.3"/><path d="M161.8 2036.45V2017.15" stroke="#1a1a1a" stroke-width="1"/><path d="M157.8 2030.05H165.8" stroke="#1a1a1a" stroke-width="1.5"/><path d="M161.8 2031.45l2.2 -2.6l-2.2 -3l-2.2 3z" fill="#1a1a1a"/>
<path d="M215.8 2036.05H242.8" stroke="#1a1a1a" stroke-width="1.3"/><path d="M229.3 2036.45L234.8 2035.95L230.7 2034.45L230.7 2033.83L233.54 2031.05L234.6 2028.95L233.86 2026.51L231.69 2023.4L230.2 2020.96L229.8 2017.85L228.8 2017.85L228.4 2020.96L226.92 2023.4L224.74 2026.51L224 2028.95L225.06 2031.05L227.9 2033.83L227.9 2034.45L223.8 2035.95L229.3 2036.45Z" fill="#7F7F7F" stroke="#1a1a1a" stroke-width="1" stroke-linejoin="round"/>
<path d="M283.5 2036.05H310.5" stroke="#1a1a1a" stroke-width="1.3"/><path d="M297 2036.45L300.7 2035.95L297.85 2034.45L297.85 2033.3L298.36 2029.97L298.7 2027.45L298.46 2025.34L297.76 2022.65L297.9 2020.54L297.5 2017.85L296.5 2017.85L296.1 2020.54L296.24 2022.65L295.54 2025.34L295.3 2027.45L295.64 2029.97L296.15 2033.3L296.15 2034.45L293.3 2035.95L297 2036.45Z" fill="#7F7F7F" stroke="#1a1a1a" stroke-width="1" stroke-linejoin="round"/>
<text x="111.2" y="2031.05" font-size="26.1" text-anchor="end">ETV6</text>
<rect x="121.9" y="2046.6" width="215.8" height="32.9" fill="#fff" stroke="#1c1c1c" stroke-width="1.7"/>
<path d="M148.3 2078.4H175.3" stroke="#1a1a1a" stroke-width="1.3"/><path d="M161.8 2078.8V2057.4" stroke="#1a1a1a" stroke-width="1"/><path d="M156.8 2072.4H166.8" stroke="#1a1a1a" stroke-width="1.5"/><path d="M161.8 2073.8l2.2 -2.6l-2.2 -3l-2.2 3z" fill="#1a1a1a"/>
<path d="M215.8 2078.4H242.8" stroke="#1a1a1a" stroke-width="1.3"/><path d="M229.3 2078.8L234.8 2078.3L230.7 2076.8L230.7 2075.65L236.9 2072.32L238.8 2069.8L237.47 2067.25L233.58 2064L230.44 2061.45L229.8 2058.2L228.8 2058.2L228.16 2061.45L225.03 2064L221.13 2067.25L219.8 2069.8L221.7 2072.32L227.9 2075.65L227.9 2076.8L223.8 2078.3L229.3 2078.8Z" fill="#7F7F7F" stroke="#1a1a1a" stroke-width="1" stroke-linejoin="round"/>
<path d="M283.5 2078.4H310.5" stroke="#1a1a1a" stroke-width="1.3"/><path d="M297 2078.8L302.5 2078.3L298.4 2076.8L298.4 2074.88L305.6 2070.74L307.75 2067.6L306.25 2064.89L301.84 2061.45L298.29 2058.74L297.5 2055.3L296.5 2055.3L295.71 2058.74L292.16 2061.45L287.75 2064.89L286.25 2067.6L288.4 2070.74L295.6 2074.88L295.6 2076.8L291.5 2078.3L297 2078.8Z" fill="#7F7F7F" stroke="#1a1a1a" stroke-width="1" stroke-linejoin="round"/>
<text x="111.2" y="2073.4" font-size="26.1" text-anchor="end">CD34</text>
<rect x="121.9" y="2088.95" width="215.8" height="32.9" fill="#fff" stroke="#1c1c1c" stroke-width="1.7"/>
<path d="M148.3 2120.75H175.3" stroke="#1a1a1a" stroke-width="1.3"/><path d="M161.8 2121.15V2099.75" stroke="#1a1a1a" stroke-width="1"/><path d="M150.8 2114.75H172.8" stroke="#1a1a1a" stroke-width="1.5"/><path d="M161.8 2116.15l2.2 -2.6l-2.2 -3l-2.2 3z" fill="#1a1a1a"/>
<path d="M215.8 2120.75H242.8" stroke="#1a1a1a" stroke-width="1.3"/><path d="M229.3 2121.15L234.8 2120.65L230.7 2119.15L230.7 2117.47L239.66 2113.59L242.25 2110.65L240.44 2108.43L235.13 2105.6L230.85 2103.38L229.8 2100.55L228.8 2100.55L227.75 2103.38L223.47 2105.6L218.16 2108.43L216.35 2110.65L218.94 2113.59L227.9 2117.47L227.9 2119.15L223.8 2120.65L229.3 2121.15Z" fill="#7F7F7F" stroke="#1a1a1a" stroke-width="1" stroke-linejoin="round"/>
<path d="M283.5 2120.75H310.5" stroke="#1a1a1a" stroke-width="1.3"/><path d="M297 2121.15L302.5 2120.65L298.4 2119.15L298.4 2116.99L307.92 2112.58L310.65 2109.25L308.74 2106.52L303.14 2103.05L298.64 2100.32L297.5 2096.85L296.5 2096.85L295.36 2100.32L290.86 2103.05L285.26 2106.52L283.35 2109.25L286.08 2112.58L295.6 2116.99L295.6 2119.15L291.5 2120.65L297 2121.15Z" fill="#7F7F7F" stroke="#1a1a1a" stroke-width="1" stroke-linejoin="round"/>
<text x="111.2" y="2115.75" font-size="26.1" text-anchor="end">N4BP2L2</text>
<rect x="121.9" y="2131.3" width="215.8" height="32.9" fill="#fff" stroke="#1c1c1c" stroke-width="1.7"/>
<path d="M148.3 2163.1H175.3" stroke="#1a1a1a" stroke-width="1.3"/><path d="M161.8 2163.5V2137.9" stroke="#1a1a1a" stroke-width="1"/><path d="M156.3 2157.1H167.3" stroke="#1a1a1a" stroke-width="1.5"/><path d="M161.8 2158.5l2.2 -2.6l-2.2 -3l-2.2 3z" fill="#1a1a1a"/>
<path d="M215.8 2163.1H242.8" stroke="#1a1a1a" stroke-width="1.3"/><path d="M229.3 2163.5L234.8 2163L230.7 2161.5L230.7 2159.55L240.1 2155.36L242.8 2152.2L240.91 2149.19L235.38 2145.35L230.92 2142.34L229.8 2138.5L228.8 2138.5L227.68 2142.34L223.23 2145.35L217.69 2149.19L215.8 2152.2L218.5 2155.36L227.9 2159.55L227.9 2161.5L223.8 2163L229.3 2163.5Z" fill="#7F7F7F" stroke="#1a1a1a" stroke-width="1" stroke-linejoin="round"/>
<path d="M283.5 2163.1H310.5" stroke="#1a1a1a" stroke-width="1.3"/><path d="M297 2163.5L302.5 2163L298.4 2161.5L298.4 2159.65L302.52 2155.58L303.9 2152.5L302.93 2150.26L300.11 2147.4L297.9 2145.16L297.5 2142.3L296.5 2142.3L296.1 2145.16L293.89 2147.4L291.07 2150.26L290.1 2152.5L291.48 2155.58L295.6 2159.65L295.6 2161.5L291.5 2163L297 2163.5Z" fill="#7F7F7F" stroke="#1a1a1a" stroke-width="1" stroke-linejoin="round"/>
<text x="111.2" y="2158.1" font-size="26.1" text-anchor="end">XBP1</text>
<rect x="121.9" y="2173.65" width="215.8" height="32.9" fill="#fff" stroke="#1c1c1c" stroke-width="1.7"/>
<path d="M148.3 2205.45H175.3" stroke="#1a1a1a" stroke-width="1.3"/><path d="M161.8 2205.85V2189.45" stroke="#1a1a1a" stroke-width="1"/><path d="M158.55 2199.45H165.05" stroke="#1a1a1a" stroke-width="1.5"/><path d="M161.8 2200.85l2.2 -2.6l-2.2 -3l-2.2 3z" fill="#1a1a1a"/>
<path d="M215.8 2205.45H242.8" stroke="#1a1a1a" stroke-width="1.3"/><path d="M229.3 2205.85L234.8 2205.35L230.7 2203.85L230.7 2202.7L232.66 2199.37L233.5 2196.85L232.91 2194.43L231.19 2191.35L230.2 2188.93L229.8 2185.85L228.8 2185.85L228.4 2188.93L227.41 2191.35L225.69 2194.43L225.1 2196.85L225.94 2199.37L227.9 2202.7L227.9 2203.85L223.8 2205.35L229.3 2205.85Z" fill="#7F7F7F" stroke="#1a1a1a" stroke-width="1" stroke-linejoin="round"/>
<path d="M283.5 2205.45H310.5" stroke="#1a1a1a" stroke-width="1.3"/><path d="M297 2205.85L302.5 2205.35L298.4 2203.85L298.4 2202.14L299.92 2198.22L300.65 2195.25L300.14 2192.85L298.64 2189.8L297.9 2187.4L297.5 2184.35L296.5 2184.35L296.1 2187.4L295.36 2189.8L293.86 2192.85L293.35 2195.25L294.08 2198.22L295.6 2202.14L295.6 2203.85L291.5 2205.35L297 2205.85Z" fill="#7F7F7F" stroke="#1a1a1a" stroke-width="1" stroke-linejoin="round"/>
<text x="111.2" y="2200.45" font-size="26.1" text-anchor="end">RIPK2</text>
<rect x="121.9" y="2216" width="215.8" height="32.9" fill="#fff" stroke="#1c1c1c" stroke-width="1.7"/>
<path d="M148.3 2247.8H175.3" stroke="#1a1a1a" stroke-width="1.3"/><path d="M161.8 2248.2V2217.2" stroke="#1a1a1a" stroke-width="1"/>
<path d="M215.8 2247.8H242.8" stroke="#1a1a1a" stroke-width="1.3"/><path d="M229.3 2248.2L234.8 2247.7L230.7 2246.2L230.7 2241.94L240.62 2235.31L243.45 2230.3L241.47 2227.31L235.67 2223.5L231 2220.51L229.8 2216.7L228.8 2216.7L227.6 2220.51L222.93 2223.5L217.13 2227.31L215.15 2230.3L217.98 2235.31L227.9 2241.94L227.9 2246.2L223.8 2247.7L229.3 2248.2Z" fill="#7F7F7F" stroke="#1a1a1a" stroke-width="1" stroke-linejoin="round"/>
<path d="M283.5 2247.8H310.5" stroke="#1a1a1a" stroke-width="1.3"/><path d="M297 2248.2L302.5 2247.7L298.4 2246.2L298.4 2242.95L306 2237.4L308.25 2233.2L306.68 2230.34L302.06 2226.7L298.35 2223.84L297.5 2220.2L296.5 2220.2L295.65 2223.84L291.94 2226.7L287.32 2230.34L285.75 2233.2L288 2237.4L295.6 2242.95L295.6 2246.2L291.5 2247.7L297 2248.2Z" fill="#7F7F7F" stroke="#1a1a1a" stroke-width="1" stroke-linejoin="round"/>
<text x="111.2" y="2242.8" font-size="26.1" text-anchor="end">ANXA1</text>
<rect x="121.9" y="2258.35" width="215.8" height="32.9" fill="#fff" stroke="#1c1c1c" stroke-width="1.7"/>
<path d="M148.3 2290.15H175.3" stroke="#1a1a1a" stroke-width="1.3"/><path d="M161.8 2290.55L166.3 2290.05L163.05 2288.55L163.05 2287.95L163.8 2285.87L164.3 2284.05L163.95 2281.1L162.93 2277.35L162.7 2274.4L162.3 2270.65L161.3 2270.65L160.9 2274.4L160.68 2277.35L159.65 2281.1L159.3 2284.05L159.8 2285.87L160.55 2287.95L160.55 2288.55L157.3 2290.05L161.8 2290.55Z" fill="#F39C2D" stroke="#1a1a1a" stroke-width="1" stroke-linejoin="round"/><path d="M155.8 2284.05H167.8" stroke="#1a1a1a" stroke-width="1.5"/>
<path d="M215.8 2290.15H242.8" stroke="#1a1a1a" stroke-width="1.3"/><path d="M229.3 2290.55L234.8 2290.05L230.7 2288.55L230.7 2287.19L235.54 2283.64L237.1 2280.95L236.01 2278.31L232.81 2274.95L230.24 2272.31L229.8 2268.95L228.8 2268.95L228.36 2272.31L225.79 2274.95L222.59 2278.31L221.5 2280.95L223.06 2283.64L227.9 2287.19L227.9 2288.55L223.8 2290.05L229.3 2290.55Z" fill="#F39C2D" stroke="#1a1a1a" stroke-width="1" stroke-linejoin="round"/>
<path d="M283.5 2290.15H310.5" stroke="#1a1a1a" stroke-width="1.3"/><path d="M297 2290.55L302.5 2290.05L298.4 2288.55L298.4 2284.95L308.2 2279.03L311 2274.55L309.04 2272.68L303.3 2270.3L298.68 2268.43L297.5 2266.05L296.5 2266.05L295.32 2268.43L290.7 2270.3L284.96 2272.68L283 2274.55L285.8 2279.03L295.6 2284.95L295.6 2288.55L291.5 2290.05L297 2290.55Z" fill="#F39C2D" stroke="#1a1a1a" stroke-width="1" stroke-linejoin="round"/>
<text x="111.2" y="2285.15" font-size="26.1" text-anchor="end">CORO1A</text>
<rect x="121.9" y="2300.7" width="215.8" height="32.9" fill="#fff" stroke="#1c1c1c" stroke-width="1.7"/>
<path d="M148.3 2332.5H175.3" stroke="#1a1a1a" stroke-width="1.3"/><path d="M161.8 2332.9V2313.7" stroke="#1a1a1a" stroke-width="1"/>
<path d="M215.8 2332.5H242.8" stroke="#1a1a1a" stroke-width="1.3"/><path d="M229.3 2332.9L234.8 2332.4L230.7 2330.9L230.7 2329.4L235.54 2325.7L237.1 2322.9L236.01 2320.26L232.81 2316.9L230.24 2314.26L229.8 2310.9L228.8 2310.9L228.36 2314.26L225.79 2316.9L222.59 2320.26L221.5 2322.9L223.06 2325.7L227.9 2329.4L227.9 2330.9L223.8 2332.4L229.3 2332.9Z" fill="#F39C2D" stroke="#1a1a1a" stroke-width="1" stroke-linejoin="round"/>
<path d="M283.5 2332.5H310.5" stroke="#1a1a1a" stroke-width="1.3"/><path d="M297 2332.9L302.5 2332.4L298.4 2330.9L298.4 2326.85L308.2 2320.44L311 2315.6L309.04 2313.49L303.3 2310.8L298.68 2308.69L297.5 2306L296.5 2306L295.32 2308.69L290.7 2310.8L284.96 2313.49L283 2315.6L285.8 2320.44L295.6 2326.85L295.6 2330.9L291.5 2332.4L297 2332.9Z" fill="#F39C2D" stroke="#1a1a1a" stroke-width="1" stroke-linejoin="round"/>
<text x="111.2" y="2327.5" font-size="26.1" text-anchor="end">VSIR</text>
<rect x="121.9" y="2343.05" width="215.8" height="32.9" fill="#fff" stroke="#1c1c1c" stroke-width="1.7"/>
<path d="M148.3 2374.85H175.3" stroke="#1a1a1a" stroke-width="1.3"/><path d="M161.8 2375.25V2360.25" stroke="#1a1a1a" stroke-width="1"/>
<path d="M215.8 2374.85H242.8" stroke="#1a1a1a" stroke-width="1.3"/><path d="M229.3 2375.25V2363.75" stroke="#1a1a1a" stroke-width="1"/>
<path d="M283.5 2374.85H310.5" stroke="#1a1a1a" stroke-width="1.3"/><path d="M297 2375.25L302.5 2374.75L298.4 2373.25L298.4 2371.22L300.2 2366.97L301 2363.75L300.44 2361.66L298.8 2359L297.9 2356.91L297.5 2354.25L296.5 2354.25L296.1 2356.91L295.2 2359L293.56 2361.66L293 2363.75L293.8 2366.97L295.6 2371.22L295.6 2373.25L291.5 2374.75L297 2375.25Z" fill="#F39C2D" stroke="#1a1a1a" stroke-width="1" stroke-linejoin="round"/>
<text x="111.2" y="2369.85" font-size="26.1" text-anchor="end">CCR7</text>
<text x="342.6" y="2349.3" font-size="11.3" fill="#9a9a9a" style="stroke:none">4</text>
<text x="342.6" y="2363.5" font-size="11.3" fill="#9a9a9a" style="stroke:none">2</text>
<text x="342.6" y="2376.2" font-size="11.3" fill="#9a9a9a" style="stroke:none">0</text>
<rect x="354.9" y="1620" width="6.4" height="121" fill="#6B3A0A"/>
<rect x="354.9" y="1748.3" width="6.4" height="121.5" fill="#6B3A0A"/>
<rect x="354.9" y="1879.5" width="6.4" height="115.9" fill="#6B3A0A"/>
<rect x="354.9" y="2003.3" width="6.4" height="120.9" fill="#8C8C8C"/>
<rect x="354.9" y="2132.6" width="6.4" height="117.9" fill="#8C8C8C"/>
<rect x="354.9" y="2259" width="6.4" height="117.4" fill="#F39800"/>
<text x="373.7" y="1690.3" font-size="26.5" textLength="299.3" lengthAdjust="spacingAndGlyphs">myeloid cell development</text>
<text x="373.7" y="1815.4" font-size="26.5" textLength="205.5" lengthAdjust="spacingAndGlyphs">platelet activation</text>
<text x="373.7" y="1940.6" font-size="26.5" textLength="198.4" lengthAdjust="spacingAndGlyphs">oxygen transport</text>
<text x="373.7" y="2060.1" font-size="26.5" textLength="229.4" lengthAdjust="spacingAndGlyphs">hematopoietic stem</text>
<text x="380.4" y="2091.9" font-size="26.5" textLength="186.4" lengthAdjust="spacingAndGlyphs">cell proliferation</text>
<text x="373.7" y="2181.7" font-size="26.5" textLength="213.9" lengthAdjust="spacingAndGlyphs">positive regulation</text>
<text x="373.7" y="2212.6" font-size="26.5" textLength="179.8" lengthAdjust="spacingAndGlyphs">of hemopoiesis</text>
<text x="373.7" y="2307.7" font-size="26.5" textLength="244.8" lengthAdjust="spacingAndGlyphs">positive regulation of</text>
<text x="373.7" y="2338.7" font-size="26.5" textLength="253.7" lengthAdjust="spacingAndGlyphs">lymphocyte activation</text>
<text font-size="26.5" text-anchor="end" font-weight="bold" transform="translate(167.5 2390.8) rotate(-45)">hESC-HPCs</text>
<text font-size="26.5" text-anchor="end" font-weight="bold" transform="translate(240.5 2387.3) rotate(-45)">PB-HSPCs</text>
<text font-size="26.5" text-anchor="end" font-weight="bold" transform="translate(310 2388.3) rotate(-45)">PB-LPCs</text>
<text x="926.5" y="1620" font-size="39" font-weight="bold">g</text>
<text x="1267.3" y="1661.4" font-size="26.8" font-weight="bold" textLength="151.3" lengthAdjust="spacingAndGlyphs">hESC-HPCs</text>
<rect x="1243.1" y="1678.3" width="214.2" height="21.2" fill="#76401F"/>
<line x1="1456.7" y1="1677.3" x2="1456.7" y2="1700.5" stroke="#76401F" stroke-width="1.4"/>
<line x1="1238.3" y1="1688.9" x2="1243.1" y2="1688.9" stroke="#000" stroke-width="2.2"/>
<text x="1234.6" y="1692.3" font-size="23.25" text-anchor="end">mitochondrial inner membrane</text>
<rect x="1243.1" y="1709.2" width="205.4" height="21.2" fill="#76401F"/>
<line x1="1447.9" y1="1708.2" x2="1447.9" y2="1731.4" stroke="#76401F" stroke-width="1.4"/>
<line x1="1238.3" y1="1719.8" x2="1243.1" y2="1719.8" stroke="#000" stroke-width="2.2"/>
<text x="1234.6" y="1723.2" font-size="23.25" text-anchor="end">mitochondrial protein complex</text>
<rect x="1243.1" y="1739.7" width="114.4" height="21.2" fill="#76401F"/>
<line x1="1356.9" y1="1738.7" x2="1356.9" y2="1761.9" stroke="#76401F" stroke-width="1.4"/>
<line x1="1238.3" y1="1750.3" x2="1243.1" y2="1750.3" stroke="#000" stroke-width="2.2"/>
<text x="1234.6" y="1754.2" font-size="23.25" text-anchor="end">mitochondrial matrix</text>
<rect x="1243.1" y="1770.6" width="113.7" height="21.2" fill="#76401F"/>
<line x1="1356.2" y1="1769.6" x2="1356.2" y2="1792.8" stroke="#76401F" stroke-width="1.4"/>
<line x1="1238.3" y1="1781.2" x2="1243.1" y2="1781.2" stroke="#000" stroke-width="2.2"/>
<text x="1234.6" y="1784.6" font-size="23.25" text-anchor="end">inner mitochondrial membrane protein complex</text>
<rect x="1243.1" y="1801.4" width="106.3" height="21.2" fill="#76401F"/>
<line x1="1348.8" y1="1800.4" x2="1348.8" y2="1823.6" stroke="#76401F" stroke-width="1.4"/>
<line x1="1238.3" y1="1812" x2="1243.1" y2="1812" stroke="#000" stroke-width="2.2"/>
<text x="1234.6" y="1815.4" font-size="23.25" text-anchor="end">mitochondrial translational elongation</text>
<path d="M1243.1 1666.2V1832H1504.1" fill="none" stroke="#000" stroke-width="2.6" stroke-linecap="round"/>
<text x="1242.8" y="1854.1" font-size="19.3" text-anchor="middle">0</text>
<text x="1305" y="1854.1" font-size="19.3" text-anchor="middle">20</text>
<text x="1368.9" y="1854.1" font-size="19.3" text-anchor="middle">40</text>
<text x="1432.3" y="1854.1" font-size="19.3" text-anchor="middle">60</text>
<text x="1495.7" y="1854.1" font-size="19.3" text-anchor="middle">80</text>
<text x="1290.5" y="1944.3" font-size="26.8" font-weight="bold" textLength="135.7" lengthAdjust="spacingAndGlyphs">PB-HSPCs</text>
<rect x="1245.1" y="1957.2" width="244.3" height="21.2" fill="#808080"/>
<line x1="1488.8" y1="1956.2" x2="1488.8" y2="1979.4" stroke="#808080" stroke-width="1.4"/>
<line x1="1240.3" y1="1967.8" x2="1245.1" y2="1967.8" stroke="#000" stroke-width="2.2"/>
<text x="1234.6" y="1970.7" font-size="23.25" text-anchor="end">MHC protein complex</text>
<rect x="1245.1" y="1988" width="204.6" height="21.2" fill="#808080"/>
<line x1="1449.1" y1="1987" x2="1449.1" y2="2010.2" stroke="#808080" stroke-width="1.4"/>
<line x1="1240.3" y1="1998.6" x2="1245.1" y2="1998.6" stroke="#000" stroke-width="2.2"/>
<text x="1234.6" y="2001.9" font-size="23.25" text-anchor="end">integral component of lumenal side of ER membrane</text>
<rect x="1245.1" y="2019.1" width="204.6" height="21.2" fill="#808080"/>
<line x1="1449.1" y1="2018.1" x2="1449.1" y2="2041.3" stroke="#808080" stroke-width="1.4"/>
<line x1="1240.3" y1="2029.7" x2="1245.1" y2="2029.7" stroke="#000" stroke-width="2.2"/>
<text x="1234.6" y="2032.4" font-size="23.25" text-anchor="end">lumenal side of ER membrane</text>
<rect x="1245.1" y="2050.1" width="176.3" height="21.2" fill="#808080"/>
<line x1="1420.8" y1="2049.1" x2="1420.8" y2="2072.3" stroke="#808080" stroke-width="1.4"/>
<line x1="1240.3" y1="2060.7" x2="1245.1" y2="2060.7" stroke="#000" stroke-width="2.2"/>
<text x="1234.6" y="2063.4" font-size="23.25" text-anchor="end">MHC class II protein complex</text>
<rect x="1245.1" y="2080.6" width="163.7" height="21.2" fill="#808080"/>
<line x1="1408.2" y1="2079.6" x2="1408.2" y2="2102.8" stroke="#808080" stroke-width="1.4"/>
<line x1="1240.3" y1="2091.2" x2="1245.1" y2="2091.2" stroke="#000" stroke-width="2.2"/>
<text x="1234.6" y="2094.4" font-size="23.25" text-anchor="end">response to interferon-gamma</text>
<path d="M1245.1 1945.1V2111.3H1506.6" fill="none" stroke="#000" stroke-width="2.6" stroke-linecap="round"/>
<text x="1247.1" y="2130.2" font-size="19.3" text-anchor="middle">0</text>
<text x="1309.5" y="2130.2" font-size="19.3" text-anchor="middle">5</text>
<text x="1372.2" y="2130.2" font-size="19.3" text-anchor="middle">10</text>
<text x="1435.3" y="2130.2" font-size="19.3" text-anchor="middle">15</text>
<text x="1497.8" y="2130.2" font-size="19.3" text-anchor="middle">20</text>
<text x="1295.6" y="2214.3" font-size="26.8" font-weight="bold" textLength="114.9" lengthAdjust="spacingAndGlyphs">PB-LPCs</text>
<rect x="1243.1" y="2226.2" width="222.3" height="21.2" fill="#F39B40"/>
<line x1="1464.8" y1="2225.2" x2="1464.8" y2="2248.4" stroke="#F39B40" stroke-width="1.4"/>
<line x1="1238.3" y1="2236.8" x2="1243.1" y2="2236.8" stroke="#000" stroke-width="2.2"/>
<text x="1234.6" y="2240.7" font-size="23.25" text-anchor="end">T cell activation</text>
<rect x="1243.1" y="2256.6" width="201.6" height="21.2" fill="#F39B40"/>
<line x1="1444.1" y1="2255.6" x2="1444.1" y2="2278.8" stroke="#F39B40" stroke-width="1.4"/>
<line x1="1238.3" y1="2267.2" x2="1243.1" y2="2267.2" stroke="#000" stroke-width="2.2"/>
<text x="1234.6" y="2272" font-size="23.25" text-anchor="end">MHC protein complex</text>
<rect x="1243.1" y="2287.3" width="199.1" height="21.2" fill="#F39B40"/>
<line x1="1441.6" y1="2286.3" x2="1441.6" y2="2309.5" stroke="#F39B40" stroke-width="1.4"/>
<line x1="1238.3" y1="2297.9" x2="1243.1" y2="2297.9" stroke="#000" stroke-width="2.2"/>
<text x="1234.6" y="2303.3" font-size="23.25" text-anchor="end">lymphocyte differentiation</text>
<rect x="1243.1" y="2318.3" width="192" height="21.2" fill="#F39B40"/>
<line x1="1434.5" y1="2317.3" x2="1434.5" y2="2340.5" stroke="#F39B40" stroke-width="1.4"/>
<line x1="1238.3" y1="2328.9" x2="1243.1" y2="2328.9" stroke="#000" stroke-width="2.2"/>
<text x="1234.6" y="2334.5" font-size="23.25" text-anchor="end">T cell differentiation</text>
<rect x="1243.1" y="2349.2" width="189.7" height="21.2" fill="#F39B40"/>
<line x1="1432.2" y1="2348.2" x2="1432.2" y2="2371.4" stroke="#F39B40" stroke-width="1.4"/>
<line x1="1238.3" y1="2359.8" x2="1243.1" y2="2359.8" stroke="#000" stroke-width="2.2"/>
<text x="1234.6" y="2365.8" font-size="23.25" text-anchor="end">antigen processing and presentation</text>
<path d="M1243.1 2214.3V2379.5H1504.1" fill="none" stroke="#000" stroke-width="2.6" stroke-linecap="round"/>
<text x="1240" y="2398.4" font-size="19.3" text-anchor="middle">0</text>
<text x="1291.1" y="2398.4" font-size="19.3" text-anchor="middle">5</text>
<text x="1341.1" y="2398.4" font-size="19.3" text-anchor="middle">10</text>
<text x="1391.1" y="2398.4" font-size="19.3" text-anchor="middle">15</text>
<text x="1441.7" y="2398.4" font-size="19.3" text-anchor="middle">20</text>
<text x="1491.9" y="2398.4" font-size="19.3" text-anchor="middle">25</text>
<text x="1352.5" y="2421.9" font-size="19.7" textLength="148" lengthAdjust="spacingAndGlyphs">-Log10 (P-value)</text>
</svg></body></html>
